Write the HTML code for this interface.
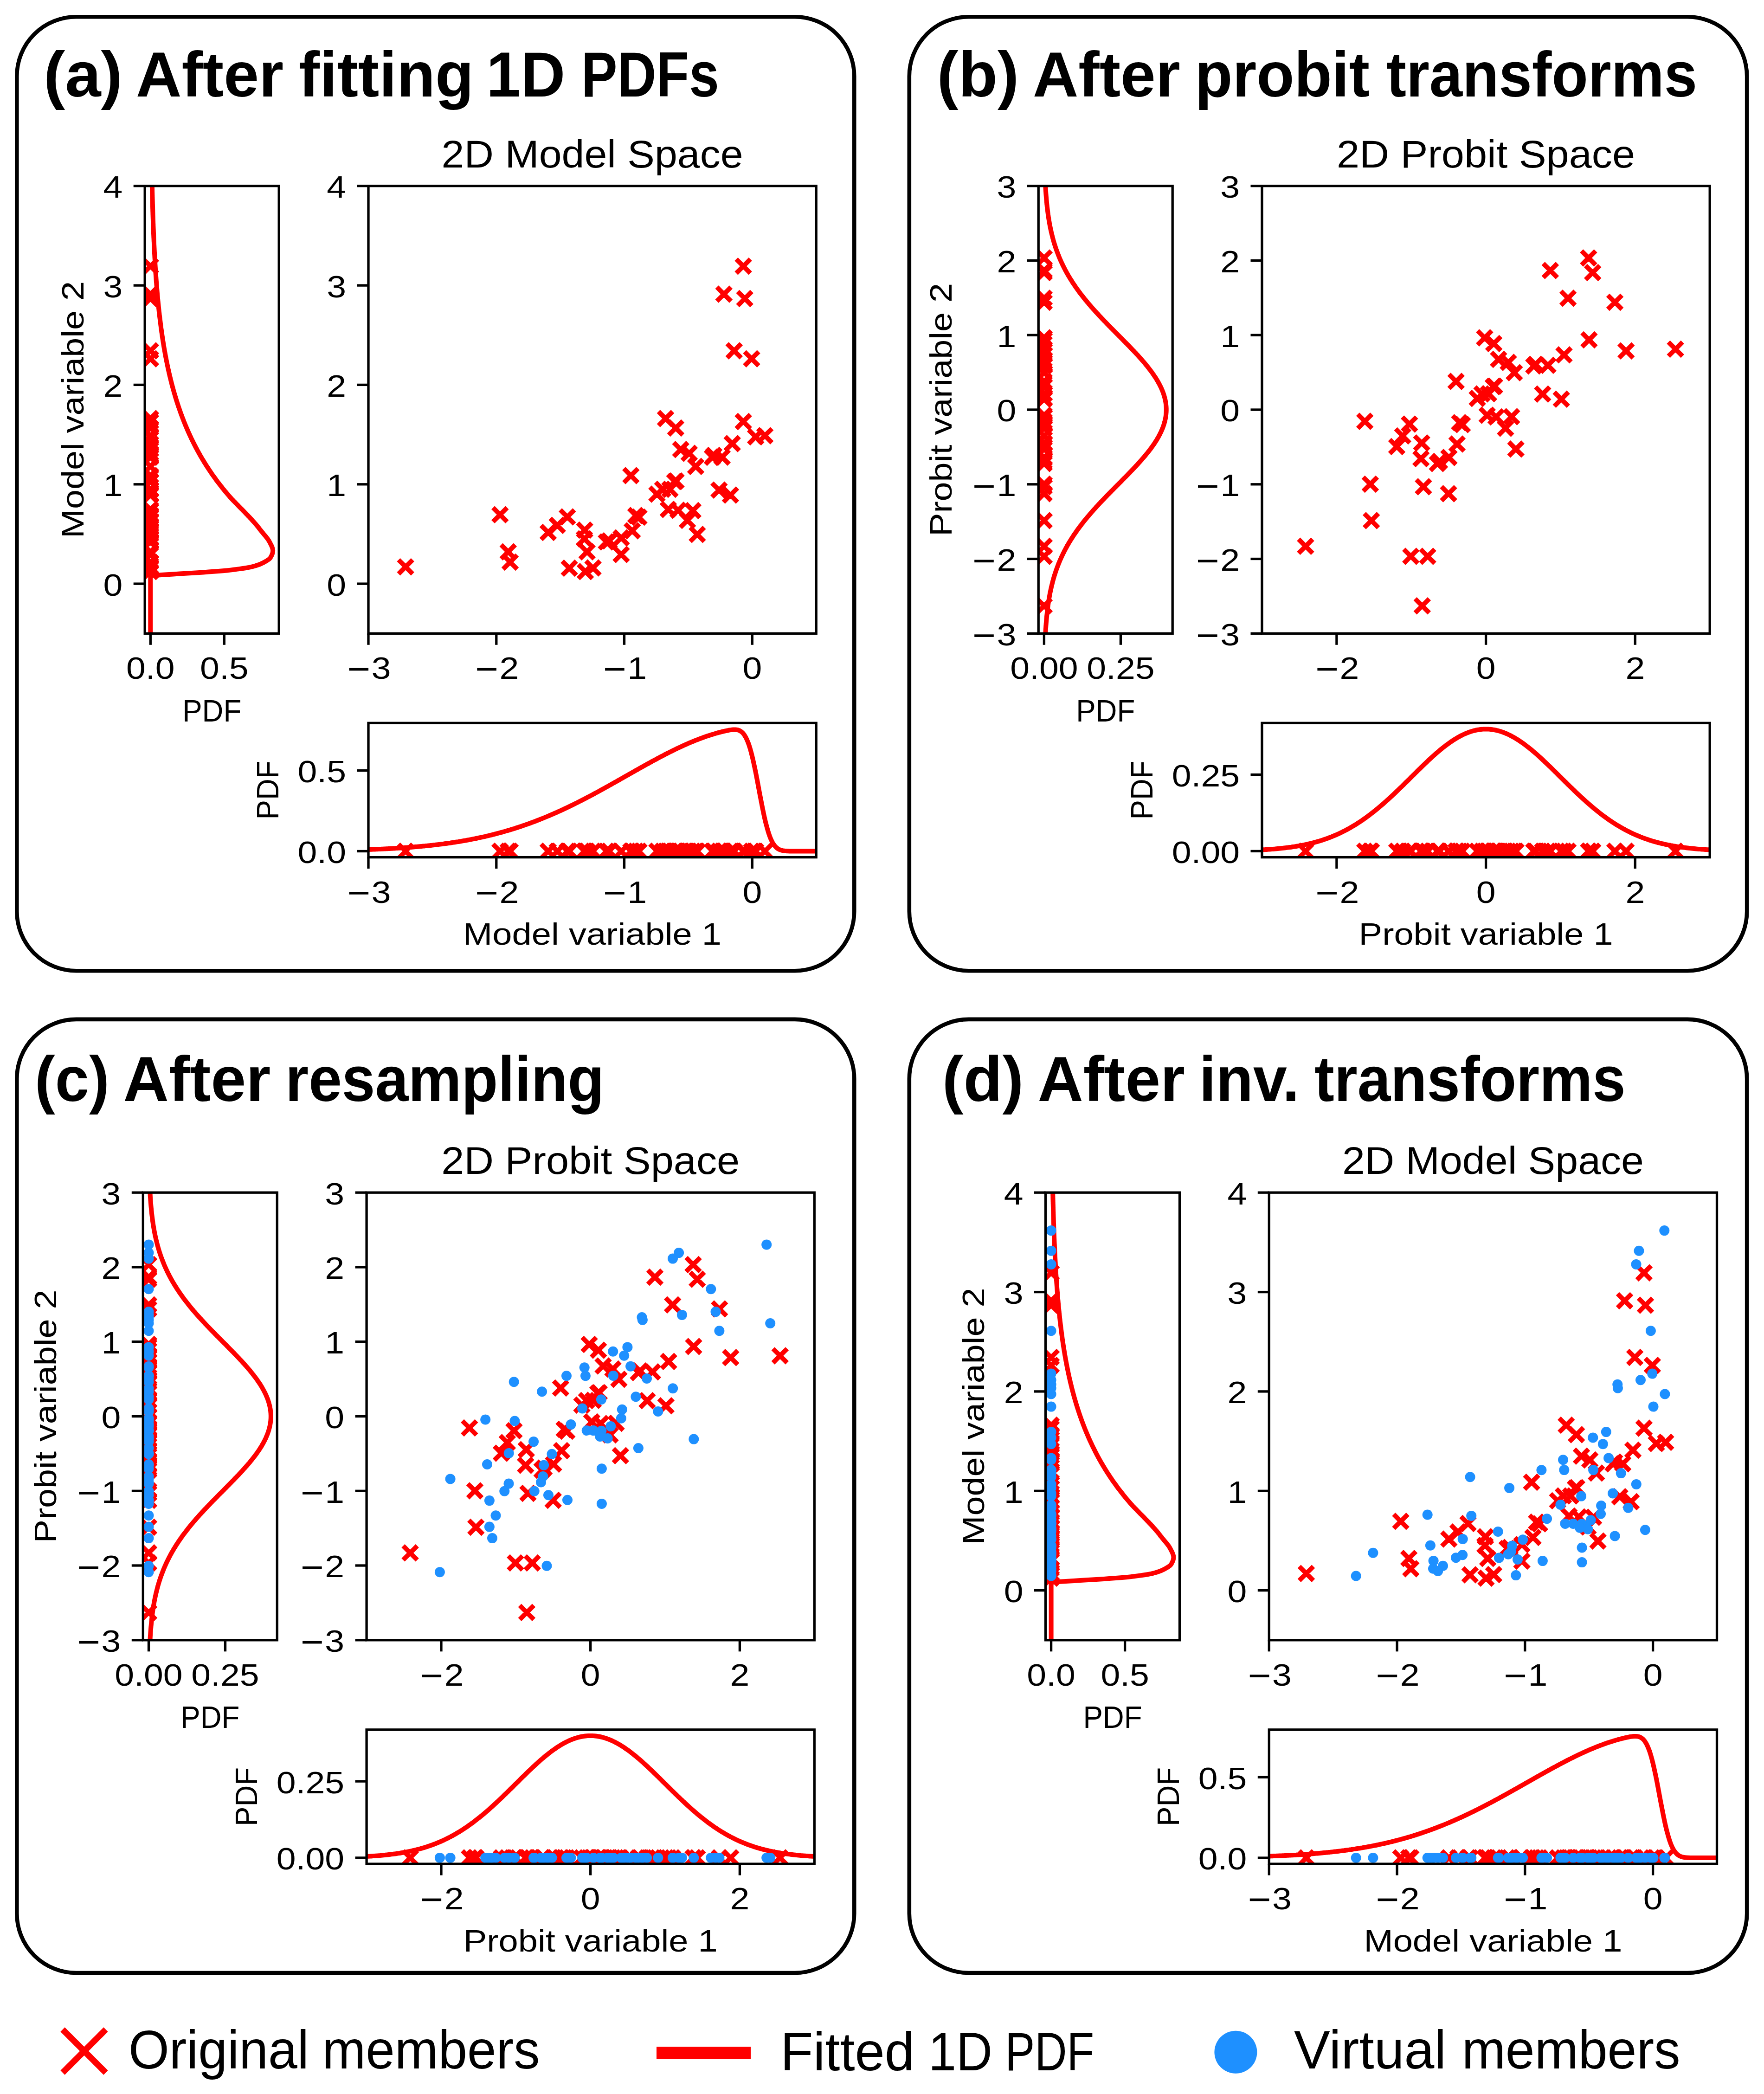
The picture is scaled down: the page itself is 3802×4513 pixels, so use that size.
<!DOCTYPE html><html><head><meta charset="utf-8"><title>figure</title><style>html,body{margin:0;padding:0;background:#fff}svg{display:block}</style></head><body>
<svg width="3802" height="4513" viewBox="0 0 3802 4513">
<rect width="3802" height="4513" fill="#fff"/>
<rect x="36.3" y="36.2" width="1804.9" height="2056.0" rx="128" ry="128" fill="none" stroke="#000" stroke-width="8.6"/>
<rect x="1959.8" y="36.2" width="1805.4" height="2056.0" rx="128" ry="128" fill="none" stroke="#000" stroke-width="8.6"/>
<rect x="36.3" y="2196.9" width="1804.9" height="2055.1" rx="128" ry="128" fill="none" stroke="#000" stroke-width="8.6"/>
<rect x="1959.8" y="2196.9" width="1805.4" height="2055.1" rx="128" ry="128" fill="none" stroke="#000" stroke-width="8.6"/>
<text x="94.0" y="208.0" font-size="137.0" text-anchor="start" font-family="Liberation Sans, sans-serif" font-weight="bold" textLength="169.9" lengthAdjust="spacingAndGlyphs" >(a)</text>
<text x="293.0" y="208.0" font-size="137.0" text-anchor="start" font-family="Liberation Sans, sans-serif" font-weight="bold" textLength="318.0" lengthAdjust="spacingAndGlyphs" >After</text>
<text x="643.8" y="208.0" font-size="137.0" text-anchor="start" font-family="Liberation Sans, sans-serif" font-weight="bold" textLength="377.3" lengthAdjust="spacingAndGlyphs" >fitting</text>
<text x="1048.3" y="208.0" font-size="137.0" text-anchor="start" font-family="Liberation Sans, sans-serif" font-weight="bold" textLength="169.8" lengthAdjust="spacingAndGlyphs" >1D</text>
<text x="1252.9" y="208.0" font-size="137.0" text-anchor="start" font-family="Liberation Sans, sans-serif" font-weight="bold" textLength="297.0" lengthAdjust="spacingAndGlyphs" >PDFs</text>
<text x="2019.4" y="208.0" font-size="137.0" text-anchor="start" font-family="Liberation Sans, sans-serif" font-weight="bold" textLength="176.7" lengthAdjust="spacingAndGlyphs" >(b)</text>
<text x="2226.0" y="208.0" font-size="137.0" text-anchor="start" font-family="Liberation Sans, sans-serif" font-weight="bold" textLength="317.8" lengthAdjust="spacingAndGlyphs" >After</text>
<text x="2575.3" y="208.0" font-size="137.0" text-anchor="start" font-family="Liberation Sans, sans-serif" font-weight="bold" textLength="376.7" lengthAdjust="spacingAndGlyphs" >probit</text>
<text x="2988.2" y="208.0" font-size="137.0" text-anchor="start" font-family="Liberation Sans, sans-serif" font-weight="bold" textLength="669.8" lengthAdjust="spacingAndGlyphs" >transforms</text>
<text x="75.0" y="2373.0" font-size="137.0" text-anchor="start" font-family="Liberation Sans, sans-serif" font-weight="bold" textLength="160.8" lengthAdjust="spacingAndGlyphs" >(c)</text>
<text x="265.4" y="2373.0" font-size="137.0" text-anchor="start" font-family="Liberation Sans, sans-serif" font-weight="bold" textLength="317.8" lengthAdjust="spacingAndGlyphs" >After</text>
<text x="615.1" y="2373.0" font-size="137.0" text-anchor="start" font-family="Liberation Sans, sans-serif" font-weight="bold" textLength="687.0" lengthAdjust="spacingAndGlyphs" >resampling</text>
<text x="2030.8" y="2373.0" font-size="137.0" text-anchor="start" font-family="Liberation Sans, sans-serif" font-weight="bold" textLength="175.5" lengthAdjust="spacingAndGlyphs" >(d)</text>
<text x="2236.6" y="2373.0" font-size="137.0" text-anchor="start" font-family="Liberation Sans, sans-serif" font-weight="bold" textLength="317.4" lengthAdjust="spacingAndGlyphs" >After</text>
<text x="2584.5" y="2373.0" font-size="137.0" text-anchor="start" font-family="Liberation Sans, sans-serif" font-weight="bold" textLength="216.0" lengthAdjust="spacingAndGlyphs" >inv.</text>
<text x="2833.0" y="2373.0" font-size="137.0" text-anchor="start" font-family="Liberation Sans, sans-serif" font-weight="bold" textLength="670.6" lengthAdjust="spacingAndGlyphs" >transforms</text>
<text x="276.9" y="4457.9" font-size="116.8" text-anchor="start" font-family="Liberation Sans, sans-serif" textLength="389.0" lengthAdjust="spacingAndGlyphs" >Original</text>
<text x="694.5" y="4457.9" font-size="116.8" text-anchor="start" font-family="Liberation Sans, sans-serif" textLength="468.9" lengthAdjust="spacingAndGlyphs" >members</text>
<text x="1682.1" y="4462.0" font-size="116.8" text-anchor="start" font-family="Liberation Sans, sans-serif" textLength="288.9" lengthAdjust="spacingAndGlyphs" >Fitted</text>
<text x="2000.9" y="4462.0" font-size="116.8" text-anchor="start" font-family="Liberation Sans, sans-serif" textLength="138.1" lengthAdjust="spacingAndGlyphs" >1D</text>
<text x="2166.2" y="4462.0" font-size="116.8" text-anchor="start" font-family="Liberation Sans, sans-serif" textLength="192.0" lengthAdjust="spacingAndGlyphs" >PDF</text>
<text x="2789.0" y="4457.9" font-size="116.8" text-anchor="start" font-family="Liberation Sans, sans-serif" textLength="328.2" lengthAdjust="spacingAndGlyphs" >Virtual</text>
<text x="3150.7" y="4457.9" font-size="116.8" text-anchor="start" font-family="Liberation Sans, sans-serif" textLength="470.9" lengthAdjust="spacingAndGlyphs" >members</text>
<g transform="translate(794.0,400.7)">
<clipPath id="cam"><rect x="0" y="0" width="965.2" height="964.6"/></clipPath>
<clipPath id="cal"><rect x="-481.8" y="0" width="289.0" height="964.6"/></clipPath>
<clipPath id="cab"><rect x="0" y="1157.6" width="965.2" height="289.3000000000002"/></clipPath>
<path d="M65.0,805.8l30.4,30.4m-30.4,0l30.4,-30.4M268.6,693.4l30.4,30.4m-30.4,0l30.4,-30.4M286.1,773.4l30.4,30.4m-30.4,0l30.4,-30.4M290.3,795.5l30.4,30.4m-30.4,0l30.4,-30.4M372.3,731.7l30.4,30.4m-30.4,0l30.4,-30.4M392.0,716.4l30.4,30.4m-30.4,0l30.4,-30.4M413.6,698.2l30.4,30.4m-30.4,0l30.4,-30.4M417.9,808.7l30.4,30.4m-30.4,0l30.4,-30.4M468.9,808.2l30.4,30.4m-30.4,0l30.4,-30.4M451.0,726.6l30.4,30.4m-30.4,0l30.4,-30.4M450.2,745.3l30.4,30.4m-30.4,0l30.4,-30.4M456.1,773.4l30.4,30.4m-30.4,0l30.4,-30.4M452.4,815.9l30.4,30.4m-30.4,0l30.4,-30.4M497.8,752.1l30.4,30.4m-30.4,0l30.4,-30.4M503.8,749.8l30.4,30.4m-30.4,0l30.4,-30.4M529.7,743.4l30.4,30.4m-30.4,0l30.4,-30.4M529.7,779.1l30.4,30.4m-30.4,0l30.4,-30.4M553.5,728.0l30.4,30.4m-30.4,0l30.4,-30.4M550.6,609.1l30.4,30.4m-30.4,0l30.4,-30.4M561.3,695.2l30.4,30.4m-30.4,0l30.4,-30.4M567.8,698.6l30.4,30.4m-30.4,0l30.4,-30.4M606.7,649.1l30.4,30.4m-30.4,0l30.4,-30.4M619.1,638.6l30.4,30.4m-30.4,0l30.4,-30.4M634.8,638.7l30.4,30.4m-30.4,0l30.4,-30.4M645.1,621.9l30.4,30.4m-30.4,0l30.4,-30.4M647.8,620.9l30.4,30.4m-30.4,0l30.4,-30.4M625.3,486.2l30.4,30.4m-30.4,0l30.4,-30.4M647.2,506.5l30.4,30.4m-30.4,0l30.4,-30.4M658.0,552.9l30.4,30.4m-30.4,0l30.4,-30.4M676.2,561.1l30.4,30.4m-30.4,0l30.4,-30.4M690.3,589.4l30.4,30.4m-30.4,0l30.4,-30.4M631.2,682.1l30.4,30.4m-30.4,0l30.4,-30.4M652.3,683.8l30.4,30.4m-30.4,0l30.4,-30.4M672.4,705.6l30.4,30.4m-30.4,0l30.4,-30.4M684.1,684.7l30.4,30.4m-30.4,0l30.4,-30.4M693.6,735.9l30.4,30.4m-30.4,0l30.4,-30.4M726.4,569.6l30.4,30.4m-30.4,0l30.4,-30.4M729.3,565.6l30.4,30.4m-30.4,0l30.4,-30.4M747.1,569.3l30.4,30.4m-30.4,0l30.4,-30.4M769.0,540.2l30.4,30.4m-30.4,0l30.4,-30.4M740.6,640.3l30.4,30.4m-30.4,0l30.4,-30.4M765.2,651.1l30.4,30.4m-30.4,0l30.4,-30.4M751.1,218.0l30.4,30.4m-30.4,0l30.4,-30.4M773.1,340.1l30.4,30.4m-30.4,0l30.4,-30.4M792.9,157.8l30.4,30.4m-30.4,0l30.4,-30.4M796.0,227.6l30.4,30.4m-30.4,0l30.4,-30.4M792.9,492.7l30.4,30.4m-30.4,0l30.4,-30.4M810.8,357.3l30.4,30.4m-30.4,0l30.4,-30.4M819.5,525.7l30.4,30.4m-30.4,0l30.4,-30.4M839.4,523.0l30.4,30.4m-30.4,0l30.4,-30.4" stroke="#ff0000" stroke-width="10" fill="none" clip-path="url(#cam)"/>
<path d="M-484.9,805.8l30.4,30.4m-30.4,0l30.4,-30.4M-484.9,693.4l30.4,30.4m-30.4,0l30.4,-30.4M-484.9,773.4l30.4,30.4m-30.4,0l30.4,-30.4M-484.9,795.5l30.4,30.4m-30.4,0l30.4,-30.4M-484.9,731.7l30.4,30.4m-30.4,0l30.4,-30.4M-484.9,716.4l30.4,30.4m-30.4,0l30.4,-30.4M-484.9,698.2l30.4,30.4m-30.4,0l30.4,-30.4M-484.9,808.7l30.4,30.4m-30.4,0l30.4,-30.4M-484.9,808.2l30.4,30.4m-30.4,0l30.4,-30.4M-484.9,726.6l30.4,30.4m-30.4,0l30.4,-30.4M-484.9,745.3l30.4,30.4m-30.4,0l30.4,-30.4M-484.9,773.4l30.4,30.4m-30.4,0l30.4,-30.4M-484.9,815.9l30.4,30.4m-30.4,0l30.4,-30.4M-484.9,752.1l30.4,30.4m-30.4,0l30.4,-30.4M-484.9,749.8l30.4,30.4m-30.4,0l30.4,-30.4M-484.9,743.4l30.4,30.4m-30.4,0l30.4,-30.4M-484.9,779.1l30.4,30.4m-30.4,0l30.4,-30.4M-484.9,728.0l30.4,30.4m-30.4,0l30.4,-30.4M-484.9,609.1l30.4,30.4m-30.4,0l30.4,-30.4M-484.9,695.2l30.4,30.4m-30.4,0l30.4,-30.4M-484.9,698.6l30.4,30.4m-30.4,0l30.4,-30.4M-484.9,649.1l30.4,30.4m-30.4,0l30.4,-30.4M-484.9,638.6l30.4,30.4m-30.4,0l30.4,-30.4M-484.9,638.7l30.4,30.4m-30.4,0l30.4,-30.4M-484.9,621.9l30.4,30.4m-30.4,0l30.4,-30.4M-484.9,620.9l30.4,30.4m-30.4,0l30.4,-30.4M-484.9,486.2l30.4,30.4m-30.4,0l30.4,-30.4M-484.9,506.5l30.4,30.4m-30.4,0l30.4,-30.4M-484.9,552.9l30.4,30.4m-30.4,0l30.4,-30.4M-484.9,561.1l30.4,30.4m-30.4,0l30.4,-30.4M-484.9,589.4l30.4,30.4m-30.4,0l30.4,-30.4M-484.9,682.1l30.4,30.4m-30.4,0l30.4,-30.4M-484.9,683.8l30.4,30.4m-30.4,0l30.4,-30.4M-484.9,705.6l30.4,30.4m-30.4,0l30.4,-30.4M-484.9,684.7l30.4,30.4m-30.4,0l30.4,-30.4M-484.9,735.9l30.4,30.4m-30.4,0l30.4,-30.4M-484.9,569.6l30.4,30.4m-30.4,0l30.4,-30.4M-484.9,565.6l30.4,30.4m-30.4,0l30.4,-30.4M-484.9,569.3l30.4,30.4m-30.4,0l30.4,-30.4M-484.9,540.2l30.4,30.4m-30.4,0l30.4,-30.4M-484.9,640.3l30.4,30.4m-30.4,0l30.4,-30.4M-484.9,651.1l30.4,30.4m-30.4,0l30.4,-30.4M-484.9,218.0l30.4,30.4m-30.4,0l30.4,-30.4M-484.9,340.1l30.4,30.4m-30.4,0l30.4,-30.4M-484.9,157.8l30.4,30.4m-30.4,0l30.4,-30.4M-484.9,227.6l30.4,30.4m-30.4,0l30.4,-30.4M-484.9,492.7l30.4,30.4m-30.4,0l30.4,-30.4M-484.9,357.3l30.4,30.4m-30.4,0l30.4,-30.4M-484.9,525.7l30.4,30.4m-30.4,0l30.4,-30.4M-484.9,523.0l30.4,30.4m-30.4,0l30.4,-30.4" stroke="#ff0000" stroke-width="10" fill="none" clip-path="url(#cal)"/>
<path d="M65.0,1418.6l30.4,30.4m-30.4,0l30.4,-30.4M268.6,1418.6l30.4,30.4m-30.4,0l30.4,-30.4M286.1,1418.6l30.4,30.4m-30.4,0l30.4,-30.4M290.3,1418.6l30.4,30.4m-30.4,0l30.4,-30.4M372.3,1418.6l30.4,30.4m-30.4,0l30.4,-30.4M392.0,1418.6l30.4,30.4m-30.4,0l30.4,-30.4M413.6,1418.6l30.4,30.4m-30.4,0l30.4,-30.4M417.9,1418.6l30.4,30.4m-30.4,0l30.4,-30.4M468.9,1418.6l30.4,30.4m-30.4,0l30.4,-30.4M451.0,1418.6l30.4,30.4m-30.4,0l30.4,-30.4M450.2,1418.6l30.4,30.4m-30.4,0l30.4,-30.4M456.1,1418.6l30.4,30.4m-30.4,0l30.4,-30.4M452.4,1418.6l30.4,30.4m-30.4,0l30.4,-30.4M497.8,1418.6l30.4,30.4m-30.4,0l30.4,-30.4M503.8,1418.6l30.4,30.4m-30.4,0l30.4,-30.4M529.7,1418.6l30.4,30.4m-30.4,0l30.4,-30.4M529.7,1418.6l30.4,30.4m-30.4,0l30.4,-30.4M553.5,1418.6l30.4,30.4m-30.4,0l30.4,-30.4M550.6,1418.6l30.4,30.4m-30.4,0l30.4,-30.4M561.3,1418.6l30.4,30.4m-30.4,0l30.4,-30.4M567.8,1418.6l30.4,30.4m-30.4,0l30.4,-30.4M606.7,1418.6l30.4,30.4m-30.4,0l30.4,-30.4M619.1,1418.6l30.4,30.4m-30.4,0l30.4,-30.4M634.8,1418.6l30.4,30.4m-30.4,0l30.4,-30.4M645.1,1418.6l30.4,30.4m-30.4,0l30.4,-30.4M647.8,1418.6l30.4,30.4m-30.4,0l30.4,-30.4M625.3,1418.6l30.4,30.4m-30.4,0l30.4,-30.4M647.2,1418.6l30.4,30.4m-30.4,0l30.4,-30.4M658.0,1418.6l30.4,30.4m-30.4,0l30.4,-30.4M676.2,1418.6l30.4,30.4m-30.4,0l30.4,-30.4M690.3,1418.6l30.4,30.4m-30.4,0l30.4,-30.4M631.2,1418.6l30.4,30.4m-30.4,0l30.4,-30.4M652.3,1418.6l30.4,30.4m-30.4,0l30.4,-30.4M672.4,1418.6l30.4,30.4m-30.4,0l30.4,-30.4M684.1,1418.6l30.4,30.4m-30.4,0l30.4,-30.4M693.6,1418.6l30.4,30.4m-30.4,0l30.4,-30.4M726.4,1418.6l30.4,30.4m-30.4,0l30.4,-30.4M729.3,1418.6l30.4,30.4m-30.4,0l30.4,-30.4M747.1,1418.6l30.4,30.4m-30.4,0l30.4,-30.4M769.0,1418.6l30.4,30.4m-30.4,0l30.4,-30.4M740.6,1418.6l30.4,30.4m-30.4,0l30.4,-30.4M765.2,1418.6l30.4,30.4m-30.4,0l30.4,-30.4M751.1,1418.6l30.4,30.4m-30.4,0l30.4,-30.4M773.1,1418.6l30.4,30.4m-30.4,0l30.4,-30.4M792.9,1418.6l30.4,30.4m-30.4,0l30.4,-30.4M796.0,1418.6l30.4,30.4m-30.4,0l30.4,-30.4M792.9,1418.6l30.4,30.4m-30.4,0l30.4,-30.4M810.8,1418.6l30.4,30.4m-30.4,0l30.4,-30.4M819.5,1418.6l30.4,30.4m-30.4,0l30.4,-30.4M839.4,1418.6l30.4,30.4m-30.4,0l30.4,-30.4" stroke="#ff0000" stroke-width="10" fill="none" clip-path="url(#cab)"/>
<path d="M0.0,1430.3L2.4,1430.2L4.8,1430.1L7.3,1430.0L9.7,1429.9L12.1,1429.8L14.5,1429.7L16.9,1429.6L19.4,1429.5L21.8,1429.4L24.2,1429.3L26.6,1429.2L29.0,1429.1L31.4,1429.0L33.9,1428.9L36.3,1428.8L38.7,1428.6L41.1,1428.5L43.5,1428.4L46.0,1428.3L48.4,1428.1L50.8,1428.0L53.2,1427.8L55.6,1427.7L58.1,1427.6L60.5,1427.4L62.9,1427.3L65.3,1427.1L67.7,1427.0L70.2,1426.8L72.6,1426.6L75.0,1426.5L77.4,1426.3L79.8,1426.1L82.2,1426.0L84.7,1425.8L87.1,1425.6L89.5,1425.4L91.9,1425.2L94.3,1425.0L96.8,1424.8L99.2,1424.6L101.6,1424.4L104.0,1424.2L106.4,1424.0L108.9,1423.8L111.3,1423.6L113.7,1423.4L116.1,1423.1L118.5,1422.9L121.0,1422.7L123.4,1422.4L125.8,1422.2L128.2,1421.9L130.6,1421.7L133.0,1421.4L135.5,1421.2L137.9,1420.9L140.3,1420.6L142.7,1420.4L145.1,1420.1L147.6,1419.8L150.0,1419.5L152.4,1419.2L154.8,1418.9L157.2,1418.6L159.7,1418.3L162.1,1418.0L164.5,1417.6L166.9,1417.3L169.3,1417.0L171.8,1416.7L174.2,1416.3L176.6,1416.0L179.0,1415.6L181.4,1415.2L183.8,1414.9L186.3,1414.5L188.7,1414.1L191.1,1413.7L193.5,1413.4L195.9,1413.0L198.4,1412.6L200.8,1412.2L203.2,1411.7L205.6,1411.3L208.0,1410.9L210.5,1410.5L212.9,1410.0L215.3,1409.6L217.7,1409.1L220.1,1408.7L222.6,1408.2L225.0,1407.7L227.4,1407.2L229.8,1406.8L232.2,1406.3L234.6,1405.8L237.1,1405.2L239.5,1404.7L241.9,1404.2L244.3,1403.7L246.7,1403.1L249.2,1402.6L251.6,1402.1L254.0,1401.5L256.4,1400.9L258.8,1400.4L261.3,1399.8L263.7,1399.2L266.1,1398.6L268.5,1398.0L270.9,1397.4L273.4,1396.7L275.8,1396.1L278.2,1395.5L280.6,1394.8L283.0,1394.2L285.4,1393.5L287.9,1392.9L290.3,1392.2L292.7,1391.5L295.1,1390.8L297.5,1390.1L300.0,1389.4L302.4,1388.7L304.8,1388.0L307.2,1387.2L309.6,1386.5L312.1,1385.7L314.5,1385.0L316.9,1384.2L319.3,1383.4L321.7,1382.7L324.2,1381.9L326.6,1381.1L329.0,1380.3L331.4,1379.4L333.8,1378.6L336.2,1377.8L338.7,1376.9L341.1,1376.1L343.5,1375.2L345.9,1374.4L348.3,1373.5L350.8,1372.6L353.2,1371.7L355.6,1370.8L358.0,1369.9L360.4,1369.0L362.9,1368.0L365.3,1367.1L367.7,1366.2L370.1,1365.2L372.5,1364.2L375.0,1363.3L377.4,1362.3L379.8,1361.3L382.2,1360.3L384.6,1359.3L387.0,1358.3L389.5,1357.3L391.9,1356.2L394.3,1355.2L396.7,1354.1L399.1,1353.1L401.6,1352.0L404.0,1351.0L406.4,1349.9L408.8,1348.8L411.2,1347.7L413.7,1346.6L416.1,1345.5L418.5,1344.4L420.9,1343.3L423.3,1342.1L425.8,1341.0L428.2,1339.8L430.6,1338.7L433.0,1337.5L435.4,1336.3L437.8,1335.2L440.3,1334.0L442.7,1332.8L445.1,1331.6L447.5,1330.4L449.9,1329.2L452.4,1328.0L454.8,1326.7L457.2,1325.5L459.6,1324.3L462.0,1323.0L464.5,1321.8L466.9,1320.5L469.3,1319.3L471.7,1318.0L474.1,1316.7L476.5,1315.5L479.0,1314.2L481.4,1312.9L483.8,1311.6L486.2,1310.3L488.6,1309.0L491.1,1307.7L493.5,1306.4L495.9,1305.1L498.3,1303.7L500.7,1302.4L503.2,1301.1L505.6,1299.7L508.0,1298.4L510.4,1297.1L512.8,1295.7L515.3,1294.4L517.7,1293.0L520.1,1291.7L522.5,1290.3L524.9,1289.0L527.3,1287.6L529.8,1286.2L532.2,1284.9L534.6,1283.5L537.0,1282.1L539.4,1280.8L541.9,1279.4L544.3,1278.0L546.7,1276.7L549.1,1275.3L551.5,1273.9L554.0,1272.5L556.4,1271.2L558.8,1269.8L561.2,1268.4L563.6,1267.0L566.1,1265.7L568.5,1264.3L570.9,1262.9L573.3,1261.6L575.7,1260.2L578.1,1258.8L580.6,1257.5L583.0,1256.1L585.4,1254.7L587.8,1253.4L590.2,1252.0L592.7,1250.7L595.1,1249.3L597.5,1248.0L599.9,1246.6L602.3,1245.3L604.8,1244.0L607.2,1242.6L609.6,1241.3L612.0,1240.0L614.4,1238.7L616.9,1237.4L619.3,1236.1L621.7,1234.8L624.1,1233.5L626.5,1232.2L628.9,1230.9L631.4,1229.6L633.8,1228.4L636.2,1227.1L638.6,1225.8L641.0,1224.6L643.5,1223.3L645.9,1222.1L648.3,1220.9L650.7,1219.7L653.1,1218.5L655.6,1217.3L658.0,1216.1L660.4,1214.9L662.8,1213.7L665.2,1212.6L667.7,1211.4L670.1,1210.3L672.5,1209.2L674.9,1208.0L677.3,1206.9L679.7,1205.8L682.2,1204.7L684.6,1203.7L687.0,1202.6L689.4,1201.5L691.8,1200.5L694.3,1199.5L696.7,1198.5L699.1,1197.4L701.5,1196.5L703.9,1195.5L706.4,1194.5L708.8,1193.6L711.2,1192.6L713.6,1191.7L716.0,1190.8L718.5,1189.9L720.9,1189.0L723.3,1188.1L725.7,1187.3L728.1,1186.4L730.5,1185.6L733.0,1184.8L735.4,1184.0L737.8,1183.2L740.2,1182.5L742.6,1181.7L745.1,1181.0L747.5,1180.3L749.9,1179.6L752.3,1178.9L754.7,1178.2L757.2,1177.6L759.6,1177.0L762.0,1176.3L764.4,1175.8L766.8,1175.2L769.3,1174.6L771.7,1174.1L774.1,1173.6L776.5,1173.1L778.9,1172.7L781.3,1172.4L783.8,1172.1L786.2,1171.9L788.6,1171.7L791.0,1171.8L793.4,1172.0L795.9,1172.4L798.3,1173.2L800.7,1174.2L803.1,1175.7L805.5,1177.6L808.0,1180.2L810.4,1183.4L812.8,1187.3L815.2,1192.0L817.6,1197.7L820.1,1204.2L822.5,1211.8L824.9,1220.3L827.3,1229.7L829.7,1240.1L832.1,1251.2L834.6,1263.0L837.0,1275.4L839.4,1288.1L841.8,1301.1L844.2,1314.0L846.7,1326.7L849.1,1339.0L851.5,1350.8L853.9,1361.9L856.3,1372.2L858.8,1381.6L861.2,1390.1L863.6,1397.7L866.0,1404.3L868.4,1409.9L870.9,1414.8L873.3,1418.8L875.7,1422.1L878.1,1424.8L880.5,1427.0L882.9,1428.7L885.4,1430.0L887.8,1431.1L890.2,1431.8L892.6,1432.4L895.0,1432.8L897.5,1433.1L899.9,1433.3L902.3,1433.5L904.7,1433.6L907.1,1433.7L909.6,1433.7L912.0,1433.7L914.4,1433.8L916.8,1433.8L919.2,1433.8L921.7,1433.8L924.1,1433.8L926.5,1433.8L928.9,1433.8L931.3,1433.8L933.7,1433.8L936.2,1433.8L938.6,1433.8L941.0,1433.8L943.4,1433.8L945.8,1433.8L948.3,1433.8L950.7,1433.8L953.1,1433.8L955.5,1433.8L957.9,1433.8L960.4,1433.8L962.8,1433.8L965.2,1433.8" stroke="#ff0000" stroke-width="10.0" fill="none" stroke-linejoin="round" clip-path="url(#cab)"/>
<path d="M-469.7,964.6L-469.7,963.8L-469.7,963.0L-469.7,962.2L-469.7,961.4L-469.7,960.6L-469.7,959.8L-469.7,959.0L-469.7,958.2L-469.7,957.4L-469.7,956.6L-469.7,955.8L-469.7,955.0L-469.7,954.2L-469.7,953.4L-469.7,952.6L-469.7,951.7L-469.7,950.9L-469.7,950.1L-469.7,949.3L-469.7,948.5L-469.7,947.7L-469.7,946.9L-469.7,946.1L-469.7,945.3L-469.7,944.5L-469.7,943.7L-469.7,942.9L-469.7,942.1L-469.7,941.3L-469.7,940.5L-469.7,939.7L-469.7,938.9L-469.7,938.1L-469.7,937.3L-469.7,936.5L-469.7,935.7L-469.7,934.9L-469.7,934.0L-469.7,933.2L-469.7,932.4L-469.7,931.6L-469.7,930.8L-469.7,930.0L-469.7,929.2L-469.7,928.4L-469.7,927.6L-469.7,926.8L-469.7,926.0L-469.7,925.2L-469.7,924.4L-469.7,923.6L-469.7,922.8L-469.7,922.0L-469.7,921.2L-469.7,920.4L-469.7,919.6L-469.7,918.8L-469.7,918.0L-469.7,917.2L-469.7,916.3L-469.7,915.5L-469.7,914.7L-469.7,913.9L-469.7,913.1L-469.7,912.3L-469.7,911.5L-469.7,910.7L-469.7,909.9L-469.7,909.1L-469.7,908.3L-469.7,907.5L-469.7,906.7L-469.7,905.9L-469.7,905.1L-469.7,904.3L-469.7,903.5L-469.7,902.7L-469.7,901.9L-469.7,901.1L-469.7,900.3L-469.7,899.5L-469.7,898.6L-469.7,897.8L-469.7,897.0L-469.7,896.2L-469.7,895.4L-469.7,894.6L-469.7,893.8L-469.7,893.0L-469.7,892.2L-469.7,891.4L-469.7,890.6L-469.7,889.8L-469.7,889.0L-469.7,888.2L-469.7,887.4L-469.7,886.6L-469.7,885.8L-469.7,885.0L-469.7,884.2L-469.7,883.4L-469.7,882.6L-469.7,881.8L-469.7,880.9L-469.7,880.1L-469.7,879.3L-469.7,878.5L-469.7,877.7L-469.7,876.9L-469.7,876.1L-469.7,875.3L-469.7,874.5L-469.7,873.7L-469.7,872.9L-469.7,872.1L-469.7,871.3L-469.7,870.5L-469.7,869.7L-469.7,868.9L-469.7,868.1L-469.7,867.3L-469.7,866.5L-469.7,865.7L-469.7,864.9L-469.7,864.1L-469.7,863.3L-469.7,862.4L-469.7,861.6L-469.7,860.8L-469.7,860.0L-469.7,859.2L-469.7,858.4L-469.7,857.6L-469.7,856.8L-469.7,856.0L-469.7,855.2L-469.7,854.4L-469.7,853.6L-469.7,852.8L-469.7,852.0L-469.7,851.2L-469.7,850.4L-469.7,849.6L-469.7,848.8L-469.7,848.0L-469.7,847.2L-469.7,846.4L-469.7,845.6L-469.7,844.7L-469.7,843.9L-469.7,843.1L-469.7,842.3L-469.7,841.5L-469.7,840.7L-465.5,839.9L-456.5,839.1L-446.1,838.3L-433.8,837.5L-420.5,836.7L-406.9,835.9L-393.9,835.1L-381.0,834.3L-368.2,833.5L-355.9,832.7L-344.6,831.9L-333.8,831.1L-323.4,830.3L-313.7,829.5L-304.9,828.7L-297.5,827.9L-290.6,827.0L-284.1,826.2L-278.0,825.4L-272.3,824.6L-266.9,823.8L-262.0,823.0L-257.6,822.2L-253.8,821.4L-250.4,820.6L-247.3,819.8L-244.5,819.0L-241.8,818.2L-239.3,817.4L-237.0,816.6L-234.8,815.8L-232.8,815.0L-231.0,814.2L-229.3,813.4L-227.6,812.6L-226.1,811.8L-224.6,811.0L-223.1,810.2L-221.7,809.3L-220.3,808.5L-219.0,807.7L-217.7,806.9L-216.5,806.1L-215.4,805.3L-214.3,804.5L-213.4,803.7L-212.5,802.9L-211.8,802.1L-211.2,801.3L-210.7,800.5L-210.2,799.7L-209.8,798.9L-209.4,798.1L-209.0,797.3L-208.6,796.5L-208.2,795.7L-207.9,794.9L-207.6,794.1L-207.3,793.3L-207.0,792.5L-206.7,791.6L-206.5,790.8L-206.3,790.0L-206.2,789.2L-206.0,788.4L-206.0,787.6L-205.9,786.8L-205.9,786.0L-205.9,785.2L-206.0,784.4L-206.1,783.6L-206.3,782.8L-206.4,782.0L-206.7,781.2L-206.9,780.4L-207.2,779.6L-207.4,778.8L-207.8,778.0L-208.1,777.2L-208.4,776.4L-208.8,775.6L-209.2,774.8L-209.6,773.9L-210.0,773.1L-210.4,772.3L-210.8,771.5L-211.2,770.7L-211.7,769.9L-212.1,769.1L-212.5,768.3L-212.9,767.5L-213.3,766.7L-213.8,765.9L-214.2,765.1L-214.7,764.3L-215.2,763.5L-215.8,762.7L-216.3,761.9L-216.9,761.1L-217.5,760.3L-218.1,759.5L-218.7,758.7L-219.3,757.9L-220.0,757.1L-220.6,756.2L-221.3,755.4L-222.0,754.6L-222.6,753.8L-223.3,753.0L-224.0,752.2L-224.6,751.4L-225.3,750.6L-226.0,749.8L-226.6,749.0L-227.3,748.2L-227.9,747.4L-228.6,746.6L-229.2,745.8L-229.9,745.0L-230.5,744.2L-231.2,743.4L-231.8,742.6L-232.5,741.8L-233.2,741.0L-233.9,740.2L-234.5,739.4L-235.1,738.5L-235.7,737.7L-236.3,736.9L-236.9,736.1L-237.6,735.3L-238.2,734.5L-238.9,733.7L-239.5,732.9L-240.2,732.1L-240.8,731.3L-241.5,730.5L-242.2,729.7L-242.9,728.9L-243.6,728.1L-244.3,727.3L-245.0,726.5L-245.7,725.7L-246.4,724.9L-247.1,724.1L-247.8,723.3L-248.5,722.5L-249.3,721.7L-250.0,720.9L-250.7,720.0L-251.5,719.2L-252.2,718.4L-252.9,717.6L-253.7,716.8L-254.4,716.0L-255.2,715.2L-255.9,714.4L-256.7,713.6L-257.4,712.8L-258.2,712.0L-259.0,711.2L-259.7,710.4L-260.5,709.6L-261.3,708.8L-262.0,708.0L-262.8,707.2L-263.6,706.4L-264.4,705.6L-265.1,704.8L-265.9,704.0L-266.7,703.2L-267.5,702.3L-268.3,701.5L-269.1,700.7L-269.9,699.9L-270.7,699.1L-271.4,698.3L-272.2,697.5L-273.0,696.7L-273.8,695.9L-274.6,695.1L-275.4,694.3L-276.2,693.5L-277.0,692.7L-277.8,691.9L-278.6,691.1L-279.4,690.3L-280.1,689.5L-280.9,688.7L-281.7,687.9L-282.5,687.1L-283.3,686.3L-284.1,685.5L-284.9,684.6L-285.6,683.8L-286.4,683.0L-287.2,682.2L-288.0,681.4L-288.8,680.6L-289.6,679.8L-290.3,679.0L-291.1,678.2L-291.9,677.4L-292.7,676.6L-293.4,675.8L-294.2,675.0L-294.9,674.2L-295.6,673.4L-296.3,672.6L-297.0,671.8L-297.8,671.0L-298.5,670.2L-299.2,669.4L-299.9,668.6L-300.6,667.8L-301.3,666.9L-302.0,666.1L-302.6,665.3L-303.3,664.5L-304.0,663.7L-304.7,662.9L-305.4,662.1L-306.1,661.3L-306.7,660.5L-307.4,659.7L-308.1,658.9L-308.8,658.1L-309.4,657.3L-310.1,656.5L-310.7,655.7L-311.4,654.9L-312.1,654.1L-312.7,653.3L-313.4,652.5L-314.0,651.7L-314.7,650.9L-315.3,650.1L-315.9,649.2L-316.6,648.4L-317.2,647.6L-317.8,646.8L-318.5,646.0L-319.1,645.2L-319.7,644.4L-320.4,643.6L-321.0,642.8L-321.6,642.0L-322.2,641.2L-322.8,640.4L-323.4,639.6L-324.1,638.8L-324.7,638.0L-325.3,637.2L-325.9,636.4L-326.5,635.6L-327.1,634.8L-327.7,634.0L-328.3,633.2L-328.9,632.4L-329.4,631.5L-330.0,630.7L-330.6,629.9L-331.2,629.1L-331.8,628.3L-332.4,627.5L-332.9,626.7L-333.5,625.9L-334.1,625.1L-334.7,624.3L-335.2,623.5L-335.8,622.7L-336.4,621.9L-336.9,621.1L-337.5,620.3L-338.0,619.5L-338.6,618.7L-339.1,617.9L-339.7,617.1L-340.2,616.3L-340.8,615.5L-341.3,614.7L-341.9,613.8L-342.4,613.0L-342.9,612.2L-343.5,611.4L-344.0,610.6L-344.6,609.8L-345.1,609.0L-345.6,608.2L-346.1,607.4L-346.7,606.6L-347.2,605.8L-347.7,605.0L-348.2,604.2L-348.7,603.4L-349.2,602.6L-349.8,601.8L-350.3,601.0L-350.8,600.2L-351.3,599.4L-351.8,598.6L-352.3,597.8L-352.8,597.0L-353.3,596.1L-353.8,595.3L-354.3,594.5L-354.8,593.7L-355.3,592.9L-355.7,592.1L-356.2,591.3L-356.7,590.5L-357.2,589.7L-357.7,588.9L-358.2,588.1L-358.6,587.3L-359.1,586.5L-359.6,585.7L-360.1,584.9L-360.5,584.1L-361.0,583.3L-361.5,582.5L-361.9,581.7L-362.4,580.9L-362.8,580.1L-363.3,579.3L-363.8,578.5L-364.2,577.6L-364.7,576.8L-365.1,576.0L-365.6,575.2L-366.0,574.4L-366.5,573.6L-366.9,572.8L-367.3,572.0L-367.8,571.2L-368.2,570.4L-368.7,569.6L-369.1,568.8L-369.5,568.0L-370.0,567.2L-370.4,566.4L-370.8,565.6L-371.2,564.8L-371.7,564.0L-372.1,563.2L-372.5,562.4L-372.9,561.6L-373.4,560.8L-373.8,559.9L-374.2,559.1L-374.6,558.3L-375.0,557.5L-375.4,556.7L-375.8,555.9L-376.2,555.1L-376.6,554.3L-377.0,553.5L-377.4,552.7L-377.8,551.9L-378.2,551.1L-378.6,550.3L-379.0,549.5L-379.4,548.7L-379.8,547.9L-380.2,547.1L-380.6,546.3L-381.0,545.5L-381.4,544.7L-381.8,543.9L-382.1,543.1L-382.5,542.2L-382.9,541.4L-383.3,540.6L-383.7,539.8L-384.0,539.0L-384.4,538.2L-384.8,537.4L-385.2,536.6L-385.5,535.8L-385.9,535.0L-386.3,534.2L-386.6,533.4L-387.0,532.6L-387.4,531.8L-387.7,531.0L-388.1,530.2L-388.4,529.4L-388.8,528.6L-389.1,527.8L-389.5,527.0L-389.8,526.2L-390.2,525.4L-390.5,524.5L-390.9,523.7L-391.2,522.9L-391.6,522.1L-391.9,521.3L-392.3,520.5L-392.6,519.7L-392.9,518.9L-393.3,518.1L-393.6,517.3L-394.0,516.5L-394.3,515.7L-394.6,514.9L-395.0,514.1L-395.3,513.3L-395.6,512.5L-395.9,511.7L-396.3,510.9L-396.6,510.1L-396.9,509.3L-397.2,508.5L-397.6,507.7L-397.9,506.8L-398.2,506.0L-398.5,505.2L-398.8,504.4L-399.1,503.6L-399.4,502.8L-399.8,502.0L-400.1,501.2L-400.4,500.4L-400.7,499.6L-401.0,498.8L-401.3,498.0L-401.6,497.2L-401.9,496.4L-402.2,495.6L-402.5,494.8L-402.8,494.0L-403.1,493.2L-403.4,492.4L-403.7,491.6L-404.0,490.8L-404.3,490.0L-404.6,489.1L-404.9,488.3L-405.1,487.5L-405.4,486.7L-405.7,485.9L-406.0,485.1L-406.3,484.3L-406.6,483.5L-406.8,482.7L-407.1,481.9L-407.4,481.1L-407.7,480.3L-408.0,479.5L-408.2,478.7L-408.5,477.9L-408.8,477.1L-409.1,476.3L-409.3,475.5L-409.6,474.7L-409.9,473.9L-410.1,473.1L-410.4,472.3L-410.7,471.4L-410.9,470.6L-411.2,469.8L-411.5,469.0L-411.7,468.2L-412.0,467.4L-412.2,466.6L-412.5,465.8L-412.8,465.0L-413.0,464.2L-413.3,463.4L-413.5,462.6L-413.8,461.8L-414.0,461.0L-414.3,460.2L-414.5,459.4L-414.8,458.6L-415.0,457.8L-415.3,457.0L-415.5,456.2L-415.8,455.4L-416.0,454.6L-416.2,453.7L-416.5,452.9L-416.7,452.1L-417.0,451.3L-417.2,450.5L-417.4,449.7L-417.7,448.9L-417.9,448.1L-418.1,447.3L-418.4,446.5L-418.6,445.7L-418.8,444.9L-419.1,444.1L-419.3,443.3L-419.5,442.5L-419.7,441.7L-420.0,440.9L-420.2,440.1L-420.4,439.3L-420.6,438.5L-420.9,437.7L-421.1,436.9L-421.3,436.1L-421.5,435.2L-421.7,434.4L-422.0,433.6L-422.2,432.8L-422.4,432.0L-422.6,431.2L-422.8,430.4L-423.0,429.6L-423.3,428.8L-423.5,428.0L-423.7,427.2L-423.9,426.4L-424.1,425.6L-424.3,424.8L-424.5,424.0L-424.7,423.2L-424.9,422.4L-425.1,421.6L-425.3,420.8L-425.5,420.0L-425.7,419.2L-425.9,418.4L-426.1,417.5L-426.3,416.7L-426.5,415.9L-426.7,415.1L-426.9,414.3L-427.1,413.5L-427.3,412.7L-427.5,411.9L-427.7,411.1L-427.9,410.3L-428.1,409.5L-428.3,408.7L-428.5,407.9L-428.6,407.1L-428.8,406.3L-429.0,405.5L-429.2,404.7L-429.4,403.9L-429.6,403.1L-429.8,402.3L-429.9,401.5L-430.1,400.7L-430.3,399.8L-430.5,399.0L-430.7,398.2L-430.9,397.4L-431.0,396.6L-431.2,395.8L-431.4,395.0L-431.6,394.2L-431.7,393.4L-431.9,392.6L-432.1,391.8L-432.3,391.0L-432.4,390.2L-432.6,389.4L-432.8,388.6L-432.9,387.8L-433.1,387.0L-433.3,386.2L-433.4,385.4L-433.6,384.6L-433.8,383.8L-433.9,383.0L-434.1,382.1L-434.3,381.3L-434.4,380.5L-434.6,379.7L-434.8,378.9L-434.9,378.1L-435.1,377.3L-435.2,376.5L-435.4,375.7L-435.6,374.9L-435.7,374.1L-435.9,373.3L-436.0,372.5L-436.2,371.7L-436.3,370.9L-436.5,370.1L-436.7,369.3L-436.8,368.5L-437.0,367.7L-437.1,366.9L-437.3,366.1L-437.4,365.3L-437.6,364.4L-437.7,363.6L-437.9,362.8L-438.0,362.0L-438.2,361.2L-438.3,360.4L-438.4,359.6L-438.6,358.8L-438.7,358.0L-438.9,357.2L-439.0,356.4L-439.2,355.6L-439.3,354.8L-439.5,354.0L-439.6,353.2L-439.7,352.4L-439.9,351.6L-440.0,350.8L-440.2,350.0L-440.3,349.2L-440.4,348.4L-440.6,347.6L-440.7,346.7L-440.8,345.9L-441.0,345.1L-441.1,344.3L-441.2,343.5L-441.4,342.7L-441.5,341.9L-441.6,341.1L-441.8,340.3L-441.9,339.5L-442.0,338.7L-442.2,337.9L-442.3,337.1L-442.4,336.3L-442.5,335.5L-442.7,334.7L-442.8,333.9L-442.9,333.1L-443.0,332.3L-443.2,331.5L-443.3,330.7L-443.4,329.9L-443.5,329.0L-443.7,328.2L-443.8,327.4L-443.9,326.6L-444.0,325.8L-444.1,325.0L-444.3,324.2L-444.4,323.4L-444.5,322.6L-444.6,321.8L-444.7,321.0L-444.9,320.2L-445.0,319.4L-445.1,318.6L-445.2,317.8L-445.3,317.0L-445.4,316.2L-445.6,315.4L-445.7,314.6L-445.8,313.8L-445.9,313.0L-446.0,312.2L-446.1,311.3L-446.2,310.5L-446.3,309.7L-446.4,308.9L-446.6,308.1L-446.7,307.3L-446.8,306.5L-446.9,305.7L-447.0,304.9L-447.1,304.1L-447.2,303.3L-447.3,302.5L-447.4,301.7L-447.5,300.9L-447.6,300.1L-447.7,299.3L-447.8,298.5L-447.9,297.7L-448.0,296.9L-448.1,296.1L-448.2,295.3L-448.3,294.5L-448.4,293.6L-448.5,292.8L-448.6,292.0L-448.7,291.2L-448.8,290.4L-448.9,289.6L-449.0,288.8L-449.1,288.0L-449.2,287.2L-449.3,286.4L-449.4,285.6L-449.5,284.8L-449.6,284.0L-449.7,283.2L-449.8,282.4L-449.9,281.6L-450.0,280.8L-450.1,280.0L-450.2,279.2L-450.3,278.4L-450.4,277.6L-450.5,276.8L-450.6,276.0L-450.6,275.1L-450.7,274.3L-450.8,273.5L-450.9,272.7L-451.0,271.9L-451.1,271.1L-451.2,270.3L-451.3,269.5L-451.4,268.7L-451.4,267.9L-451.5,267.1L-451.6,266.3L-451.7,265.5L-451.8,264.7L-451.9,263.9L-452.0,263.1L-452.0,262.3L-452.1,261.5L-452.2,260.7L-452.3,259.9L-452.4,259.1L-452.5,258.3L-452.5,257.4L-452.6,256.6L-452.7,255.8L-452.8,255.0L-452.9,254.2L-453.0,253.4L-453.0,252.6L-453.1,251.8L-453.2,251.0L-453.3,250.2L-453.3,249.4L-453.4,248.6L-453.5,247.8L-453.6,247.0L-453.7,246.2L-453.7,245.4L-453.8,244.6L-453.9,243.8L-454.0,243.0L-454.0,242.2L-454.1,241.4L-454.2,240.6L-454.3,239.7L-454.3,238.9L-454.4,238.1L-454.5,237.3L-454.6,236.5L-454.6,235.7L-454.7,234.9L-454.8,234.1L-454.8,233.3L-454.9,232.5L-455.0,231.7L-455.1,230.9L-455.1,230.1L-455.2,229.3L-455.3,228.5L-455.3,227.7L-455.4,226.9L-455.5,226.1L-455.5,225.3L-455.6,224.5L-455.7,223.7L-455.7,222.9L-455.8,222.0L-455.9,221.2L-455.9,220.4L-456.0,219.6L-456.1,218.8L-456.1,218.0L-456.2,217.2L-456.3,216.4L-456.3,215.6L-456.4,214.8L-456.5,214.0L-456.5,213.2L-456.6,212.4L-456.7,211.6L-456.7,210.8L-456.8,210.0L-456.8,209.2L-456.9,208.4L-457.0,207.6L-457.0,206.8L-457.1,206.0L-457.2,205.2L-457.2,204.3L-457.3,203.5L-457.3,202.7L-457.4,201.9L-457.5,201.1L-457.5,200.3L-457.6,199.5L-457.6,198.7L-457.7,197.9L-457.7,197.1L-457.8,196.3L-457.9,195.5L-457.9,194.7L-458.0,193.9L-458.0,193.1L-458.1,192.3L-458.1,191.5L-458.2,190.7L-458.3,189.9L-458.3,189.1L-458.4,188.3L-458.4,187.5L-458.5,186.6L-458.5,185.8L-458.6,185.0L-458.6,184.2L-458.7,183.4L-458.7,182.6L-458.8,181.8L-458.9,181.0L-458.9,180.2L-459.0,179.4L-459.0,178.6L-459.1,177.8L-459.1,177.0L-459.2,176.2L-459.2,175.4L-459.3,174.6L-459.3,173.8L-459.4,173.0L-459.4,172.2L-459.5,171.4L-459.5,170.6L-459.6,169.8L-459.6,168.9L-459.7,168.1L-459.7,167.3L-459.8,166.5L-459.8,165.7L-459.9,164.9L-459.9,164.1L-460.0,163.3L-460.0,162.5L-460.1,161.7L-460.1,160.9L-460.1,160.1L-460.2,159.3L-460.2,158.5L-460.3,157.7L-460.3,156.9L-460.4,156.1L-460.4,155.3L-460.5,154.5L-460.5,153.7L-460.6,152.9L-460.6,152.1L-460.6,151.2L-460.7,150.4L-460.7,149.6L-460.8,148.8L-460.8,148.0L-460.9,147.2L-460.9,146.4L-461.0,145.6L-461.0,144.8L-461.0,144.0L-461.1,143.2L-461.1,142.4L-461.2,141.6L-461.2,140.8L-461.2,140.0L-461.3,139.2L-461.3,138.4L-461.4,137.6L-461.4,136.8L-461.4,136.0L-461.5,135.2L-461.5,134.4L-461.6,133.6L-461.6,132.7L-461.6,131.9L-461.7,131.1L-461.7,130.3L-461.8,129.5L-461.8,128.7L-461.8,127.9L-461.9,127.1L-461.9,126.3L-462.0,125.5L-462.0,124.7L-462.0,123.9L-462.1,123.1L-462.1,122.3L-462.1,121.5L-462.2,120.7L-462.2,119.9L-462.3,119.1L-462.3,118.3L-462.3,117.5L-462.4,116.7L-462.4,115.9L-462.4,115.0L-462.5,114.2L-462.5,113.4L-462.5,112.6L-462.6,111.8L-462.6,111.0L-462.7,110.2L-462.7,109.4L-462.7,108.6L-462.8,107.8L-462.8,107.0L-462.8,106.2L-462.9,105.4L-462.9,104.6L-462.9,103.8L-463.0,103.0L-463.0,102.2L-463.0,101.4L-463.1,100.6L-463.1,99.8L-463.1,99.0L-463.2,98.2L-463.2,97.3L-463.2,96.5L-463.2,95.7L-463.3,94.9L-463.3,94.1L-463.3,93.3L-463.4,92.5L-463.4,91.7L-463.4,90.9L-463.5,90.1L-463.5,89.3L-463.5,88.5L-463.6,87.7L-463.6,86.9L-463.6,86.1L-463.7,85.3L-463.7,84.5L-463.7,83.7L-463.7,82.9L-463.8,82.1L-463.8,81.3L-463.8,80.5L-463.9,79.6L-463.9,78.8L-463.9,78.0L-463.9,77.2L-464.0,76.4L-464.0,75.6L-464.0,74.8L-464.1,74.0L-464.1,73.2L-464.1,72.4L-464.1,71.6L-464.2,70.8L-464.2,70.0L-464.2,69.2L-464.2,68.4L-464.3,67.6L-464.3,66.8L-464.3,66.0L-464.4,65.2L-464.4,64.4L-464.4,63.6L-464.4,62.8L-464.5,61.9L-464.5,61.1L-464.5,60.3L-464.5,59.5L-464.6,58.7L-464.6,57.9L-464.6,57.1L-464.6,56.3L-464.7,55.5L-464.7,54.7L-464.7,53.9L-464.7,53.1L-464.8,52.3L-464.8,51.5L-464.8,50.7L-464.8,49.9L-464.9,49.1L-464.9,48.3L-464.9,47.5L-464.9,46.7L-465.0,45.9L-465.0,45.1L-465.0,44.2L-465.0,43.4L-465.0,42.6L-465.1,41.8L-465.1,41.0L-465.1,40.2L-465.1,39.4L-465.2,38.6L-465.2,37.8L-465.2,37.0L-465.2,36.2L-465.3,35.4L-465.3,34.6L-465.3,33.8L-465.3,33.0L-465.3,32.2L-465.4,31.4L-465.4,30.6L-465.4,29.8L-465.4,29.0L-465.4,28.2L-465.5,27.4L-465.5,26.5L-465.5,25.7L-465.5,24.9L-465.6,24.1L-465.6,23.3L-465.6,22.5L-465.6,21.7L-465.6,20.9L-465.7,20.1L-465.7,19.3L-465.7,18.5L-465.7,17.7L-465.7,16.9L-465.8,16.1L-465.8,15.3L-465.8,14.5L-465.8,13.7L-465.8,12.9L-465.9,12.1L-465.9,11.3L-465.9,10.5L-465.9,9.7L-465.9,8.8L-465.9,8.0L-466.0,7.2L-466.0,6.4L-466.0,5.6L-466.0,4.8L-466.0,4.0L-466.1,3.2L-466.1,2.4L-466.1,1.6L-466.1,0.8L-466.1,0.0" stroke="#ff0000" stroke-width="10.0" fill="none" stroke-linejoin="round" clip-path="url(#cal)"/>
<rect x="0.0" y="0.0" width="965.2" height="964.6" fill="none" stroke="#000" stroke-width="5.3"/>
<rect x="-481.8" y="0.0" width="289.0" height="964.6" fill="none" stroke="#000" stroke-width="5.3"/>
<rect x="0.0" y="1157.6" width="965.2" height="289.3" fill="none" stroke="#000" stroke-width="5.3"/>
<line x1="0.0" y1="964.6" x2="0.0" y2="989.1" stroke="#000" stroke-width="5.3"/>
<line x1="275.8" y1="964.6" x2="275.8" y2="989.1" stroke="#000" stroke-width="5.3"/>
<line x1="551.5" y1="964.6" x2="551.5" y2="989.1" stroke="#000" stroke-width="5.3"/>
<line x1="827.3" y1="964.6" x2="827.3" y2="989.1" stroke="#000" stroke-width="5.3"/>
<line x1="0.0" y1="1446.9" x2="0.0" y2="1471.4" stroke="#000" stroke-width="5.3"/>
<line x1="275.8" y1="1446.9" x2="275.8" y2="1471.4" stroke="#000" stroke-width="5.3"/>
<line x1="551.5" y1="1446.9" x2="551.5" y2="1471.4" stroke="#000" stroke-width="5.3"/>
<line x1="827.3" y1="1446.9" x2="827.3" y2="1471.4" stroke="#000" stroke-width="5.3"/>
<line x1="-469.7" y1="964.6" x2="-469.7" y2="989.1" stroke="#000" stroke-width="5.3"/>
<line x1="-310.7" y1="964.6" x2="-310.7" y2="989.1" stroke="#000" stroke-width="5.3"/>
<line x1="-24.5" y1="857.4" x2="0.0" y2="857.4" stroke="#000" stroke-width="5.3"/>
<line x1="-24.5" y1="643.1" x2="0.0" y2="643.1" stroke="#000" stroke-width="5.3"/>
<line x1="-24.5" y1="428.7" x2="0.0" y2="428.7" stroke="#000" stroke-width="5.3"/>
<line x1="-24.5" y1="214.4" x2="0.0" y2="214.4" stroke="#000" stroke-width="5.3"/>
<line x1="-24.5" y1="0.0" x2="0.0" y2="0.0" stroke="#000" stroke-width="5.3"/>
<line x1="-506.3" y1="857.4" x2="-481.8" y2="857.4" stroke="#000" stroke-width="5.3"/>
<line x1="-506.3" y1="643.1" x2="-481.8" y2="643.1" stroke="#000" stroke-width="5.3"/>
<line x1="-506.3" y1="428.7" x2="-481.8" y2="428.7" stroke="#000" stroke-width="5.3"/>
<line x1="-506.3" y1="214.4" x2="-481.8" y2="214.4" stroke="#000" stroke-width="5.3"/>
<line x1="-506.3" y1="0.0" x2="-481.8" y2="0.0" stroke="#000" stroke-width="5.3"/>
<line x1="-24.5" y1="1433.8" x2="0.0" y2="1433.8" stroke="#000" stroke-width="5.3"/>
<line x1="-24.5" y1="1260.0" x2="0.0" y2="1260.0" stroke="#000" stroke-width="5.3"/>
<rect x="-41.5" y="1039.1" width="41.6" height="5.6" fill="#000"/>
<text x="6.7" y="1062.6" font-size="67.0" text-anchor="start" font-family="Liberation Sans, sans-serif" textLength="41.8" lengthAdjust="spacingAndGlyphs" >3</text>
<rect x="-41.5" y="1521.4" width="41.6" height="5.6" fill="#000"/>
<text x="6.7" y="1544.9" font-size="67.0" text-anchor="start" font-family="Liberation Sans, sans-serif" textLength="41.8" lengthAdjust="spacingAndGlyphs" >3</text>
<rect x="234.3" y="1039.1" width="41.6" height="5.6" fill="#000"/>
<text x="282.5" y="1062.6" font-size="67.0" text-anchor="start" font-family="Liberation Sans, sans-serif" textLength="41.8" lengthAdjust="spacingAndGlyphs" >2</text>
<rect x="234.3" y="1521.4" width="41.6" height="5.6" fill="#000"/>
<text x="282.5" y="1544.9" font-size="67.0" text-anchor="start" font-family="Liberation Sans, sans-serif" textLength="41.8" lengthAdjust="spacingAndGlyphs" >2</text>
<rect x="510.1" y="1039.1" width="41.6" height="5.6" fill="#000"/>
<text x="558.2" y="1062.6" font-size="67.0" text-anchor="start" font-family="Liberation Sans, sans-serif" textLength="41.8" lengthAdjust="spacingAndGlyphs" >1</text>
<rect x="510.1" y="1521.4" width="41.6" height="5.6" fill="#000"/>
<text x="558.2" y="1544.9" font-size="67.0" text-anchor="start" font-family="Liberation Sans, sans-serif" textLength="41.8" lengthAdjust="spacingAndGlyphs" >1</text>
<text x="806.4" y="1062.6" font-size="67.0" text-anchor="start" font-family="Liberation Sans, sans-serif" textLength="41.8" lengthAdjust="spacingAndGlyphs" >0</text>
<text x="806.4" y="1544.9" font-size="67.0" text-anchor="start" font-family="Liberation Sans, sans-serif" textLength="41.8" lengthAdjust="spacingAndGlyphs" >0</text>
<text x="-522.0" y="1062.6" font-size="67.0" text-anchor="start" font-family="Liberation Sans, sans-serif" textLength="104.5" lengthAdjust="spacingAndGlyphs" >0.0</text>
<text x="-362.9" y="1062.6" font-size="67.0" text-anchor="start" font-family="Liberation Sans, sans-serif" textLength="104.5" lengthAdjust="spacingAndGlyphs" >0.5</text>
<text x="-89.8" y="882.9" font-size="67.0" text-anchor="start" font-family="Liberation Sans, sans-serif" textLength="41.8" lengthAdjust="spacingAndGlyphs" >0</text>
<text x="-571.6" y="882.9" font-size="67.0" text-anchor="start" font-family="Liberation Sans, sans-serif" textLength="41.8" lengthAdjust="spacingAndGlyphs" >0</text>
<text x="-89.8" y="668.6" font-size="67.0" text-anchor="start" font-family="Liberation Sans, sans-serif" textLength="41.8" lengthAdjust="spacingAndGlyphs" >1</text>
<text x="-571.6" y="668.6" font-size="67.0" text-anchor="start" font-family="Liberation Sans, sans-serif" textLength="41.8" lengthAdjust="spacingAndGlyphs" >1</text>
<text x="-89.8" y="454.2" font-size="67.0" text-anchor="start" font-family="Liberation Sans, sans-serif" textLength="41.8" lengthAdjust="spacingAndGlyphs" >2</text>
<text x="-571.6" y="454.2" font-size="67.0" text-anchor="start" font-family="Liberation Sans, sans-serif" textLength="41.8" lengthAdjust="spacingAndGlyphs" >2</text>
<text x="-89.8" y="239.9" font-size="67.0" text-anchor="start" font-family="Liberation Sans, sans-serif" textLength="41.8" lengthAdjust="spacingAndGlyphs" >3</text>
<text x="-571.6" y="239.9" font-size="67.0" text-anchor="start" font-family="Liberation Sans, sans-serif" textLength="41.8" lengthAdjust="spacingAndGlyphs" >3</text>
<text x="-89.8" y="25.5" font-size="67.0" text-anchor="start" font-family="Liberation Sans, sans-serif" textLength="41.8" lengthAdjust="spacingAndGlyphs" >4</text>
<text x="-571.6" y="25.5" font-size="67.0" text-anchor="start" font-family="Liberation Sans, sans-serif" textLength="41.8" lengthAdjust="spacingAndGlyphs" >4</text>
<text x="-152.5" y="1459.3" font-size="67.0" text-anchor="start" font-family="Liberation Sans, sans-serif" textLength="104.5" lengthAdjust="spacingAndGlyphs" >0.0</text>
<text x="-152.5" y="1285.5" font-size="67.0" text-anchor="start" font-family="Liberation Sans, sans-serif" textLength="104.5" lengthAdjust="spacingAndGlyphs" >0.5</text>
<text x="482.6" y="-40.0" font-size="82.5" text-anchor="middle" font-family="Liberation Sans, sans-serif" textLength="650.0" lengthAdjust="spacingAndGlyphs" >2D Model Space</text>
<text x="482.6" y="1635.8" font-size="67.0" text-anchor="middle" font-family="Liberation Sans, sans-serif" textLength="557.0" lengthAdjust="spacingAndGlyphs" >Model variable 1</text>
<text x="-337.3" y="1154.1" font-size="67.0" text-anchor="middle" font-family="Liberation Sans, sans-serif" textLength="127.0" lengthAdjust="spacingAndGlyphs" >PDF</text>
<text x="-614.1" y="482.3" font-size="67.0" text-anchor="middle" font-family="Liberation Sans, sans-serif" textLength="554.0" lengthAdjust="spacingAndGlyphs" transform="rotate(-90 -614.1 482.3)" >Model variable 2</text>
<text x="-193.8" y="1302.2" font-size="67.0" text-anchor="middle" font-family="Liberation Sans, sans-serif" textLength="127.0" lengthAdjust="spacingAndGlyphs" transform="rotate(-90 -193.8 1302.2)" >PDF</text>
</g>
<g transform="translate(2720.0,400.7)">
<clipPath id="cbm"><rect x="0" y="0" width="965.2" height="964.6"/></clipPath>
<clipPath id="cbl"><rect x="-481.8" y="0" width="289.0" height="964.6"/></clipPath>
<clipPath id="cbb"><rect x="0" y="1157.6" width="965.2" height="289.3000000000002"/></clipPath>
<path d="M78.8,761.4l30.4,30.4m-30.4,0l30.4,-30.4M206.5,492.1l30.4,30.4m-30.4,0l30.4,-30.4M218.2,627.5l30.4,30.4m-30.4,0l30.4,-30.4M220.5,706.1l30.4,30.4m-30.4,0l30.4,-30.4M275.3,546.5l30.4,30.4m-30.4,0l30.4,-30.4M288.1,523.6l30.4,30.4m-30.4,0l30.4,-30.4M302.6,498.0l30.4,30.4m-30.4,0l30.4,-30.4M305.6,783.0l30.4,30.4m-30.4,0l30.4,-30.4M341.9,783.0l30.4,30.4m-30.4,0l30.4,-30.4M329.0,538.8l30.4,30.4m-30.4,0l30.4,-30.4M327.5,572.5l30.4,30.4m-30.4,0l30.4,-30.4M332.7,633.1l30.4,30.4m-30.4,0l30.4,-30.4M330.1,889.8l30.4,30.4m-30.4,0l30.4,-30.4M363.0,583.1l30.4,30.4m-30.4,0l30.4,-30.4M367.3,578.7l30.4,30.4m-30.4,0l30.4,-30.4M387.7,570.0l30.4,30.4m-30.4,0l30.4,-30.4M386.9,648.0l30.4,30.4m-30.4,0l30.4,-30.4M405.2,541.1l30.4,30.4m-30.4,0l30.4,-30.4M403.1,406.1l30.4,30.4m-30.4,0l30.4,-30.4M410.8,495.1l30.4,30.4m-30.4,0l30.4,-30.4M416.5,499.1l30.4,30.4m-30.4,0l30.4,-30.4M448.8,442.8l30.4,30.4m-30.4,0l30.4,-30.4M459.0,433.1l30.4,30.4m-30.4,0l30.4,-30.4M473.2,432.7l30.4,30.4m-30.4,0l30.4,-30.4M483.3,417.1l30.4,30.4m-30.4,0l30.4,-30.4M486.0,416.3l30.4,30.4m-30.4,0l30.4,-30.4M464.7,312.1l30.4,30.4m-30.4,0l30.4,-30.4M484.4,324.5l30.4,30.4m-30.4,0l30.4,-30.4M494.7,358.6l30.4,30.4m-30.4,0l30.4,-30.4M515.7,365.2l30.4,30.4m-30.4,0l30.4,-30.4M528.6,387.3l30.4,30.4m-30.4,0l30.4,-30.4M470.1,479.1l30.4,30.4m-30.4,0l30.4,-30.4M489.3,482.6l30.4,30.4m-30.4,0l30.4,-30.4M509.7,507.0l30.4,30.4m-30.4,0l30.4,-30.4M522.7,482.0l30.4,30.4m-30.4,0l30.4,-30.4M532.0,551.9l30.4,30.4m-30.4,0l30.4,-30.4M570.7,372.8l30.4,30.4m-30.4,0l30.4,-30.4M574.2,369.3l30.4,30.4m-30.4,0l30.4,-30.4M601.0,371.4l30.4,30.4m-30.4,0l30.4,-30.4M635.8,348.9l30.4,30.4m-30.4,0l30.4,-30.4M589.6,433.3l30.4,30.4m-30.4,0l30.4,-30.4M630.0,444.4l30.4,30.4m-30.4,0l30.4,-30.4M606.2,167.2l30.4,30.4m-30.4,0l30.4,-30.4M644.4,226.8l30.4,30.4m-30.4,0l30.4,-30.4M688.7,140.0l30.4,30.4m-30.4,0l30.4,-30.4M697.5,171.7l30.4,30.4m-30.4,0l30.4,-30.4M689.7,316.5l30.4,30.4m-30.4,0l30.4,-30.4M745.4,235.5l30.4,30.4m-30.4,0l30.4,-30.4M769.5,340.4l30.4,30.4m-30.4,0l30.4,-30.4M876.0,336.5l30.4,30.4m-30.4,0l30.4,-30.4" stroke="#ff0000" stroke-width="10" fill="none" clip-path="url(#cbm)"/>
<path d="M-484.8,761.4l30.4,30.4m-30.4,0l30.4,-30.4M-484.8,492.1l30.4,30.4m-30.4,0l30.4,-30.4M-484.8,627.5l30.4,30.4m-30.4,0l30.4,-30.4M-484.8,706.1l30.4,30.4m-30.4,0l30.4,-30.4M-484.8,546.5l30.4,30.4m-30.4,0l30.4,-30.4M-484.8,523.6l30.4,30.4m-30.4,0l30.4,-30.4M-484.8,498.0l30.4,30.4m-30.4,0l30.4,-30.4M-484.8,783.0l30.4,30.4m-30.4,0l30.4,-30.4M-484.8,783.0l30.4,30.4m-30.4,0l30.4,-30.4M-484.8,538.8l30.4,30.4m-30.4,0l30.4,-30.4M-484.8,572.5l30.4,30.4m-30.4,0l30.4,-30.4M-484.8,633.1l30.4,30.4m-30.4,0l30.4,-30.4M-484.8,889.8l30.4,30.4m-30.4,0l30.4,-30.4M-484.8,583.1l30.4,30.4m-30.4,0l30.4,-30.4M-484.8,578.7l30.4,30.4m-30.4,0l30.4,-30.4M-484.8,570.0l30.4,30.4m-30.4,0l30.4,-30.4M-484.8,648.0l30.4,30.4m-30.4,0l30.4,-30.4M-484.8,541.1l30.4,30.4m-30.4,0l30.4,-30.4M-484.8,406.1l30.4,30.4m-30.4,0l30.4,-30.4M-484.8,495.1l30.4,30.4m-30.4,0l30.4,-30.4M-484.8,499.1l30.4,30.4m-30.4,0l30.4,-30.4M-484.8,442.8l30.4,30.4m-30.4,0l30.4,-30.4M-484.8,433.1l30.4,30.4m-30.4,0l30.4,-30.4M-484.8,432.7l30.4,30.4m-30.4,0l30.4,-30.4M-484.8,417.1l30.4,30.4m-30.4,0l30.4,-30.4M-484.8,416.3l30.4,30.4m-30.4,0l30.4,-30.4M-484.8,312.1l30.4,30.4m-30.4,0l30.4,-30.4M-484.8,324.5l30.4,30.4m-30.4,0l30.4,-30.4M-484.8,358.6l30.4,30.4m-30.4,0l30.4,-30.4M-484.8,365.2l30.4,30.4m-30.4,0l30.4,-30.4M-484.8,387.3l30.4,30.4m-30.4,0l30.4,-30.4M-484.8,479.1l30.4,30.4m-30.4,0l30.4,-30.4M-484.8,482.6l30.4,30.4m-30.4,0l30.4,-30.4M-484.8,507.0l30.4,30.4m-30.4,0l30.4,-30.4M-484.8,482.0l30.4,30.4m-30.4,0l30.4,-30.4M-484.8,551.9l30.4,30.4m-30.4,0l30.4,-30.4M-484.8,372.8l30.4,30.4m-30.4,0l30.4,-30.4M-484.8,369.3l30.4,30.4m-30.4,0l30.4,-30.4M-484.8,371.4l30.4,30.4m-30.4,0l30.4,-30.4M-484.8,348.9l30.4,30.4m-30.4,0l30.4,-30.4M-484.8,433.3l30.4,30.4m-30.4,0l30.4,-30.4M-484.8,444.4l30.4,30.4m-30.4,0l30.4,-30.4M-484.8,167.2l30.4,30.4m-30.4,0l30.4,-30.4M-484.8,226.8l30.4,30.4m-30.4,0l30.4,-30.4M-484.8,140.0l30.4,30.4m-30.4,0l30.4,-30.4M-484.8,171.7l30.4,30.4m-30.4,0l30.4,-30.4M-484.8,316.5l30.4,30.4m-30.4,0l30.4,-30.4M-484.8,235.5l30.4,30.4m-30.4,0l30.4,-30.4M-484.8,340.4l30.4,30.4m-30.4,0l30.4,-30.4M-484.8,336.5l30.4,30.4m-30.4,0l30.4,-30.4" stroke="#ff0000" stroke-width="10" fill="none" clip-path="url(#cbl)"/>
<path d="M78.8,1418.5l30.4,30.4m-30.4,0l30.4,-30.4M206.5,1418.5l30.4,30.4m-30.4,0l30.4,-30.4M218.2,1418.5l30.4,30.4m-30.4,0l30.4,-30.4M220.5,1418.5l30.4,30.4m-30.4,0l30.4,-30.4M275.3,1418.5l30.4,30.4m-30.4,0l30.4,-30.4M288.1,1418.5l30.4,30.4m-30.4,0l30.4,-30.4M302.6,1418.5l30.4,30.4m-30.4,0l30.4,-30.4M305.6,1418.5l30.4,30.4m-30.4,0l30.4,-30.4M341.9,1418.5l30.4,30.4m-30.4,0l30.4,-30.4M329.0,1418.5l30.4,30.4m-30.4,0l30.4,-30.4M327.5,1418.5l30.4,30.4m-30.4,0l30.4,-30.4M332.7,1418.5l30.4,30.4m-30.4,0l30.4,-30.4M330.1,1418.5l30.4,30.4m-30.4,0l30.4,-30.4M363.0,1418.5l30.4,30.4m-30.4,0l30.4,-30.4M367.3,1418.5l30.4,30.4m-30.4,0l30.4,-30.4M387.7,1418.5l30.4,30.4m-30.4,0l30.4,-30.4M386.9,1418.5l30.4,30.4m-30.4,0l30.4,-30.4M405.2,1418.5l30.4,30.4m-30.4,0l30.4,-30.4M403.1,1418.5l30.4,30.4m-30.4,0l30.4,-30.4M410.8,1418.5l30.4,30.4m-30.4,0l30.4,-30.4M416.5,1418.5l30.4,30.4m-30.4,0l30.4,-30.4M448.8,1418.5l30.4,30.4m-30.4,0l30.4,-30.4M459.0,1418.5l30.4,30.4m-30.4,0l30.4,-30.4M473.2,1418.5l30.4,30.4m-30.4,0l30.4,-30.4M483.3,1418.5l30.4,30.4m-30.4,0l30.4,-30.4M486.0,1418.5l30.4,30.4m-30.4,0l30.4,-30.4M464.7,1418.5l30.4,30.4m-30.4,0l30.4,-30.4M484.4,1418.5l30.4,30.4m-30.4,0l30.4,-30.4M494.7,1418.5l30.4,30.4m-30.4,0l30.4,-30.4M515.7,1418.5l30.4,30.4m-30.4,0l30.4,-30.4M528.6,1418.5l30.4,30.4m-30.4,0l30.4,-30.4M470.1,1418.5l30.4,30.4m-30.4,0l30.4,-30.4M489.3,1418.5l30.4,30.4m-30.4,0l30.4,-30.4M509.7,1418.5l30.4,30.4m-30.4,0l30.4,-30.4M522.7,1418.5l30.4,30.4m-30.4,0l30.4,-30.4M532.0,1418.5l30.4,30.4m-30.4,0l30.4,-30.4M570.7,1418.5l30.4,30.4m-30.4,0l30.4,-30.4M574.2,1418.5l30.4,30.4m-30.4,0l30.4,-30.4M601.0,1418.5l30.4,30.4m-30.4,0l30.4,-30.4M635.8,1418.5l30.4,30.4m-30.4,0l30.4,-30.4M589.6,1418.5l30.4,30.4m-30.4,0l30.4,-30.4M630.0,1418.5l30.4,30.4m-30.4,0l30.4,-30.4M606.2,1418.5l30.4,30.4m-30.4,0l30.4,-30.4M644.4,1418.5l30.4,30.4m-30.4,0l30.4,-30.4M688.7,1418.5l30.4,30.4m-30.4,0l30.4,-30.4M697.5,1418.5l30.4,30.4m-30.4,0l30.4,-30.4M689.7,1418.5l30.4,30.4m-30.4,0l30.4,-30.4M745.4,1418.5l30.4,30.4m-30.4,0l30.4,-30.4M769.5,1418.5l30.4,30.4m-30.4,0l30.4,-30.4M876.0,1418.5l30.4,30.4m-30.4,0l30.4,-30.4" stroke="#ff0000" stroke-width="10" fill="none" clip-path="url(#cbb)"/>
<path d="M0.0,1430.8L2.4,1430.6L4.8,1430.5L7.3,1430.4L9.7,1430.2L12.1,1430.0L14.5,1429.9L16.9,1429.7L19.4,1429.5L21.8,1429.4L24.2,1429.2L26.6,1429.0L29.0,1428.8L31.4,1428.5L33.9,1428.3L36.3,1428.1L38.7,1427.9L41.1,1427.6L43.5,1427.4L46.0,1427.1L48.4,1426.8L50.8,1426.5L53.2,1426.2L55.6,1425.9L58.1,1425.6L60.5,1425.3L62.9,1425.0L65.3,1424.6L67.7,1424.2L70.2,1423.9L72.6,1423.5L75.0,1423.1L77.4,1422.7L79.8,1422.3L82.2,1421.8L84.7,1421.4L87.1,1420.9L89.5,1420.4L91.9,1419.9L94.3,1419.4L96.8,1418.9L99.2,1418.3L101.6,1417.8L104.0,1417.2L106.4,1416.6L108.9,1416.0L111.3,1415.4L113.7,1414.7L116.1,1414.1L118.5,1413.4L121.0,1412.7L123.4,1412.0L125.8,1411.2L128.2,1410.5L130.6,1409.7L133.0,1408.9L135.5,1408.1L137.9,1407.2L140.3,1406.4L142.7,1405.5L145.1,1404.6L147.6,1403.6L150.0,1402.7L152.4,1401.7L154.8,1400.7L157.2,1399.7L159.7,1398.6L162.1,1397.6L164.5,1396.5L166.9,1395.4L169.3,1394.2L171.8,1393.0L174.2,1391.8L176.6,1390.6L179.0,1389.4L181.4,1388.1L183.8,1386.8L186.3,1385.5L188.7,1384.1L191.1,1382.8L193.5,1381.4L195.9,1379.9L198.4,1378.5L200.8,1377.0L203.2,1375.5L205.6,1374.0L208.0,1372.4L210.5,1370.8L212.9,1369.2L215.3,1367.6L217.7,1365.9L220.1,1364.2L222.6,1362.5L225.0,1360.7L227.4,1359.0L229.8,1357.2L232.2,1355.4L234.6,1353.5L237.1,1351.6L239.5,1349.7L241.9,1347.8L244.3,1345.9L246.7,1343.9L249.2,1341.9L251.6,1339.9L254.0,1337.9L256.4,1335.8L258.8,1333.7L261.3,1331.6L263.7,1329.5L266.1,1327.4L268.5,1325.2L270.9,1323.0L273.4,1320.8L275.8,1318.6L278.2,1316.4L280.6,1314.1L283.0,1311.9L285.4,1309.6L287.9,1307.3L290.3,1305.0L292.7,1302.7L295.1,1300.3L297.5,1298.0L300.0,1295.6L302.4,1293.3L304.8,1290.9L307.2,1288.5L309.6,1286.1L312.1,1283.8L314.5,1281.4L316.9,1279.0L319.3,1276.6L321.7,1274.2L324.2,1271.8L326.6,1269.4L329.0,1267.0L331.4,1264.6L333.8,1262.2L336.2,1259.8L338.7,1257.4L341.1,1255.1L343.5,1252.7L345.9,1250.4L348.3,1248.0L350.8,1245.7L353.2,1243.4L355.6,1241.1L358.0,1238.8L360.4,1236.6L362.9,1234.3L365.3,1232.1L367.7,1229.9L370.1,1227.7L372.5,1225.6L375.0,1223.4L377.4,1221.3L379.8,1219.3L382.2,1217.2L384.6,1215.2L387.0,1213.2L389.5,1211.3L391.9,1209.3L394.3,1207.5L396.7,1205.6L399.1,1203.8L401.6,1202.0L404.0,1200.3L406.4,1198.6L408.8,1196.9L411.2,1195.3L413.7,1193.8L416.1,1192.2L418.5,1190.8L420.9,1189.3L423.3,1187.9L425.8,1186.6L428.2,1185.3L430.6,1184.1L433.0,1182.9L435.4,1181.7L437.8,1180.7L440.3,1179.6L442.7,1178.7L445.1,1177.7L447.5,1176.9L449.9,1176.0L452.4,1175.3L454.8,1174.6L457.2,1173.9L459.6,1173.3L462.0,1172.8L464.5,1172.3L466.9,1171.9L469.3,1171.6L471.7,1171.3L474.1,1171.0L476.6,1170.9L479.0,1170.7L481.4,1170.7L483.8,1170.7L486.2,1170.7L488.6,1170.9L491.1,1171.0L493.5,1171.3L495.9,1171.6L498.3,1171.9L500.7,1172.3L503.2,1172.8L505.6,1173.3L508.0,1173.9L510.4,1174.6L512.8,1175.3L515.3,1176.0L517.7,1176.9L520.1,1177.7L522.5,1178.7L524.9,1179.6L527.4,1180.7L529.8,1181.7L532.2,1182.9L534.6,1184.1L537.0,1185.3L539.4,1186.6L541.9,1187.9L544.3,1189.3L546.7,1190.8L549.1,1192.2L551.5,1193.8L554.0,1195.3L556.4,1196.9L558.8,1198.6L561.2,1200.3L563.6,1202.0L566.1,1203.8L568.5,1205.6L570.9,1207.5L573.3,1209.3L575.7,1211.3L578.2,1213.2L580.6,1215.2L583.0,1217.2L585.4,1219.3L587.8,1221.3L590.2,1223.4L592.7,1225.6L595.1,1227.7L597.5,1229.9L599.9,1232.1L602.3,1234.3L604.8,1236.6L607.2,1238.8L609.6,1241.1L612.0,1243.4L614.4,1245.7L616.9,1248.0L619.3,1250.4L621.7,1252.7L624.1,1255.1L626.5,1257.4L629.0,1259.8L631.4,1262.2L633.8,1264.6L636.2,1267.0L638.6,1269.4L641.0,1271.8L643.5,1274.2L645.9,1276.6L648.3,1279.0L650.7,1281.4L653.1,1283.8L655.6,1286.1L658.0,1288.5L660.4,1290.9L662.8,1293.3L665.2,1295.6L667.7,1298.0L670.1,1300.3L672.5,1302.7L674.9,1305.0L677.3,1307.3L679.8,1309.6L682.2,1311.9L684.6,1314.1L687.0,1316.4L689.4,1318.6L691.8,1320.8L694.3,1323.0L696.7,1325.2L699.1,1327.4L701.5,1329.5L703.9,1331.6L706.4,1333.7L708.8,1335.8L711.2,1337.9L713.6,1339.9L716.0,1341.9L718.5,1343.9L720.9,1345.9L723.3,1347.8L725.7,1349.7L728.1,1351.6L730.6,1353.5L733.0,1355.4L735.4,1357.2L737.8,1359.0L740.2,1360.7L742.6,1362.5L745.1,1364.2L747.5,1365.9L749.9,1367.6L752.3,1369.2L754.7,1370.8L757.2,1372.4L759.6,1374.0L762.0,1375.5L764.4,1377.0L766.8,1378.5L769.3,1379.9L771.7,1381.4L774.1,1382.8L776.5,1384.1L778.9,1385.5L781.4,1386.8L783.8,1388.1L786.2,1389.4L788.6,1390.6L791.0,1391.8L793.4,1393.0L795.9,1394.2L798.3,1395.4L800.7,1396.5L803.1,1397.6L805.5,1398.6L808.0,1399.7L810.4,1400.7L812.8,1401.7L815.2,1402.7L817.6,1403.6L820.1,1404.6L822.5,1405.5L824.9,1406.4L827.3,1407.2L829.7,1408.1L832.2,1408.9L834.6,1409.7L837.0,1410.5L839.4,1411.2L841.8,1412.0L844.2,1412.7L846.7,1413.4L849.1,1414.1L851.5,1414.7L853.9,1415.4L856.3,1416.0L858.8,1416.6L861.2,1417.2L863.6,1417.8L866.0,1418.3L868.4,1418.9L870.9,1419.4L873.3,1419.9L875.7,1420.4L878.1,1420.9L880.5,1421.4L883.0,1421.8L885.4,1422.3L887.8,1422.7L890.2,1423.1L892.6,1423.5L895.0,1423.9L897.5,1424.2L899.9,1424.6L902.3,1425.0L904.7,1425.3L907.1,1425.6L909.6,1425.9L912.0,1426.2L914.4,1426.5L916.8,1426.8L919.2,1427.1L921.7,1427.4L924.1,1427.6L926.5,1427.9L928.9,1428.1L931.3,1428.3L933.8,1428.5L936.2,1428.8L938.6,1429.0L941.0,1429.2L943.4,1429.4L945.8,1429.5L948.3,1429.7L950.7,1429.9L953.1,1430.0L955.5,1430.2L957.9,1430.4L960.4,1430.5L962.8,1430.6L965.2,1430.8" stroke="#ff0000" stroke-width="10.0" fill="none" stroke-linejoin="round" clip-path="url(#cbb)"/>
<path d="M-466.7,964.6L-466.6,963.8L-466.6,963.0L-466.5,962.2L-466.5,961.4L-466.4,960.6L-466.4,959.8L-466.4,959.0L-466.3,958.2L-466.3,957.4L-466.2,956.6L-466.2,955.8L-466.1,954.9L-466.1,954.1L-466.0,953.3L-465.9,952.5L-465.9,951.7L-465.8,950.9L-465.8,950.1L-465.7,949.3L-465.7,948.5L-465.6,947.7L-465.6,946.9L-465.5,946.1L-465.4,945.3L-465.4,944.5L-465.3,943.7L-465.3,942.9L-465.2,942.1L-465.1,941.3L-465.1,940.5L-465.0,939.7L-464.9,938.9L-464.9,938.1L-464.8,937.2L-464.7,936.4L-464.7,935.6L-464.6,934.8L-464.5,934.0L-464.4,933.2L-464.4,932.4L-464.3,931.6L-464.2,930.8L-464.1,930.0L-464.1,929.2L-464.0,928.4L-463.9,927.6L-463.8,926.8L-463.8,926.0L-463.7,925.2L-463.6,924.4L-463.5,923.6L-463.4,922.8L-463.3,922.0L-463.3,921.2L-463.2,920.4L-463.1,919.5L-463.0,918.7L-462.9,917.9L-462.8,917.1L-462.7,916.3L-462.6,915.5L-462.5,914.7L-462.4,913.9L-462.3,913.1L-462.2,912.3L-462.1,911.5L-462.0,910.7L-461.9,909.9L-461.8,909.1L-461.7,908.3L-461.6,907.5L-461.5,906.7L-461.4,905.9L-461.3,905.1L-461.2,904.3L-461.1,903.5L-461.0,902.7L-460.9,901.8L-460.7,901.0L-460.6,900.2L-460.5,899.4L-460.4,898.6L-460.3,897.8L-460.2,897.0L-460.0,896.2L-459.9,895.4L-459.8,894.6L-459.7,893.8L-459.5,893.0L-459.4,892.2L-459.3,891.4L-459.1,890.6L-459.0,889.8L-458.9,889.0L-458.7,888.2L-458.6,887.4L-458.4,886.6L-458.3,885.8L-458.2,885.0L-458.0,884.1L-457.9,883.3L-457.7,882.5L-457.6,881.7L-457.4,880.9L-457.3,880.1L-457.1,879.3L-457.0,878.5L-456.8,877.7L-456.7,876.9L-456.5,876.1L-456.3,875.3L-456.2,874.5L-456.0,873.7L-455.8,872.9L-455.7,872.1L-455.5,871.3L-455.3,870.5L-455.2,869.7L-455.0,868.9L-454.8,868.1L-454.6,867.3L-454.4,866.5L-454.3,865.6L-454.1,864.8L-453.9,864.0L-453.7,863.2L-453.5,862.4L-453.3,861.6L-453.1,860.8L-452.9,860.0L-452.7,859.2L-452.5,858.4L-452.3,857.6L-452.1,856.8L-451.9,856.0L-451.7,855.2L-451.5,854.4L-451.3,853.6L-451.1,852.8L-450.9,852.0L-450.7,851.2L-450.4,850.4L-450.2,849.6L-450.0,848.8L-449.8,847.9L-449.5,847.1L-449.3,846.3L-449.1,845.5L-448.9,844.7L-448.6,843.9L-448.4,843.1L-448.1,842.3L-447.9,841.5L-447.7,840.7L-447.4,839.9L-447.2,839.1L-446.9,838.3L-446.7,837.5L-446.4,836.7L-446.2,835.9L-445.9,835.1L-445.6,834.3L-445.4,833.5L-445.1,832.7L-444.8,831.9L-444.6,831.1L-444.3,830.2L-444.0,829.4L-443.7,828.6L-443.5,827.8L-443.2,827.0L-442.9,826.2L-442.6,825.4L-442.3,824.6L-442.0,823.8L-441.7,823.0L-441.4,822.2L-441.1,821.4L-440.8,820.6L-440.5,819.8L-440.2,819.0L-439.9,818.2L-439.6,817.4L-439.3,816.6L-439.0,815.8L-438.6,815.0L-438.3,814.2L-438.0,813.4L-437.7,812.5L-437.3,811.7L-437.0,810.9L-436.7,810.1L-436.3,809.3L-436.0,808.5L-435.7,807.7L-435.3,806.9L-435.0,806.1L-434.6,805.3L-434.3,804.5L-433.9,803.7L-433.5,802.9L-433.2,802.1L-432.8,801.3L-432.5,800.5L-432.1,799.7L-431.7,798.9L-431.3,798.1L-431.0,797.3L-430.6,796.5L-430.2,795.7L-429.8,794.8L-429.4,794.0L-429.0,793.2L-428.6,792.4L-428.2,791.6L-427.8,790.8L-427.4,790.0L-427.0,789.2L-426.6,788.4L-426.2,787.6L-425.8,786.8L-425.4,786.0L-425.0,785.2L-424.5,784.4L-424.1,783.6L-423.7,782.8L-423.3,782.0L-422.8,781.2L-422.4,780.4L-422.0,779.6L-421.5,778.8L-421.1,778.0L-420.6,777.2L-420.2,776.3L-419.7,775.5L-419.3,774.7L-418.8,773.9L-418.3,773.1L-417.9,772.3L-417.4,771.5L-416.9,770.7L-416.5,769.9L-416.0,769.1L-415.5,768.3L-415.0,767.5L-414.5,766.7L-414.0,765.9L-413.5,765.1L-413.1,764.3L-412.6,763.5L-412.1,762.7L-411.5,761.9L-411.0,761.1L-410.5,760.3L-410.0,759.5L-409.5,758.6L-409.0,757.8L-408.5,757.0L-407.9,756.2L-407.4,755.4L-406.9,754.6L-406.3,753.8L-405.8,753.0L-405.3,752.2L-404.7,751.4L-404.2,750.6L-403.6,749.8L-403.1,749.0L-402.5,748.2L-402.0,747.4L-401.4,746.6L-400.9,745.8L-400.3,745.0L-399.7,744.2L-399.2,743.4L-398.6,742.6L-398.0,741.8L-397.4,740.9L-396.8,740.1L-396.3,739.3L-395.7,738.5L-395.1,737.7L-394.5,736.9L-393.9,736.1L-393.3,735.3L-392.7,734.5L-392.1,733.7L-391.5,732.9L-390.9,732.1L-390.2,731.3L-389.6,730.5L-389.0,729.7L-388.4,728.9L-387.8,728.1L-387.1,727.3L-386.5,726.5L-385.9,725.7L-385.2,724.9L-384.6,724.1L-384.0,723.2L-383.3,722.4L-382.7,721.6L-382.0,720.8L-381.4,720.0L-380.7,719.2L-380.1,718.4L-379.4,717.6L-378.7,716.8L-378.1,716.0L-377.4,715.2L-376.7,714.4L-376.1,713.6L-375.4,712.8L-374.7,712.0L-374.0,711.2L-373.3,710.4L-372.7,709.6L-372.0,708.8L-371.3,708.0L-370.6,707.2L-369.9,706.4L-369.2,705.5L-368.5,704.7L-367.8,703.9L-367.1,703.1L-366.4,702.3L-365.7,701.5L-365.0,700.7L-364.3,699.9L-363.6,699.1L-362.8,698.3L-362.1,697.5L-361.4,696.7L-360.7,695.9L-359.9,695.1L-359.2,694.3L-358.5,693.5L-357.8,692.7L-357.0,691.9L-356.3,691.1L-355.6,690.3L-354.8,689.5L-354.1,688.7L-353.3,687.9L-352.6,687.0L-351.8,686.2L-351.1,685.4L-350.3,684.6L-349.6,683.8L-348.8,683.0L-348.1,682.2L-347.3,681.4L-346.6,680.6L-345.8,679.8L-345.0,679.0L-344.3,678.2L-343.5,677.4L-342.7,676.6L-342.0,675.8L-341.2,675.0L-340.4,674.2L-339.7,673.4L-338.9,672.6L-338.1,671.8L-337.3,671.0L-336.6,670.2L-335.8,669.3L-335.0,668.5L-334.2,667.7L-333.4,666.9L-332.7,666.1L-331.9,665.3L-331.1,664.5L-330.3,663.7L-329.5,662.9L-328.7,662.1L-327.9,661.3L-327.1,660.5L-326.4,659.7L-325.6,658.9L-324.8,658.1L-324.0,657.3L-323.2,656.5L-322.4,655.7L-321.6,654.9L-320.8,654.1L-320.0,653.3L-319.2,652.5L-318.4,651.6L-317.6,650.8L-316.8,650.0L-316.0,649.2L-315.2,648.4L-314.4,647.6L-313.6,646.8L-312.8,646.0L-312.0,645.2L-311.2,644.4L-310.4,643.6L-309.6,642.8L-308.8,642.0L-308.0,641.2L-307.2,640.4L-306.4,639.6L-305.6,638.8L-304.8,638.0L-304.0,637.2L-303.2,636.4L-302.4,635.6L-301.6,634.8L-300.9,633.9L-300.1,633.1L-299.3,632.3L-298.5,631.5L-297.7,630.7L-296.9,629.9L-296.1,629.1L-295.3,628.3L-294.5,627.5L-293.7,626.7L-292.9,625.9L-292.1,625.1L-291.3,624.3L-290.6,623.5L-289.8,622.7L-289.0,621.9L-288.2,621.1L-287.4,620.3L-286.6,619.5L-285.9,618.7L-285.1,617.9L-284.3,617.1L-283.5,616.2L-282.7,615.4L-282.0,614.6L-281.2,613.8L-280.4,613.0L-279.7,612.2L-278.9,611.4L-278.1,610.6L-277.4,609.8L-276.6,609.0L-275.8,608.2L-275.1,607.4L-274.3,606.6L-273.6,605.8L-272.8,605.0L-272.1,604.2L-271.3,603.4L-270.6,602.6L-269.8,601.8L-269.1,601.0L-268.3,600.2L-267.6,599.4L-266.9,598.6L-266.1,597.7L-265.4,596.9L-264.7,596.1L-264.0,595.3L-263.2,594.5L-262.5,593.7L-261.8,592.9L-261.1,592.1L-260.4,591.3L-259.7,590.5L-259.0,589.7L-258.3,588.9L-257.6,588.1L-256.9,587.3L-256.2,586.5L-255.5,585.7L-254.8,584.9L-254.1,584.1L-253.4,583.3L-252.7,582.5L-252.1,581.7L-251.4,580.9L-250.7,580.0L-250.1,579.2L-249.4,578.4L-248.8,577.6L-248.1,576.8L-247.4,576.0L-246.8,575.2L-246.2,574.4L-245.5,573.6L-244.9,572.8L-244.3,572.0L-243.6,571.2L-243.0,570.4L-242.4,569.6L-241.8,568.8L-241.2,568.0L-240.5,567.2L-239.9,566.4L-239.3,565.6L-238.8,564.8L-238.2,564.0L-237.6,563.2L-237.0,562.3L-236.4,561.5L-235.8,560.7L-235.3,559.9L-234.7,559.1L-234.2,558.3L-233.6,557.5L-233.0,556.7L-232.5,555.9L-232.0,555.1L-231.4,554.3L-230.9,553.5L-230.4,552.7L-229.8,551.9L-229.3,551.1L-228.8,550.3L-228.3,549.5L-227.8,548.7L-227.3,547.9L-226.8,547.1L-226.3,546.3L-225.8,545.5L-225.4,544.6L-224.9,543.8L-224.4,543.0L-224.0,542.2L-223.5,541.4L-223.1,540.6L-222.6,539.8L-222.2,539.0L-221.8,538.2L-221.3,537.4L-220.9,536.6L-220.5,535.8L-220.1,535.0L-219.7,534.2L-219.3,533.4L-218.9,532.6L-218.5,531.8L-218.1,531.0L-217.7,530.2L-217.3,529.4L-217.0,528.6L-216.6,527.8L-216.3,526.9L-215.9,526.1L-215.6,525.3L-215.2,524.5L-214.9,523.7L-214.6,522.9L-214.3,522.1L-213.9,521.3L-213.6,520.5L-213.3,519.7L-213.0,518.9L-212.7,518.1L-212.5,517.3L-212.2,516.5L-211.9,515.7L-211.7,514.9L-211.4,514.1L-211.1,513.3L-210.9,512.5L-210.7,511.7L-210.4,510.9L-210.2,510.1L-210.0,509.3L-209.8,508.4L-209.5,507.6L-209.3,506.8L-209.2,506.0L-209.0,505.2L-208.8,504.4L-208.6,503.6L-208.4,502.8L-208.3,502.0L-208.1,501.2L-208.0,500.4L-207.8,499.6L-207.7,498.8L-207.5,498.0L-207.4,497.2L-207.3,496.4L-207.2,495.6L-207.1,494.8L-207.0,494.0L-206.9,493.2L-206.8,492.4L-206.7,491.6L-206.7,490.7L-206.6,489.9L-206.5,489.1L-206.5,488.3L-206.4,487.5L-206.4,486.7L-206.4,485.9L-206.3,485.1L-206.3,484.3L-206.3,483.5L-206.3,482.7L-206.3,481.9L-206.3,481.1L-206.3,480.3L-206.3,479.5L-206.4,478.7L-206.4,477.9L-206.4,477.1L-206.5,476.3L-206.5,475.5L-206.6,474.7L-206.7,473.9L-206.7,473.0L-206.8,472.2L-206.9,471.4L-207.0,470.6L-207.1,469.8L-207.2,469.0L-207.3,468.2L-207.4,467.4L-207.5,466.6L-207.7,465.8L-207.8,465.0L-208.0,464.2L-208.1,463.4L-208.3,462.6L-208.4,461.8L-208.6,461.0L-208.8,460.2L-209.0,459.4L-209.2,458.6L-209.3,457.8L-209.5,457.0L-209.8,456.2L-210.0,455.3L-210.2,454.5L-210.4,453.7L-210.7,452.9L-210.9,452.1L-211.1,451.3L-211.4,450.5L-211.7,449.7L-211.9,448.9L-212.2,448.1L-212.5,447.3L-212.7,446.5L-213.0,445.7L-213.3,444.9L-213.6,444.1L-213.9,443.3L-214.3,442.5L-214.6,441.7L-214.9,440.9L-215.2,440.1L-215.6,439.3L-215.9,438.5L-216.3,437.7L-216.6,436.8L-217.0,436.0L-217.3,435.2L-217.7,434.4L-218.1,433.6L-218.5,432.8L-218.9,432.0L-219.3,431.2L-219.7,430.4L-220.1,429.6L-220.5,428.8L-220.9,428.0L-221.3,427.2L-221.8,426.4L-222.2,425.6L-222.6,424.8L-223.1,424.0L-223.5,423.2L-224.0,422.4L-224.4,421.6L-224.9,420.8L-225.4,420.0L-225.8,419.1L-226.3,418.3L-226.8,417.5L-227.3,416.7L-227.8,415.9L-228.3,415.1L-228.8,414.3L-229.3,413.5L-229.8,412.7L-230.4,411.9L-230.9,411.1L-231.4,410.3L-232.0,409.5L-232.5,408.7L-233.0,407.9L-233.6,407.1L-234.2,406.3L-234.7,405.5L-235.3,404.7L-235.8,403.9L-236.4,403.1L-237.0,402.3L-237.6,401.4L-238.2,400.6L-238.8,399.8L-239.3,399.0L-239.9,398.2L-240.5,397.4L-241.2,396.6L-241.8,395.8L-242.4,395.0L-243.0,394.2L-243.6,393.4L-244.3,392.6L-244.9,391.8L-245.5,391.0L-246.2,390.2L-246.8,389.4L-247.4,388.6L-248.1,387.8L-248.8,387.0L-249.4,386.2L-250.1,385.4L-250.7,384.6L-251.4,383.7L-252.1,382.9L-252.7,382.1L-253.4,381.3L-254.1,380.5L-254.8,379.7L-255.5,378.9L-256.2,378.1L-256.9,377.3L-257.6,376.5L-258.3,375.7L-259.0,374.9L-259.7,374.1L-260.4,373.3L-261.1,372.5L-261.8,371.7L-262.5,370.9L-263.2,370.1L-264.0,369.3L-264.7,368.5L-265.4,367.7L-266.1,366.9L-266.9,366.0L-267.6,365.2L-268.3,364.4L-269.1,363.6L-269.8,362.8L-270.6,362.0L-271.3,361.2L-272.1,360.4L-272.8,359.6L-273.6,358.8L-274.3,358.0L-275.1,357.2L-275.8,356.4L-276.6,355.6L-277.4,354.8L-278.1,354.0L-278.9,353.2L-279.7,352.4L-280.4,351.6L-281.2,350.8L-282.0,350.0L-282.7,349.2L-283.5,348.4L-284.3,347.5L-285.1,346.7L-285.9,345.9L-286.6,345.1L-287.4,344.3L-288.2,343.5L-289.0,342.7L-289.8,341.9L-290.6,341.1L-291.3,340.3L-292.1,339.5L-292.9,338.7L-293.7,337.9L-294.5,337.1L-295.3,336.3L-296.1,335.5L-296.9,334.7L-297.7,333.9L-298.5,333.1L-299.3,332.3L-300.1,331.5L-300.9,330.7L-301.6,329.8L-302.4,329.0L-303.2,328.2L-304.0,327.4L-304.8,326.6L-305.6,325.8L-306.4,325.0L-307.2,324.2L-308.0,323.4L-308.8,322.6L-309.6,321.8L-310.4,321.0L-311.2,320.2L-312.0,319.4L-312.8,318.6L-313.6,317.8L-314.4,317.0L-315.2,316.2L-316.0,315.4L-316.8,314.6L-317.6,313.8L-318.4,313.0L-319.2,312.1L-320.0,311.3L-320.8,310.5L-321.6,309.7L-322.4,308.9L-323.2,308.1L-324.0,307.3L-324.8,306.5L-325.6,305.7L-326.4,304.9L-327.1,304.1L-327.9,303.3L-328.7,302.5L-329.5,301.7L-330.3,300.9L-331.1,300.1L-331.9,299.3L-332.7,298.5L-333.4,297.7L-334.2,296.9L-335.0,296.1L-335.8,295.3L-336.6,294.4L-337.3,293.6L-338.1,292.8L-338.9,292.0L-339.7,291.2L-340.4,290.4L-341.2,289.6L-342.0,288.8L-342.7,288.0L-343.5,287.2L-344.3,286.4L-345.0,285.6L-345.8,284.8L-346.6,284.0L-347.3,283.2L-348.1,282.4L-348.8,281.6L-349.6,280.8L-350.3,280.0L-351.1,279.2L-351.8,278.4L-352.6,277.6L-353.3,276.7L-354.1,275.9L-354.8,275.1L-355.6,274.3L-356.3,273.5L-357.0,272.7L-357.8,271.9L-358.5,271.1L-359.2,270.3L-359.9,269.5L-360.7,268.7L-361.4,267.9L-362.1,267.1L-362.8,266.3L-363.6,265.5L-364.3,264.7L-365.0,263.9L-365.7,263.1L-366.4,262.3L-367.1,261.5L-367.8,260.7L-368.5,259.9L-369.2,259.1L-369.9,258.2L-370.6,257.4L-371.3,256.6L-372.0,255.8L-372.7,255.0L-373.3,254.2L-374.0,253.4L-374.7,252.6L-375.4,251.8L-376.1,251.0L-376.7,250.2L-377.4,249.4L-378.1,248.6L-378.7,247.8L-379.4,247.0L-380.1,246.2L-380.7,245.4L-381.4,244.6L-382.0,243.8L-382.7,243.0L-383.3,242.2L-384.0,241.4L-384.6,240.5L-385.2,239.7L-385.9,238.9L-386.5,238.1L-387.1,237.3L-387.8,236.5L-388.4,235.7L-389.0,234.9L-389.6,234.1L-390.2,233.3L-390.9,232.5L-391.5,231.7L-392.1,230.9L-392.7,230.1L-393.3,229.3L-393.9,228.5L-394.5,227.7L-395.1,226.9L-395.7,226.1L-396.3,225.3L-396.8,224.5L-397.4,223.7L-398.0,222.8L-398.6,222.0L-399.2,221.2L-399.7,220.4L-400.3,219.6L-400.9,218.8L-401.4,218.0L-402.0,217.2L-402.5,216.4L-403.1,215.6L-403.6,214.8L-404.2,214.0L-404.7,213.2L-405.3,212.4L-405.8,211.6L-406.3,210.8L-406.9,210.0L-407.4,209.2L-407.9,208.4L-408.5,207.6L-409.0,206.8L-409.5,206.0L-410.0,205.1L-410.5,204.3L-411.0,203.5L-411.5,202.7L-412.1,201.9L-412.6,201.1L-413.1,200.3L-413.5,199.5L-414.0,198.7L-414.5,197.9L-415.0,197.1L-415.5,196.3L-416.0,195.5L-416.5,194.7L-416.9,193.9L-417.4,193.1L-417.9,192.3L-418.3,191.5L-418.8,190.7L-419.3,189.9L-419.7,189.1L-420.2,188.3L-420.6,187.4L-421.1,186.6L-421.5,185.8L-422.0,185.0L-422.4,184.2L-422.8,183.4L-423.3,182.6L-423.7,181.8L-424.1,181.0L-424.5,180.2L-425.0,179.4L-425.4,178.6L-425.8,177.8L-426.2,177.0L-426.6,176.2L-427.0,175.4L-427.4,174.6L-427.8,173.8L-428.2,173.0L-428.6,172.2L-429.0,171.4L-429.4,170.6L-429.8,169.8L-430.2,168.9L-430.6,168.1L-431.0,167.3L-431.3,166.5L-431.7,165.7L-432.1,164.9L-432.5,164.1L-432.8,163.3L-433.2,162.5L-433.5,161.7L-433.9,160.9L-434.3,160.1L-434.6,159.3L-435.0,158.5L-435.3,157.7L-435.7,156.9L-436.0,156.1L-436.3,155.3L-436.7,154.5L-437.0,153.7L-437.3,152.9L-437.7,152.1L-438.0,151.2L-438.3,150.4L-438.6,149.6L-439.0,148.8L-439.3,148.0L-439.6,147.2L-439.9,146.4L-440.2,145.6L-440.5,144.8L-440.8,144.0L-441.1,143.2L-441.4,142.4L-441.7,141.6L-442.0,140.8L-442.3,140.0L-442.6,139.2L-442.9,138.4L-443.2,137.6L-443.5,136.8L-443.7,136.0L-444.0,135.2L-444.3,134.4L-444.6,133.5L-444.8,132.7L-445.1,131.9L-445.4,131.1L-445.6,130.3L-445.9,129.5L-446.2,128.7L-446.4,127.9L-446.7,127.1L-446.9,126.3L-447.2,125.5L-447.4,124.7L-447.7,123.9L-447.9,123.1L-448.1,122.3L-448.4,121.5L-448.6,120.7L-448.9,119.9L-449.1,119.1L-449.3,118.3L-449.5,117.5L-449.8,116.7L-450.0,115.8L-450.2,115.0L-450.4,114.2L-450.7,113.4L-450.9,112.6L-451.1,111.8L-451.3,111.0L-451.5,110.2L-451.7,109.4L-451.9,108.6L-452.1,107.8L-452.3,107.0L-452.5,106.2L-452.7,105.4L-452.9,104.6L-453.1,103.8L-453.3,103.0L-453.5,102.2L-453.7,101.4L-453.9,100.6L-454.1,99.8L-454.3,99.0L-454.4,98.1L-454.6,97.3L-454.8,96.5L-455.0,95.7L-455.2,94.9L-455.3,94.1L-455.5,93.3L-455.7,92.5L-455.8,91.7L-456.0,90.9L-456.2,90.1L-456.3,89.3L-456.5,88.5L-456.7,87.7L-456.8,86.9L-457.0,86.1L-457.1,85.3L-457.3,84.5L-457.4,83.7L-457.6,82.9L-457.7,82.1L-457.9,81.3L-458.0,80.5L-458.2,79.6L-458.3,78.8L-458.4,78.0L-458.6,77.2L-458.7,76.4L-458.9,75.6L-459.0,74.8L-459.1,74.0L-459.3,73.2L-459.4,72.4L-459.5,71.6L-459.7,70.8L-459.8,70.0L-459.9,69.2L-460.0,68.4L-460.2,67.6L-460.3,66.8L-460.4,66.0L-460.5,65.2L-460.6,64.4L-460.7,63.6L-460.9,62.8L-461.0,61.9L-461.1,61.1L-461.2,60.3L-461.3,59.5L-461.4,58.7L-461.5,57.9L-461.6,57.1L-461.7,56.3L-461.8,55.5L-461.9,54.7L-462.0,53.9L-462.1,53.1L-462.2,52.3L-462.3,51.5L-462.4,50.7L-462.5,49.9L-462.6,49.1L-462.7,48.3L-462.8,47.5L-462.9,46.7L-463.0,45.9L-463.1,45.1L-463.2,44.2L-463.3,43.4L-463.3,42.6L-463.4,41.8L-463.5,41.0L-463.6,40.2L-463.7,39.4L-463.8,38.6L-463.8,37.8L-463.9,37.0L-464.0,36.2L-464.1,35.4L-464.1,34.6L-464.2,33.8L-464.3,33.0L-464.4,32.2L-464.4,31.4L-464.5,30.6L-464.6,29.8L-464.7,29.0L-464.7,28.2L-464.8,27.4L-464.9,26.5L-464.9,25.7L-465.0,24.9L-465.1,24.1L-465.1,23.3L-465.2,22.5L-465.3,21.7L-465.3,20.9L-465.4,20.1L-465.4,19.3L-465.5,18.5L-465.6,17.7L-465.6,16.9L-465.7,16.1L-465.7,15.3L-465.8,14.5L-465.8,13.7L-465.9,12.9L-465.9,12.1L-466.0,11.3L-466.1,10.5L-466.1,9.7L-466.2,8.8L-466.2,8.0L-466.3,7.2L-466.3,6.4L-466.4,5.6L-466.4,4.8L-466.4,4.0L-466.5,3.2L-466.5,2.4L-466.6,1.6L-466.6,0.8L-466.7,0.0" stroke="#ff0000" stroke-width="10.0" fill="none" stroke-linejoin="round" clip-path="url(#cbl)"/>
<rect x="0.0" y="0.0" width="965.2" height="964.6" fill="none" stroke="#000" stroke-width="5.3"/>
<rect x="-481.8" y="0.0" width="289.0" height="964.6" fill="none" stroke="#000" stroke-width="5.3"/>
<rect x="0.0" y="1157.6" width="965.2" height="289.3" fill="none" stroke="#000" stroke-width="5.3"/>
<line x1="160.9" y1="964.6" x2="160.9" y2="989.1" stroke="#000" stroke-width="5.3"/>
<line x1="482.6" y1="964.6" x2="482.6" y2="989.1" stroke="#000" stroke-width="5.3"/>
<line x1="804.3" y1="964.6" x2="804.3" y2="989.1" stroke="#000" stroke-width="5.3"/>
<line x1="160.9" y1="1446.9" x2="160.9" y2="1471.4" stroke="#000" stroke-width="5.3"/>
<line x1="482.6" y1="1446.9" x2="482.6" y2="1471.4" stroke="#000" stroke-width="5.3"/>
<line x1="804.3" y1="1446.9" x2="804.3" y2="1471.4" stroke="#000" stroke-width="5.3"/>
<line x1="-469.6" y1="964.6" x2="-469.6" y2="989.1" stroke="#000" stroke-width="5.3"/>
<line x1="-304.6" y1="964.6" x2="-304.6" y2="989.1" stroke="#000" stroke-width="5.3"/>
<line x1="-24.5" y1="964.6" x2="0.0" y2="964.6" stroke="#000" stroke-width="5.3"/>
<line x1="-24.5" y1="803.8" x2="0.0" y2="803.8" stroke="#000" stroke-width="5.3"/>
<line x1="-24.5" y1="643.1" x2="0.0" y2="643.1" stroke="#000" stroke-width="5.3"/>
<line x1="-24.5" y1="482.3" x2="0.0" y2="482.3" stroke="#000" stroke-width="5.3"/>
<line x1="-24.5" y1="321.5" x2="0.0" y2="321.5" stroke="#000" stroke-width="5.3"/>
<line x1="-24.5" y1="160.8" x2="0.0" y2="160.8" stroke="#000" stroke-width="5.3"/>
<line x1="-24.5" y1="0.0" x2="0.0" y2="0.0" stroke="#000" stroke-width="5.3"/>
<line x1="-506.3" y1="964.6" x2="-481.8" y2="964.6" stroke="#000" stroke-width="5.3"/>
<line x1="-506.3" y1="803.8" x2="-481.8" y2="803.8" stroke="#000" stroke-width="5.3"/>
<line x1="-506.3" y1="643.1" x2="-481.8" y2="643.1" stroke="#000" stroke-width="5.3"/>
<line x1="-506.3" y1="482.3" x2="-481.8" y2="482.3" stroke="#000" stroke-width="5.3"/>
<line x1="-506.3" y1="321.5" x2="-481.8" y2="321.5" stroke="#000" stroke-width="5.3"/>
<line x1="-506.3" y1="160.8" x2="-481.8" y2="160.8" stroke="#000" stroke-width="5.3"/>
<line x1="-506.3" y1="0.0" x2="-481.8" y2="0.0" stroke="#000" stroke-width="5.3"/>
<line x1="-24.5" y1="1433.7" x2="0.0" y2="1433.7" stroke="#000" stroke-width="5.3"/>
<line x1="-24.5" y1="1268.9" x2="0.0" y2="1268.9" stroke="#000" stroke-width="5.3"/>
<rect x="119.4" y="1039.1" width="41.6" height="5.6" fill="#000"/>
<text x="167.6" y="1062.6" font-size="67.0" text-anchor="start" font-family="Liberation Sans, sans-serif" textLength="41.8" lengthAdjust="spacingAndGlyphs" >2</text>
<rect x="119.4" y="1521.4" width="41.6" height="5.6" fill="#000"/>
<text x="167.6" y="1544.9" font-size="67.0" text-anchor="start" font-family="Liberation Sans, sans-serif" textLength="41.8" lengthAdjust="spacingAndGlyphs" >2</text>
<text x="461.7" y="1062.6" font-size="67.0" text-anchor="start" font-family="Liberation Sans, sans-serif" textLength="41.8" lengthAdjust="spacingAndGlyphs" >0</text>
<text x="461.7" y="1544.9" font-size="67.0" text-anchor="start" font-family="Liberation Sans, sans-serif" textLength="41.8" lengthAdjust="spacingAndGlyphs" >0</text>
<text x="783.4" y="1062.6" font-size="67.0" text-anchor="start" font-family="Liberation Sans, sans-serif" textLength="41.8" lengthAdjust="spacingAndGlyphs" >2</text>
<text x="783.4" y="1544.9" font-size="67.0" text-anchor="start" font-family="Liberation Sans, sans-serif" textLength="41.8" lengthAdjust="spacingAndGlyphs" >2</text>
<text x="-542.8" y="1062.6" font-size="67.0" text-anchor="start" font-family="Liberation Sans, sans-serif" textLength="146.3" lengthAdjust="spacingAndGlyphs" >0.00</text>
<text x="-377.8" y="1062.6" font-size="67.0" text-anchor="start" font-family="Liberation Sans, sans-serif" textLength="146.3" lengthAdjust="spacingAndGlyphs" >0.25</text>
<rect x="-138.0" y="966.6" width="41.6" height="5.6" fill="#000"/>
<text x="-89.8" y="990.1" font-size="67.0" text-anchor="start" font-family="Liberation Sans, sans-serif" textLength="41.8" lengthAdjust="spacingAndGlyphs" >3</text>
<rect x="-619.8" y="966.6" width="41.6" height="5.6" fill="#000"/>
<text x="-571.6" y="990.1" font-size="67.0" text-anchor="start" font-family="Liberation Sans, sans-serif" textLength="41.8" lengthAdjust="spacingAndGlyphs" >3</text>
<rect x="-138.0" y="805.8" width="41.6" height="5.6" fill="#000"/>
<text x="-89.8" y="829.3" font-size="67.0" text-anchor="start" font-family="Liberation Sans, sans-serif" textLength="41.8" lengthAdjust="spacingAndGlyphs" >2</text>
<rect x="-619.8" y="805.8" width="41.6" height="5.6" fill="#000"/>
<text x="-571.6" y="829.3" font-size="67.0" text-anchor="start" font-family="Liberation Sans, sans-serif" textLength="41.8" lengthAdjust="spacingAndGlyphs" >2</text>
<rect x="-138.0" y="645.0" width="41.6" height="5.6" fill="#000"/>
<text x="-89.8" y="668.6" font-size="67.0" text-anchor="start" font-family="Liberation Sans, sans-serif" textLength="41.8" lengthAdjust="spacingAndGlyphs" >1</text>
<rect x="-619.8" y="645.0" width="41.6" height="5.6" fill="#000"/>
<text x="-571.6" y="668.6" font-size="67.0" text-anchor="start" font-family="Liberation Sans, sans-serif" textLength="41.8" lengthAdjust="spacingAndGlyphs" >1</text>
<text x="-89.8" y="507.8" font-size="67.0" text-anchor="start" font-family="Liberation Sans, sans-serif" textLength="41.8" lengthAdjust="spacingAndGlyphs" >0</text>
<text x="-571.6" y="507.8" font-size="67.0" text-anchor="start" font-family="Liberation Sans, sans-serif" textLength="41.8" lengthAdjust="spacingAndGlyphs" >0</text>
<text x="-89.8" y="347.0" font-size="67.0" text-anchor="start" font-family="Liberation Sans, sans-serif" textLength="41.8" lengthAdjust="spacingAndGlyphs" >1</text>
<text x="-571.6" y="347.0" font-size="67.0" text-anchor="start" font-family="Liberation Sans, sans-serif" textLength="41.8" lengthAdjust="spacingAndGlyphs" >1</text>
<text x="-89.8" y="186.3" font-size="67.0" text-anchor="start" font-family="Liberation Sans, sans-serif" textLength="41.8" lengthAdjust="spacingAndGlyphs" >2</text>
<text x="-571.6" y="186.3" font-size="67.0" text-anchor="start" font-family="Liberation Sans, sans-serif" textLength="41.8" lengthAdjust="spacingAndGlyphs" >2</text>
<text x="-89.8" y="25.5" font-size="67.0" text-anchor="start" font-family="Liberation Sans, sans-serif" textLength="41.8" lengthAdjust="spacingAndGlyphs" >3</text>
<text x="-571.6" y="25.5" font-size="67.0" text-anchor="start" font-family="Liberation Sans, sans-serif" textLength="41.8" lengthAdjust="spacingAndGlyphs" >3</text>
<text x="-194.3" y="1459.2" font-size="67.0" text-anchor="start" font-family="Liberation Sans, sans-serif" textLength="146.3" lengthAdjust="spacingAndGlyphs" >0.00</text>
<text x="-194.3" y="1294.4" font-size="67.0" text-anchor="start" font-family="Liberation Sans, sans-serif" textLength="146.3" lengthAdjust="spacingAndGlyphs" >0.25</text>
<text x="482.6" y="-40.0" font-size="82.5" text-anchor="middle" font-family="Liberation Sans, sans-serif" textLength="643.0" lengthAdjust="spacingAndGlyphs" >2D Probit Space</text>
<text x="482.6" y="1635.8" font-size="67.0" text-anchor="middle" font-family="Liberation Sans, sans-serif" textLength="548.0" lengthAdjust="spacingAndGlyphs" >Probit variable 1</text>
<text x="-337.3" y="1154.1" font-size="67.0" text-anchor="middle" font-family="Liberation Sans, sans-serif" textLength="127.0" lengthAdjust="spacingAndGlyphs" >PDF</text>
<text x="-669.3" y="482.3" font-size="67.0" text-anchor="middle" font-family="Liberation Sans, sans-serif" textLength="546.0" lengthAdjust="spacingAndGlyphs" transform="rotate(-90 -669.3 482.3)" >Probit variable 2</text>
<text x="-235.6" y="1302.2" font-size="67.0" text-anchor="middle" font-family="Liberation Sans, sans-serif" textLength="127.0" lengthAdjust="spacingAndGlyphs" transform="rotate(-90 -235.6 1302.2)" >PDF</text>
</g>
<g transform="translate(790.1,2570.2)">
<clipPath id="ccm"><rect x="0" y="0" width="965.2" height="964.6"/></clipPath>
<clipPath id="ccl"><rect x="-481.8" y="0" width="289.0" height="964.6"/></clipPath>
<clipPath id="ccb"><rect x="0" y="1157.6" width="965.2" height="289.3000000000002"/></clipPath>
<path d="M78.8,761.4l30.4,30.4m-30.4,0l30.4,-30.4M206.5,492.1l30.4,30.4m-30.4,0l30.4,-30.4M218.2,627.5l30.4,30.4m-30.4,0l30.4,-30.4M220.5,706.1l30.4,30.4m-30.4,0l30.4,-30.4M275.3,546.5l30.4,30.4m-30.4,0l30.4,-30.4M288.1,523.6l30.4,30.4m-30.4,0l30.4,-30.4M302.6,498.0l30.4,30.4m-30.4,0l30.4,-30.4M305.6,783.0l30.4,30.4m-30.4,0l30.4,-30.4M341.9,783.0l30.4,30.4m-30.4,0l30.4,-30.4M329.0,538.8l30.4,30.4m-30.4,0l30.4,-30.4M327.5,572.5l30.4,30.4m-30.4,0l30.4,-30.4M332.7,633.1l30.4,30.4m-30.4,0l30.4,-30.4M330.1,889.8l30.4,30.4m-30.4,0l30.4,-30.4M363.0,583.1l30.4,30.4m-30.4,0l30.4,-30.4M367.3,578.7l30.4,30.4m-30.4,0l30.4,-30.4M387.7,570.0l30.4,30.4m-30.4,0l30.4,-30.4M386.9,648.0l30.4,30.4m-30.4,0l30.4,-30.4M405.2,541.1l30.4,30.4m-30.4,0l30.4,-30.4M403.1,406.1l30.4,30.4m-30.4,0l30.4,-30.4M410.8,495.1l30.4,30.4m-30.4,0l30.4,-30.4M416.5,499.1l30.4,30.4m-30.4,0l30.4,-30.4M448.8,442.8l30.4,30.4m-30.4,0l30.4,-30.4M459.0,433.1l30.4,30.4m-30.4,0l30.4,-30.4M473.2,432.7l30.4,30.4m-30.4,0l30.4,-30.4M483.3,417.1l30.4,30.4m-30.4,0l30.4,-30.4M486.0,416.3l30.4,30.4m-30.4,0l30.4,-30.4M464.7,312.1l30.4,30.4m-30.4,0l30.4,-30.4M484.4,324.5l30.4,30.4m-30.4,0l30.4,-30.4M494.7,358.6l30.4,30.4m-30.4,0l30.4,-30.4M515.7,365.2l30.4,30.4m-30.4,0l30.4,-30.4M528.6,387.3l30.4,30.4m-30.4,0l30.4,-30.4M470.1,479.1l30.4,30.4m-30.4,0l30.4,-30.4M489.3,482.6l30.4,30.4m-30.4,0l30.4,-30.4M509.7,507.0l30.4,30.4m-30.4,0l30.4,-30.4M522.7,482.0l30.4,30.4m-30.4,0l30.4,-30.4M532.0,551.9l30.4,30.4m-30.4,0l30.4,-30.4M570.7,372.8l30.4,30.4m-30.4,0l30.4,-30.4M574.2,369.3l30.4,30.4m-30.4,0l30.4,-30.4M601.0,371.4l30.4,30.4m-30.4,0l30.4,-30.4M635.8,348.9l30.4,30.4m-30.4,0l30.4,-30.4M589.6,433.3l30.4,30.4m-30.4,0l30.4,-30.4M630.0,444.4l30.4,30.4m-30.4,0l30.4,-30.4M606.2,167.2l30.4,30.4m-30.4,0l30.4,-30.4M644.4,226.8l30.4,30.4m-30.4,0l30.4,-30.4M688.7,140.0l30.4,30.4m-30.4,0l30.4,-30.4M697.5,171.7l30.4,30.4m-30.4,0l30.4,-30.4M689.7,316.5l30.4,30.4m-30.4,0l30.4,-30.4M745.4,235.5l30.4,30.4m-30.4,0l30.4,-30.4M769.5,340.4l30.4,30.4m-30.4,0l30.4,-30.4M876.0,336.5l30.4,30.4m-30.4,0l30.4,-30.4" stroke="#ff0000" stroke-width="10" fill="none" clip-path="url(#ccm)"/>
<path d="M-484.8,761.4l30.4,30.4m-30.4,0l30.4,-30.4M-484.8,492.1l30.4,30.4m-30.4,0l30.4,-30.4M-484.8,627.5l30.4,30.4m-30.4,0l30.4,-30.4M-484.8,706.1l30.4,30.4m-30.4,0l30.4,-30.4M-484.8,546.5l30.4,30.4m-30.4,0l30.4,-30.4M-484.8,523.6l30.4,30.4m-30.4,0l30.4,-30.4M-484.8,498.0l30.4,30.4m-30.4,0l30.4,-30.4M-484.8,783.0l30.4,30.4m-30.4,0l30.4,-30.4M-484.8,783.0l30.4,30.4m-30.4,0l30.4,-30.4M-484.8,538.8l30.4,30.4m-30.4,0l30.4,-30.4M-484.8,572.5l30.4,30.4m-30.4,0l30.4,-30.4M-484.8,633.1l30.4,30.4m-30.4,0l30.4,-30.4M-484.8,889.8l30.4,30.4m-30.4,0l30.4,-30.4M-484.8,583.1l30.4,30.4m-30.4,0l30.4,-30.4M-484.8,578.7l30.4,30.4m-30.4,0l30.4,-30.4M-484.8,570.0l30.4,30.4m-30.4,0l30.4,-30.4M-484.8,648.0l30.4,30.4m-30.4,0l30.4,-30.4M-484.8,541.1l30.4,30.4m-30.4,0l30.4,-30.4M-484.8,406.1l30.4,30.4m-30.4,0l30.4,-30.4M-484.8,495.1l30.4,30.4m-30.4,0l30.4,-30.4M-484.8,499.1l30.4,30.4m-30.4,0l30.4,-30.4M-484.8,442.8l30.4,30.4m-30.4,0l30.4,-30.4M-484.8,433.1l30.4,30.4m-30.4,0l30.4,-30.4M-484.8,432.7l30.4,30.4m-30.4,0l30.4,-30.4M-484.8,417.1l30.4,30.4m-30.4,0l30.4,-30.4M-484.8,416.3l30.4,30.4m-30.4,0l30.4,-30.4M-484.8,312.1l30.4,30.4m-30.4,0l30.4,-30.4M-484.8,324.5l30.4,30.4m-30.4,0l30.4,-30.4M-484.8,358.6l30.4,30.4m-30.4,0l30.4,-30.4M-484.8,365.2l30.4,30.4m-30.4,0l30.4,-30.4M-484.8,387.3l30.4,30.4m-30.4,0l30.4,-30.4M-484.8,479.1l30.4,30.4m-30.4,0l30.4,-30.4M-484.8,482.6l30.4,30.4m-30.4,0l30.4,-30.4M-484.8,507.0l30.4,30.4m-30.4,0l30.4,-30.4M-484.8,482.0l30.4,30.4m-30.4,0l30.4,-30.4M-484.8,551.9l30.4,30.4m-30.4,0l30.4,-30.4M-484.8,372.8l30.4,30.4m-30.4,0l30.4,-30.4M-484.8,369.3l30.4,30.4m-30.4,0l30.4,-30.4M-484.8,371.4l30.4,30.4m-30.4,0l30.4,-30.4M-484.8,348.9l30.4,30.4m-30.4,0l30.4,-30.4M-484.8,433.3l30.4,30.4m-30.4,0l30.4,-30.4M-484.8,444.4l30.4,30.4m-30.4,0l30.4,-30.4M-484.8,167.2l30.4,30.4m-30.4,0l30.4,-30.4M-484.8,226.8l30.4,30.4m-30.4,0l30.4,-30.4M-484.8,140.0l30.4,30.4m-30.4,0l30.4,-30.4M-484.8,171.7l30.4,30.4m-30.4,0l30.4,-30.4M-484.8,316.5l30.4,30.4m-30.4,0l30.4,-30.4M-484.8,235.5l30.4,30.4m-30.4,0l30.4,-30.4M-484.8,340.4l30.4,30.4m-30.4,0l30.4,-30.4M-484.8,336.5l30.4,30.4m-30.4,0l30.4,-30.4" stroke="#ff0000" stroke-width="10" fill="none" clip-path="url(#ccl)"/>
<path d="M78.8,1418.5l30.4,30.4m-30.4,0l30.4,-30.4M206.5,1418.5l30.4,30.4m-30.4,0l30.4,-30.4M218.2,1418.5l30.4,30.4m-30.4,0l30.4,-30.4M220.5,1418.5l30.4,30.4m-30.4,0l30.4,-30.4M275.3,1418.5l30.4,30.4m-30.4,0l30.4,-30.4M288.1,1418.5l30.4,30.4m-30.4,0l30.4,-30.4M302.6,1418.5l30.4,30.4m-30.4,0l30.4,-30.4M305.6,1418.5l30.4,30.4m-30.4,0l30.4,-30.4M341.9,1418.5l30.4,30.4m-30.4,0l30.4,-30.4M329.0,1418.5l30.4,30.4m-30.4,0l30.4,-30.4M327.5,1418.5l30.4,30.4m-30.4,0l30.4,-30.4M332.7,1418.5l30.4,30.4m-30.4,0l30.4,-30.4M330.1,1418.5l30.4,30.4m-30.4,0l30.4,-30.4M363.0,1418.5l30.4,30.4m-30.4,0l30.4,-30.4M367.3,1418.5l30.4,30.4m-30.4,0l30.4,-30.4M387.7,1418.5l30.4,30.4m-30.4,0l30.4,-30.4M386.9,1418.5l30.4,30.4m-30.4,0l30.4,-30.4M405.2,1418.5l30.4,30.4m-30.4,0l30.4,-30.4M403.1,1418.5l30.4,30.4m-30.4,0l30.4,-30.4M410.8,1418.5l30.4,30.4m-30.4,0l30.4,-30.4M416.5,1418.5l30.4,30.4m-30.4,0l30.4,-30.4M448.8,1418.5l30.4,30.4m-30.4,0l30.4,-30.4M459.0,1418.5l30.4,30.4m-30.4,0l30.4,-30.4M473.2,1418.5l30.4,30.4m-30.4,0l30.4,-30.4M483.3,1418.5l30.4,30.4m-30.4,0l30.4,-30.4M486.0,1418.5l30.4,30.4m-30.4,0l30.4,-30.4M464.7,1418.5l30.4,30.4m-30.4,0l30.4,-30.4M484.4,1418.5l30.4,30.4m-30.4,0l30.4,-30.4M494.7,1418.5l30.4,30.4m-30.4,0l30.4,-30.4M515.7,1418.5l30.4,30.4m-30.4,0l30.4,-30.4M528.6,1418.5l30.4,30.4m-30.4,0l30.4,-30.4M470.1,1418.5l30.4,30.4m-30.4,0l30.4,-30.4M489.3,1418.5l30.4,30.4m-30.4,0l30.4,-30.4M509.7,1418.5l30.4,30.4m-30.4,0l30.4,-30.4M522.7,1418.5l30.4,30.4m-30.4,0l30.4,-30.4M532.0,1418.5l30.4,30.4m-30.4,0l30.4,-30.4M570.7,1418.5l30.4,30.4m-30.4,0l30.4,-30.4M574.2,1418.5l30.4,30.4m-30.4,0l30.4,-30.4M601.0,1418.5l30.4,30.4m-30.4,0l30.4,-30.4M635.8,1418.5l30.4,30.4m-30.4,0l30.4,-30.4M589.6,1418.5l30.4,30.4m-30.4,0l30.4,-30.4M630.0,1418.5l30.4,30.4m-30.4,0l30.4,-30.4M606.2,1418.5l30.4,30.4m-30.4,0l30.4,-30.4M644.4,1418.5l30.4,30.4m-30.4,0l30.4,-30.4M688.7,1418.5l30.4,30.4m-30.4,0l30.4,-30.4M697.5,1418.5l30.4,30.4m-30.4,0l30.4,-30.4M689.7,1418.5l30.4,30.4m-30.4,0l30.4,-30.4M745.4,1418.5l30.4,30.4m-30.4,0l30.4,-30.4M769.5,1418.5l30.4,30.4m-30.4,0l30.4,-30.4M876.0,1418.5l30.4,30.4m-30.4,0l30.4,-30.4" stroke="#ff0000" stroke-width="10" fill="none" clip-path="url(#ccb)"/>
<path d="M0.0,1430.8L2.4,1430.6L4.8,1430.5L7.3,1430.4L9.7,1430.2L12.1,1430.0L14.5,1429.9L16.9,1429.7L19.4,1429.5L21.8,1429.4L24.2,1429.2L26.6,1429.0L29.0,1428.8L31.4,1428.5L33.9,1428.3L36.3,1428.1L38.7,1427.9L41.1,1427.6L43.5,1427.4L46.0,1427.1L48.4,1426.8L50.8,1426.5L53.2,1426.2L55.6,1425.9L58.1,1425.6L60.5,1425.3L62.9,1425.0L65.3,1424.6L67.7,1424.2L70.2,1423.9L72.6,1423.5L75.0,1423.1L77.4,1422.7L79.8,1422.3L82.2,1421.8L84.7,1421.4L87.1,1420.9L89.5,1420.4L91.9,1419.9L94.3,1419.4L96.8,1418.9L99.2,1418.3L101.6,1417.8L104.0,1417.2L106.4,1416.6L108.9,1416.0L111.3,1415.4L113.7,1414.7L116.1,1414.1L118.5,1413.4L121.0,1412.7L123.4,1412.0L125.8,1411.2L128.2,1410.5L130.6,1409.7L133.0,1408.9L135.5,1408.1L137.9,1407.2L140.3,1406.4L142.7,1405.5L145.1,1404.6L147.6,1403.6L150.0,1402.7L152.4,1401.7L154.8,1400.7L157.2,1399.7L159.7,1398.6L162.1,1397.6L164.5,1396.5L166.9,1395.4L169.3,1394.2L171.8,1393.0L174.2,1391.8L176.6,1390.6L179.0,1389.4L181.4,1388.1L183.8,1386.8L186.3,1385.5L188.7,1384.1L191.1,1382.8L193.5,1381.4L195.9,1379.9L198.4,1378.5L200.8,1377.0L203.2,1375.5L205.6,1374.0L208.0,1372.4L210.5,1370.8L212.9,1369.2L215.3,1367.6L217.7,1365.9L220.1,1364.2L222.6,1362.5L225.0,1360.7L227.4,1359.0L229.8,1357.2L232.2,1355.4L234.6,1353.5L237.1,1351.6L239.5,1349.7L241.9,1347.8L244.3,1345.9L246.7,1343.9L249.2,1341.9L251.6,1339.9L254.0,1337.9L256.4,1335.8L258.8,1333.7L261.3,1331.6L263.7,1329.5L266.1,1327.4L268.5,1325.2L270.9,1323.0L273.4,1320.8L275.8,1318.6L278.2,1316.4L280.6,1314.1L283.0,1311.9L285.4,1309.6L287.9,1307.3L290.3,1305.0L292.7,1302.7L295.1,1300.3L297.5,1298.0L300.0,1295.6L302.4,1293.3L304.8,1290.9L307.2,1288.5L309.6,1286.1L312.1,1283.8L314.5,1281.4L316.9,1279.0L319.3,1276.6L321.7,1274.2L324.2,1271.8L326.6,1269.4L329.0,1267.0L331.4,1264.6L333.8,1262.2L336.2,1259.8L338.7,1257.4L341.1,1255.1L343.5,1252.7L345.9,1250.4L348.3,1248.0L350.8,1245.7L353.2,1243.4L355.6,1241.1L358.0,1238.8L360.4,1236.6L362.9,1234.3L365.3,1232.1L367.7,1229.9L370.1,1227.7L372.5,1225.6L375.0,1223.4L377.4,1221.3L379.8,1219.3L382.2,1217.2L384.6,1215.2L387.0,1213.2L389.5,1211.3L391.9,1209.3L394.3,1207.5L396.7,1205.6L399.1,1203.8L401.6,1202.0L404.0,1200.3L406.4,1198.6L408.8,1196.9L411.2,1195.3L413.7,1193.8L416.1,1192.2L418.5,1190.8L420.9,1189.3L423.3,1187.9L425.8,1186.6L428.2,1185.3L430.6,1184.1L433.0,1182.9L435.4,1181.7L437.8,1180.7L440.3,1179.6L442.7,1178.7L445.1,1177.7L447.5,1176.9L449.9,1176.0L452.4,1175.3L454.8,1174.6L457.2,1173.9L459.6,1173.3L462.0,1172.8L464.5,1172.3L466.9,1171.9L469.3,1171.6L471.7,1171.3L474.1,1171.0L476.6,1170.9L479.0,1170.7L481.4,1170.7L483.8,1170.7L486.2,1170.7L488.6,1170.9L491.1,1171.0L493.5,1171.3L495.9,1171.6L498.3,1171.9L500.7,1172.3L503.2,1172.8L505.6,1173.3L508.0,1173.9L510.4,1174.6L512.8,1175.3L515.3,1176.0L517.7,1176.9L520.1,1177.7L522.5,1178.7L524.9,1179.6L527.4,1180.7L529.8,1181.7L532.2,1182.9L534.6,1184.1L537.0,1185.3L539.4,1186.6L541.9,1187.9L544.3,1189.3L546.7,1190.8L549.1,1192.2L551.5,1193.8L554.0,1195.3L556.4,1196.9L558.8,1198.6L561.2,1200.3L563.6,1202.0L566.1,1203.8L568.5,1205.6L570.9,1207.5L573.3,1209.3L575.7,1211.3L578.2,1213.2L580.6,1215.2L583.0,1217.2L585.4,1219.3L587.8,1221.3L590.2,1223.4L592.7,1225.6L595.1,1227.7L597.5,1229.9L599.9,1232.1L602.3,1234.3L604.8,1236.6L607.2,1238.8L609.6,1241.1L612.0,1243.4L614.4,1245.7L616.9,1248.0L619.3,1250.4L621.7,1252.7L624.1,1255.1L626.5,1257.4L629.0,1259.8L631.4,1262.2L633.8,1264.6L636.2,1267.0L638.6,1269.4L641.0,1271.8L643.5,1274.2L645.9,1276.6L648.3,1279.0L650.7,1281.4L653.1,1283.8L655.6,1286.1L658.0,1288.5L660.4,1290.9L662.8,1293.3L665.2,1295.6L667.7,1298.0L670.1,1300.3L672.5,1302.7L674.9,1305.0L677.3,1307.3L679.8,1309.6L682.2,1311.9L684.6,1314.1L687.0,1316.4L689.4,1318.6L691.8,1320.8L694.3,1323.0L696.7,1325.2L699.1,1327.4L701.5,1329.5L703.9,1331.6L706.4,1333.7L708.8,1335.8L711.2,1337.9L713.6,1339.9L716.0,1341.9L718.5,1343.9L720.9,1345.9L723.3,1347.8L725.7,1349.7L728.1,1351.6L730.6,1353.5L733.0,1355.4L735.4,1357.2L737.8,1359.0L740.2,1360.7L742.6,1362.5L745.1,1364.2L747.5,1365.9L749.9,1367.6L752.3,1369.2L754.7,1370.8L757.2,1372.4L759.6,1374.0L762.0,1375.5L764.4,1377.0L766.8,1378.5L769.3,1379.9L771.7,1381.4L774.1,1382.8L776.5,1384.1L778.9,1385.5L781.4,1386.8L783.8,1388.1L786.2,1389.4L788.6,1390.6L791.0,1391.8L793.4,1393.0L795.9,1394.2L798.3,1395.4L800.7,1396.5L803.1,1397.6L805.5,1398.6L808.0,1399.7L810.4,1400.7L812.8,1401.7L815.2,1402.7L817.6,1403.6L820.1,1404.6L822.5,1405.5L824.9,1406.4L827.3,1407.2L829.7,1408.1L832.2,1408.9L834.6,1409.7L837.0,1410.5L839.4,1411.2L841.8,1412.0L844.2,1412.7L846.7,1413.4L849.1,1414.1L851.5,1414.7L853.9,1415.4L856.3,1416.0L858.8,1416.6L861.2,1417.2L863.6,1417.8L866.0,1418.3L868.4,1418.9L870.9,1419.4L873.3,1419.9L875.7,1420.4L878.1,1420.9L880.5,1421.4L883.0,1421.8L885.4,1422.3L887.8,1422.7L890.2,1423.1L892.6,1423.5L895.0,1423.9L897.5,1424.2L899.9,1424.6L902.3,1425.0L904.7,1425.3L907.1,1425.6L909.6,1425.9L912.0,1426.2L914.4,1426.5L916.8,1426.8L919.2,1427.1L921.7,1427.4L924.1,1427.6L926.5,1427.9L928.9,1428.1L931.3,1428.3L933.8,1428.5L936.2,1428.8L938.6,1429.0L941.0,1429.2L943.4,1429.4L945.8,1429.5L948.3,1429.7L950.7,1429.9L953.1,1430.0L955.5,1430.2L957.9,1430.4L960.4,1430.5L962.8,1430.6L965.2,1430.8" stroke="#ff0000" stroke-width="10.0" fill="none" stroke-linejoin="round" clip-path="url(#ccb)"/>
<path d="M-466.7,964.6L-466.6,963.8L-466.6,963.0L-466.5,962.2L-466.5,961.4L-466.4,960.6L-466.4,959.8L-466.4,959.0L-466.3,958.2L-466.3,957.4L-466.2,956.6L-466.2,955.8L-466.1,954.9L-466.1,954.1L-466.0,953.3L-465.9,952.5L-465.9,951.7L-465.8,950.9L-465.8,950.1L-465.7,949.3L-465.7,948.5L-465.6,947.7L-465.6,946.9L-465.5,946.1L-465.4,945.3L-465.4,944.5L-465.3,943.7L-465.3,942.9L-465.2,942.1L-465.1,941.3L-465.1,940.5L-465.0,939.7L-464.9,938.9L-464.9,938.1L-464.8,937.2L-464.7,936.4L-464.7,935.6L-464.6,934.8L-464.5,934.0L-464.4,933.2L-464.4,932.4L-464.3,931.6L-464.2,930.8L-464.1,930.0L-464.1,929.2L-464.0,928.4L-463.9,927.6L-463.8,926.8L-463.8,926.0L-463.7,925.2L-463.6,924.4L-463.5,923.6L-463.4,922.8L-463.3,922.0L-463.3,921.2L-463.2,920.4L-463.1,919.5L-463.0,918.7L-462.9,917.9L-462.8,917.1L-462.7,916.3L-462.6,915.5L-462.5,914.7L-462.4,913.9L-462.3,913.1L-462.2,912.3L-462.1,911.5L-462.0,910.7L-461.9,909.9L-461.8,909.1L-461.7,908.3L-461.6,907.5L-461.5,906.7L-461.4,905.9L-461.3,905.1L-461.2,904.3L-461.1,903.5L-461.0,902.7L-460.9,901.8L-460.7,901.0L-460.6,900.2L-460.5,899.4L-460.4,898.6L-460.3,897.8L-460.2,897.0L-460.0,896.2L-459.9,895.4L-459.8,894.6L-459.7,893.8L-459.5,893.0L-459.4,892.2L-459.3,891.4L-459.1,890.6L-459.0,889.8L-458.9,889.0L-458.7,888.2L-458.6,887.4L-458.4,886.6L-458.3,885.8L-458.2,885.0L-458.0,884.1L-457.9,883.3L-457.7,882.5L-457.6,881.7L-457.4,880.9L-457.3,880.1L-457.1,879.3L-457.0,878.5L-456.8,877.7L-456.7,876.9L-456.5,876.1L-456.3,875.3L-456.2,874.5L-456.0,873.7L-455.8,872.9L-455.7,872.1L-455.5,871.3L-455.3,870.5L-455.2,869.7L-455.0,868.9L-454.8,868.1L-454.6,867.3L-454.4,866.5L-454.3,865.6L-454.1,864.8L-453.9,864.0L-453.7,863.2L-453.5,862.4L-453.3,861.6L-453.1,860.8L-452.9,860.0L-452.7,859.2L-452.5,858.4L-452.3,857.6L-452.1,856.8L-451.9,856.0L-451.7,855.2L-451.5,854.4L-451.3,853.6L-451.1,852.8L-450.9,852.0L-450.7,851.2L-450.4,850.4L-450.2,849.6L-450.0,848.8L-449.8,847.9L-449.5,847.1L-449.3,846.3L-449.1,845.5L-448.9,844.7L-448.6,843.9L-448.4,843.1L-448.1,842.3L-447.9,841.5L-447.7,840.7L-447.4,839.9L-447.2,839.1L-446.9,838.3L-446.7,837.5L-446.4,836.7L-446.2,835.9L-445.9,835.1L-445.6,834.3L-445.4,833.5L-445.1,832.7L-444.8,831.9L-444.6,831.1L-444.3,830.2L-444.0,829.4L-443.7,828.6L-443.5,827.8L-443.2,827.0L-442.9,826.2L-442.6,825.4L-442.3,824.6L-442.0,823.8L-441.7,823.0L-441.4,822.2L-441.1,821.4L-440.8,820.6L-440.5,819.8L-440.2,819.0L-439.9,818.2L-439.6,817.4L-439.3,816.6L-439.0,815.8L-438.6,815.0L-438.3,814.2L-438.0,813.4L-437.7,812.5L-437.3,811.7L-437.0,810.9L-436.7,810.1L-436.3,809.3L-436.0,808.5L-435.7,807.7L-435.3,806.9L-435.0,806.1L-434.6,805.3L-434.3,804.5L-433.9,803.7L-433.5,802.9L-433.2,802.1L-432.8,801.3L-432.5,800.5L-432.1,799.7L-431.7,798.9L-431.3,798.1L-431.0,797.3L-430.6,796.5L-430.2,795.7L-429.8,794.8L-429.4,794.0L-429.0,793.2L-428.6,792.4L-428.2,791.6L-427.8,790.8L-427.4,790.0L-427.0,789.2L-426.6,788.4L-426.2,787.6L-425.8,786.8L-425.4,786.0L-425.0,785.2L-424.5,784.4L-424.1,783.6L-423.7,782.8L-423.3,782.0L-422.8,781.2L-422.4,780.4L-422.0,779.6L-421.5,778.8L-421.1,778.0L-420.6,777.2L-420.2,776.3L-419.7,775.5L-419.3,774.7L-418.8,773.9L-418.3,773.1L-417.9,772.3L-417.4,771.5L-416.9,770.7L-416.5,769.9L-416.0,769.1L-415.5,768.3L-415.0,767.5L-414.5,766.7L-414.0,765.9L-413.5,765.1L-413.1,764.3L-412.6,763.5L-412.1,762.7L-411.5,761.9L-411.0,761.1L-410.5,760.3L-410.0,759.5L-409.5,758.6L-409.0,757.8L-408.5,757.0L-407.9,756.2L-407.4,755.4L-406.9,754.6L-406.3,753.8L-405.8,753.0L-405.3,752.2L-404.7,751.4L-404.2,750.6L-403.6,749.8L-403.1,749.0L-402.5,748.2L-402.0,747.4L-401.4,746.6L-400.9,745.8L-400.3,745.0L-399.7,744.2L-399.2,743.4L-398.6,742.6L-398.0,741.8L-397.4,740.9L-396.8,740.1L-396.3,739.3L-395.7,738.5L-395.1,737.7L-394.5,736.9L-393.9,736.1L-393.3,735.3L-392.7,734.5L-392.1,733.7L-391.5,732.9L-390.9,732.1L-390.2,731.3L-389.6,730.5L-389.0,729.7L-388.4,728.9L-387.8,728.1L-387.1,727.3L-386.5,726.5L-385.9,725.7L-385.2,724.9L-384.6,724.1L-384.0,723.2L-383.3,722.4L-382.7,721.6L-382.0,720.8L-381.4,720.0L-380.7,719.2L-380.1,718.4L-379.4,717.6L-378.7,716.8L-378.1,716.0L-377.4,715.2L-376.7,714.4L-376.1,713.6L-375.4,712.8L-374.7,712.0L-374.0,711.2L-373.3,710.4L-372.7,709.6L-372.0,708.8L-371.3,708.0L-370.6,707.2L-369.9,706.4L-369.2,705.5L-368.5,704.7L-367.8,703.9L-367.1,703.1L-366.4,702.3L-365.7,701.5L-365.0,700.7L-364.3,699.9L-363.6,699.1L-362.8,698.3L-362.1,697.5L-361.4,696.7L-360.7,695.9L-359.9,695.1L-359.2,694.3L-358.5,693.5L-357.8,692.7L-357.0,691.9L-356.3,691.1L-355.6,690.3L-354.8,689.5L-354.1,688.7L-353.3,687.9L-352.6,687.0L-351.8,686.2L-351.1,685.4L-350.3,684.6L-349.6,683.8L-348.8,683.0L-348.1,682.2L-347.3,681.4L-346.6,680.6L-345.8,679.8L-345.0,679.0L-344.3,678.2L-343.5,677.4L-342.7,676.6L-342.0,675.8L-341.2,675.0L-340.4,674.2L-339.7,673.4L-338.9,672.6L-338.1,671.8L-337.3,671.0L-336.6,670.2L-335.8,669.3L-335.0,668.5L-334.2,667.7L-333.4,666.9L-332.7,666.1L-331.9,665.3L-331.1,664.5L-330.3,663.7L-329.5,662.9L-328.7,662.1L-327.9,661.3L-327.1,660.5L-326.4,659.7L-325.6,658.9L-324.8,658.1L-324.0,657.3L-323.2,656.5L-322.4,655.7L-321.6,654.9L-320.8,654.1L-320.0,653.3L-319.2,652.5L-318.4,651.6L-317.6,650.8L-316.8,650.0L-316.0,649.2L-315.2,648.4L-314.4,647.6L-313.6,646.8L-312.8,646.0L-312.0,645.2L-311.2,644.4L-310.4,643.6L-309.6,642.8L-308.8,642.0L-308.0,641.2L-307.2,640.4L-306.4,639.6L-305.6,638.8L-304.8,638.0L-304.0,637.2L-303.2,636.4L-302.4,635.6L-301.6,634.8L-300.9,633.9L-300.1,633.1L-299.3,632.3L-298.5,631.5L-297.7,630.7L-296.9,629.9L-296.1,629.1L-295.3,628.3L-294.5,627.5L-293.7,626.7L-292.9,625.9L-292.1,625.1L-291.3,624.3L-290.6,623.5L-289.8,622.7L-289.0,621.9L-288.2,621.1L-287.4,620.3L-286.6,619.5L-285.9,618.7L-285.1,617.9L-284.3,617.1L-283.5,616.2L-282.7,615.4L-282.0,614.6L-281.2,613.8L-280.4,613.0L-279.7,612.2L-278.9,611.4L-278.1,610.6L-277.4,609.8L-276.6,609.0L-275.8,608.2L-275.1,607.4L-274.3,606.6L-273.6,605.8L-272.8,605.0L-272.1,604.2L-271.3,603.4L-270.6,602.6L-269.8,601.8L-269.1,601.0L-268.3,600.2L-267.6,599.4L-266.9,598.6L-266.1,597.7L-265.4,596.9L-264.7,596.1L-264.0,595.3L-263.2,594.5L-262.5,593.7L-261.8,592.9L-261.1,592.1L-260.4,591.3L-259.7,590.5L-259.0,589.7L-258.3,588.9L-257.6,588.1L-256.9,587.3L-256.2,586.5L-255.5,585.7L-254.8,584.9L-254.1,584.1L-253.4,583.3L-252.7,582.5L-252.1,581.7L-251.4,580.9L-250.7,580.0L-250.1,579.2L-249.4,578.4L-248.8,577.6L-248.1,576.8L-247.4,576.0L-246.8,575.2L-246.2,574.4L-245.5,573.6L-244.9,572.8L-244.3,572.0L-243.6,571.2L-243.0,570.4L-242.4,569.6L-241.8,568.8L-241.2,568.0L-240.5,567.2L-239.9,566.4L-239.3,565.6L-238.8,564.8L-238.2,564.0L-237.6,563.2L-237.0,562.3L-236.4,561.5L-235.8,560.7L-235.3,559.9L-234.7,559.1L-234.2,558.3L-233.6,557.5L-233.0,556.7L-232.5,555.9L-232.0,555.1L-231.4,554.3L-230.9,553.5L-230.4,552.7L-229.8,551.9L-229.3,551.1L-228.8,550.3L-228.3,549.5L-227.8,548.7L-227.3,547.9L-226.8,547.1L-226.3,546.3L-225.8,545.5L-225.4,544.6L-224.9,543.8L-224.4,543.0L-224.0,542.2L-223.5,541.4L-223.1,540.6L-222.6,539.8L-222.2,539.0L-221.8,538.2L-221.3,537.4L-220.9,536.6L-220.5,535.8L-220.1,535.0L-219.7,534.2L-219.3,533.4L-218.9,532.6L-218.5,531.8L-218.1,531.0L-217.7,530.2L-217.3,529.4L-217.0,528.6L-216.6,527.8L-216.3,526.9L-215.9,526.1L-215.6,525.3L-215.2,524.5L-214.9,523.7L-214.6,522.9L-214.3,522.1L-213.9,521.3L-213.6,520.5L-213.3,519.7L-213.0,518.9L-212.7,518.1L-212.5,517.3L-212.2,516.5L-211.9,515.7L-211.7,514.9L-211.4,514.1L-211.1,513.3L-210.9,512.5L-210.7,511.7L-210.4,510.9L-210.2,510.1L-210.0,509.3L-209.8,508.4L-209.5,507.6L-209.3,506.8L-209.2,506.0L-209.0,505.2L-208.8,504.4L-208.6,503.6L-208.4,502.8L-208.3,502.0L-208.1,501.2L-208.0,500.4L-207.8,499.6L-207.7,498.8L-207.5,498.0L-207.4,497.2L-207.3,496.4L-207.2,495.6L-207.1,494.8L-207.0,494.0L-206.9,493.2L-206.8,492.4L-206.7,491.6L-206.7,490.7L-206.6,489.9L-206.5,489.1L-206.5,488.3L-206.4,487.5L-206.4,486.7L-206.4,485.9L-206.3,485.1L-206.3,484.3L-206.3,483.5L-206.3,482.7L-206.3,481.9L-206.3,481.1L-206.3,480.3L-206.3,479.5L-206.4,478.7L-206.4,477.9L-206.4,477.1L-206.5,476.3L-206.5,475.5L-206.6,474.7L-206.7,473.9L-206.7,473.0L-206.8,472.2L-206.9,471.4L-207.0,470.6L-207.1,469.8L-207.2,469.0L-207.3,468.2L-207.4,467.4L-207.5,466.6L-207.7,465.8L-207.8,465.0L-208.0,464.2L-208.1,463.4L-208.3,462.6L-208.4,461.8L-208.6,461.0L-208.8,460.2L-209.0,459.4L-209.2,458.6L-209.3,457.8L-209.5,457.0L-209.8,456.2L-210.0,455.3L-210.2,454.5L-210.4,453.7L-210.7,452.9L-210.9,452.1L-211.1,451.3L-211.4,450.5L-211.7,449.7L-211.9,448.9L-212.2,448.1L-212.5,447.3L-212.7,446.5L-213.0,445.7L-213.3,444.9L-213.6,444.1L-213.9,443.3L-214.3,442.5L-214.6,441.7L-214.9,440.9L-215.2,440.1L-215.6,439.3L-215.9,438.5L-216.3,437.7L-216.6,436.8L-217.0,436.0L-217.3,435.2L-217.7,434.4L-218.1,433.6L-218.5,432.8L-218.9,432.0L-219.3,431.2L-219.7,430.4L-220.1,429.6L-220.5,428.8L-220.9,428.0L-221.3,427.2L-221.8,426.4L-222.2,425.6L-222.6,424.8L-223.1,424.0L-223.5,423.2L-224.0,422.4L-224.4,421.6L-224.9,420.8L-225.4,420.0L-225.8,419.1L-226.3,418.3L-226.8,417.5L-227.3,416.7L-227.8,415.9L-228.3,415.1L-228.8,414.3L-229.3,413.5L-229.8,412.7L-230.4,411.9L-230.9,411.1L-231.4,410.3L-232.0,409.5L-232.5,408.7L-233.0,407.9L-233.6,407.1L-234.2,406.3L-234.7,405.5L-235.3,404.7L-235.8,403.9L-236.4,403.1L-237.0,402.3L-237.6,401.4L-238.2,400.6L-238.8,399.8L-239.3,399.0L-239.9,398.2L-240.5,397.4L-241.2,396.6L-241.8,395.8L-242.4,395.0L-243.0,394.2L-243.6,393.4L-244.3,392.6L-244.9,391.8L-245.5,391.0L-246.2,390.2L-246.8,389.4L-247.4,388.6L-248.1,387.8L-248.8,387.0L-249.4,386.2L-250.1,385.4L-250.7,384.6L-251.4,383.7L-252.1,382.9L-252.7,382.1L-253.4,381.3L-254.1,380.5L-254.8,379.7L-255.5,378.9L-256.2,378.1L-256.9,377.3L-257.6,376.5L-258.3,375.7L-259.0,374.9L-259.7,374.1L-260.4,373.3L-261.1,372.5L-261.8,371.7L-262.5,370.9L-263.2,370.1L-264.0,369.3L-264.7,368.5L-265.4,367.7L-266.1,366.9L-266.9,366.0L-267.6,365.2L-268.3,364.4L-269.1,363.6L-269.8,362.8L-270.6,362.0L-271.3,361.2L-272.1,360.4L-272.8,359.6L-273.6,358.8L-274.3,358.0L-275.1,357.2L-275.8,356.4L-276.6,355.6L-277.4,354.8L-278.1,354.0L-278.9,353.2L-279.7,352.4L-280.4,351.6L-281.2,350.8L-282.0,350.0L-282.7,349.2L-283.5,348.4L-284.3,347.5L-285.1,346.7L-285.9,345.9L-286.6,345.1L-287.4,344.3L-288.2,343.5L-289.0,342.7L-289.8,341.9L-290.6,341.1L-291.3,340.3L-292.1,339.5L-292.9,338.7L-293.7,337.9L-294.5,337.1L-295.3,336.3L-296.1,335.5L-296.9,334.7L-297.7,333.9L-298.5,333.1L-299.3,332.3L-300.1,331.5L-300.9,330.7L-301.6,329.8L-302.4,329.0L-303.2,328.2L-304.0,327.4L-304.8,326.6L-305.6,325.8L-306.4,325.0L-307.2,324.2L-308.0,323.4L-308.8,322.6L-309.6,321.8L-310.4,321.0L-311.2,320.2L-312.0,319.4L-312.8,318.6L-313.6,317.8L-314.4,317.0L-315.2,316.2L-316.0,315.4L-316.8,314.6L-317.6,313.8L-318.4,313.0L-319.2,312.1L-320.0,311.3L-320.8,310.5L-321.6,309.7L-322.4,308.9L-323.2,308.1L-324.0,307.3L-324.8,306.5L-325.6,305.7L-326.4,304.9L-327.1,304.1L-327.9,303.3L-328.7,302.5L-329.5,301.7L-330.3,300.9L-331.1,300.1L-331.9,299.3L-332.7,298.5L-333.4,297.7L-334.2,296.9L-335.0,296.1L-335.8,295.3L-336.6,294.4L-337.3,293.6L-338.1,292.8L-338.9,292.0L-339.7,291.2L-340.4,290.4L-341.2,289.6L-342.0,288.8L-342.7,288.0L-343.5,287.2L-344.3,286.4L-345.0,285.6L-345.8,284.8L-346.6,284.0L-347.3,283.2L-348.1,282.4L-348.8,281.6L-349.6,280.8L-350.3,280.0L-351.1,279.2L-351.8,278.4L-352.6,277.6L-353.3,276.7L-354.1,275.9L-354.8,275.1L-355.6,274.3L-356.3,273.5L-357.0,272.7L-357.8,271.9L-358.5,271.1L-359.2,270.3L-359.9,269.5L-360.7,268.7L-361.4,267.9L-362.1,267.1L-362.8,266.3L-363.6,265.5L-364.3,264.7L-365.0,263.9L-365.7,263.1L-366.4,262.3L-367.1,261.5L-367.8,260.7L-368.5,259.9L-369.2,259.1L-369.9,258.2L-370.6,257.4L-371.3,256.6L-372.0,255.8L-372.7,255.0L-373.3,254.2L-374.0,253.4L-374.7,252.6L-375.4,251.8L-376.1,251.0L-376.7,250.2L-377.4,249.4L-378.1,248.6L-378.7,247.8L-379.4,247.0L-380.1,246.2L-380.7,245.4L-381.4,244.6L-382.0,243.8L-382.7,243.0L-383.3,242.2L-384.0,241.4L-384.6,240.5L-385.2,239.7L-385.9,238.9L-386.5,238.1L-387.1,237.3L-387.8,236.5L-388.4,235.7L-389.0,234.9L-389.6,234.1L-390.2,233.3L-390.9,232.5L-391.5,231.7L-392.1,230.9L-392.7,230.1L-393.3,229.3L-393.9,228.5L-394.5,227.7L-395.1,226.9L-395.7,226.1L-396.3,225.3L-396.8,224.5L-397.4,223.7L-398.0,222.8L-398.6,222.0L-399.2,221.2L-399.7,220.4L-400.3,219.6L-400.9,218.8L-401.4,218.0L-402.0,217.2L-402.5,216.4L-403.1,215.6L-403.6,214.8L-404.2,214.0L-404.7,213.2L-405.3,212.4L-405.8,211.6L-406.3,210.8L-406.9,210.0L-407.4,209.2L-407.9,208.4L-408.5,207.6L-409.0,206.8L-409.5,206.0L-410.0,205.1L-410.5,204.3L-411.0,203.5L-411.5,202.7L-412.1,201.9L-412.6,201.1L-413.1,200.3L-413.5,199.5L-414.0,198.7L-414.5,197.9L-415.0,197.1L-415.5,196.3L-416.0,195.5L-416.5,194.7L-416.9,193.9L-417.4,193.1L-417.9,192.3L-418.3,191.5L-418.8,190.7L-419.3,189.9L-419.7,189.1L-420.2,188.3L-420.6,187.4L-421.1,186.6L-421.5,185.8L-422.0,185.0L-422.4,184.2L-422.8,183.4L-423.3,182.6L-423.7,181.8L-424.1,181.0L-424.5,180.2L-425.0,179.4L-425.4,178.6L-425.8,177.8L-426.2,177.0L-426.6,176.2L-427.0,175.4L-427.4,174.6L-427.8,173.8L-428.2,173.0L-428.6,172.2L-429.0,171.4L-429.4,170.6L-429.8,169.8L-430.2,168.9L-430.6,168.1L-431.0,167.3L-431.3,166.5L-431.7,165.7L-432.1,164.9L-432.5,164.1L-432.8,163.3L-433.2,162.5L-433.5,161.7L-433.9,160.9L-434.3,160.1L-434.6,159.3L-435.0,158.5L-435.3,157.7L-435.7,156.9L-436.0,156.1L-436.3,155.3L-436.7,154.5L-437.0,153.7L-437.3,152.9L-437.7,152.1L-438.0,151.2L-438.3,150.4L-438.6,149.6L-439.0,148.8L-439.3,148.0L-439.6,147.2L-439.9,146.4L-440.2,145.6L-440.5,144.8L-440.8,144.0L-441.1,143.2L-441.4,142.4L-441.7,141.6L-442.0,140.8L-442.3,140.0L-442.6,139.2L-442.9,138.4L-443.2,137.6L-443.5,136.8L-443.7,136.0L-444.0,135.2L-444.3,134.4L-444.6,133.5L-444.8,132.7L-445.1,131.9L-445.4,131.1L-445.6,130.3L-445.9,129.5L-446.2,128.7L-446.4,127.9L-446.7,127.1L-446.9,126.3L-447.2,125.5L-447.4,124.7L-447.7,123.9L-447.9,123.1L-448.1,122.3L-448.4,121.5L-448.6,120.7L-448.9,119.9L-449.1,119.1L-449.3,118.3L-449.5,117.5L-449.8,116.7L-450.0,115.8L-450.2,115.0L-450.4,114.2L-450.7,113.4L-450.9,112.6L-451.1,111.8L-451.3,111.0L-451.5,110.2L-451.7,109.4L-451.9,108.6L-452.1,107.8L-452.3,107.0L-452.5,106.2L-452.7,105.4L-452.9,104.6L-453.1,103.8L-453.3,103.0L-453.5,102.2L-453.7,101.4L-453.9,100.6L-454.1,99.8L-454.3,99.0L-454.4,98.1L-454.6,97.3L-454.8,96.5L-455.0,95.7L-455.2,94.9L-455.3,94.1L-455.5,93.3L-455.7,92.5L-455.8,91.7L-456.0,90.9L-456.2,90.1L-456.3,89.3L-456.5,88.5L-456.7,87.7L-456.8,86.9L-457.0,86.1L-457.1,85.3L-457.3,84.5L-457.4,83.7L-457.6,82.9L-457.7,82.1L-457.9,81.3L-458.0,80.5L-458.2,79.6L-458.3,78.8L-458.4,78.0L-458.6,77.2L-458.7,76.4L-458.9,75.6L-459.0,74.8L-459.1,74.0L-459.3,73.2L-459.4,72.4L-459.5,71.6L-459.7,70.8L-459.8,70.0L-459.9,69.2L-460.0,68.4L-460.2,67.6L-460.3,66.8L-460.4,66.0L-460.5,65.2L-460.6,64.4L-460.7,63.6L-460.9,62.8L-461.0,61.9L-461.1,61.1L-461.2,60.3L-461.3,59.5L-461.4,58.7L-461.5,57.9L-461.6,57.1L-461.7,56.3L-461.8,55.5L-461.9,54.7L-462.0,53.9L-462.1,53.1L-462.2,52.3L-462.3,51.5L-462.4,50.7L-462.5,49.9L-462.6,49.1L-462.7,48.3L-462.8,47.5L-462.9,46.7L-463.0,45.9L-463.1,45.1L-463.2,44.2L-463.3,43.4L-463.3,42.6L-463.4,41.8L-463.5,41.0L-463.6,40.2L-463.7,39.4L-463.8,38.6L-463.8,37.8L-463.9,37.0L-464.0,36.2L-464.1,35.4L-464.1,34.6L-464.2,33.8L-464.3,33.0L-464.4,32.2L-464.4,31.4L-464.5,30.6L-464.6,29.8L-464.7,29.0L-464.7,28.2L-464.8,27.4L-464.9,26.5L-464.9,25.7L-465.0,24.9L-465.1,24.1L-465.1,23.3L-465.2,22.5L-465.3,21.7L-465.3,20.9L-465.4,20.1L-465.4,19.3L-465.5,18.5L-465.6,17.7L-465.6,16.9L-465.7,16.1L-465.7,15.3L-465.8,14.5L-465.8,13.7L-465.9,12.9L-465.9,12.1L-466.0,11.3L-466.1,10.5L-466.1,9.7L-466.2,8.8L-466.2,8.0L-466.3,7.2L-466.3,6.4L-466.4,5.6L-466.4,4.8L-466.4,4.0L-466.5,3.2L-466.5,2.4L-466.6,1.6L-466.6,0.8L-466.7,0.0" stroke="#ff0000" stroke-width="10.0" fill="none" stroke-linejoin="round" clip-path="url(#ccl)"/>
<g fill="#1e90ff" clip-path="url(#ccm)"><circle cx="862.1" cy="112.2" r="11"/><circle cx="673.0" cy="129.9" r="11"/><circle cx="659.9" cy="142.4" r="11"/><circle cx="742.2" cy="208.1" r="11"/><circle cx="752.4" cy="256.9" r="11"/><circle cx="679.8" cy="263.7" r="11"/><circle cx="593.4" cy="268.9" r="11"/><circle cx="594.8" cy="274.6" r="11"/><circle cx="870.1" cy="281.8" r="11"/><circle cx="760.3" cy="298.1" r="11"/><circle cx="562.3" cy="333.2" r="11"/><circle cx="531.1" cy="342.5" r="11"/><circle cx="555.1" cy="351.6" r="11"/><circle cx="469.6" cy="377.1" r="11"/><circle cx="569.0" cy="374.5" r="11"/><circle cx="471.9" cy="395.0" r="11"/><circle cx="430.9" cy="395.0" r="11"/><circle cx="531.7" cy="394.7" r="11"/><circle cx="603.9" cy="400.8" r="11"/><circle cx="317.6" cy="408.1" r="11"/><circle cx="660.1" cy="422.0" r="11"/><circle cx="378.0" cy="429.0" r="11"/><circle cx="580.3" cy="440.0" r="11"/><circle cx="505.8" cy="446.1" r="11"/><circle cx="465.0" cy="465.3" r="11"/><circle cx="550.7" cy="467.6" r="11"/><circle cx="628.2" cy="471.8" r="11"/><circle cx="548.7" cy="486.5" r="11"/><circle cx="256.1" cy="489.3" r="11"/><circle cx="319.3" cy="492.3" r="11"/><circle cx="440.3" cy="499.9" r="11"/><circle cx="526.2" cy="503.7" r="11"/><circle cx="474.6" cy="512.9" r="11"/><circle cx="488.9" cy="512.9" r="11"/><circle cx="506.2" cy="513.5" r="11"/><circle cx="503.2" cy="525.7" r="11"/><circle cx="519.5" cy="529.8" r="11"/><circle cx="705.2" cy="531.4" r="11"/><circle cx="360.0" cy="536.9" r="11"/><circle cx="585.8" cy="550.8" r="11"/><circle cx="306.6" cy="561.8" r="11"/><circle cx="399.4" cy="563.5" r="11"/><circle cx="259.9" cy="585.8" r="11"/><circle cx="382.0" cy="587.6" r="11"/><circle cx="506.8" cy="595.1" r="11"/><circle cx="380.3" cy="611.8" r="11"/><circle cx="180.5" cy="617.2" r="11"/><circle cx="375.9" cy="624.3" r="11"/><circle cx="306.4" cy="627.4" r="11"/><circle cx="297.2" cy="643.5" r="11"/><circle cx="361.6" cy="643.5" r="11"/><circle cx="391.9" cy="652.0" r="11"/><circle cx="264.8" cy="663.9" r="11"/><circle cx="432.9" cy="662.6" r="11"/><circle cx="506.8" cy="670.7" r="11"/><circle cx="278.4" cy="696.1" r="11"/><circle cx="264.8" cy="720.4" r="11"/><circle cx="270.9" cy="744.9" r="11"/><circle cx="388.4" cy="804.5" r="11"/><circle cx="157.8" cy="818.1" r="11"/></g>
<g fill="#1e90ff" clip-path="url(#ccl)"><circle cx="-469.6" cy="112.2" r="11"/><circle cx="-469.6" cy="129.9" r="11"/><circle cx="-469.6" cy="142.4" r="11"/><circle cx="-469.6" cy="208.1" r="11"/><circle cx="-469.6" cy="256.9" r="11"/><circle cx="-469.6" cy="263.7" r="11"/><circle cx="-469.6" cy="268.9" r="11"/><circle cx="-469.6" cy="274.6" r="11"/><circle cx="-469.6" cy="281.8" r="11"/><circle cx="-469.6" cy="298.1" r="11"/><circle cx="-469.6" cy="333.2" r="11"/><circle cx="-469.6" cy="342.5" r="11"/><circle cx="-469.6" cy="351.6" r="11"/><circle cx="-469.6" cy="377.1" r="11"/><circle cx="-469.6" cy="374.5" r="11"/><circle cx="-469.6" cy="395.0" r="11"/><circle cx="-469.6" cy="395.0" r="11"/><circle cx="-469.6" cy="394.7" r="11"/><circle cx="-469.6" cy="400.8" r="11"/><circle cx="-469.6" cy="408.1" r="11"/><circle cx="-469.6" cy="422.0" r="11"/><circle cx="-469.6" cy="429.0" r="11"/><circle cx="-469.6" cy="440.0" r="11"/><circle cx="-469.6" cy="446.1" r="11"/><circle cx="-469.6" cy="465.3" r="11"/><circle cx="-469.6" cy="467.6" r="11"/><circle cx="-469.6" cy="471.8" r="11"/><circle cx="-469.6" cy="486.5" r="11"/><circle cx="-469.6" cy="489.3" r="11"/><circle cx="-469.6" cy="492.3" r="11"/><circle cx="-469.6" cy="499.9" r="11"/><circle cx="-469.6" cy="503.7" r="11"/><circle cx="-469.6" cy="512.9" r="11"/><circle cx="-469.6" cy="512.9" r="11"/><circle cx="-469.6" cy="513.5" r="11"/><circle cx="-469.6" cy="525.7" r="11"/><circle cx="-469.6" cy="529.8" r="11"/><circle cx="-469.6" cy="531.4" r="11"/><circle cx="-469.6" cy="536.9" r="11"/><circle cx="-469.6" cy="550.8" r="11"/><circle cx="-469.6" cy="561.8" r="11"/><circle cx="-469.6" cy="563.5" r="11"/><circle cx="-469.6" cy="585.8" r="11"/><circle cx="-469.6" cy="587.6" r="11"/><circle cx="-469.6" cy="595.1" r="11"/><circle cx="-469.6" cy="611.8" r="11"/><circle cx="-469.6" cy="617.2" r="11"/><circle cx="-469.6" cy="624.3" r="11"/><circle cx="-469.6" cy="627.4" r="11"/><circle cx="-469.6" cy="643.5" r="11"/><circle cx="-469.6" cy="643.5" r="11"/><circle cx="-469.6" cy="652.0" r="11"/><circle cx="-469.6" cy="663.9" r="11"/><circle cx="-469.6" cy="662.6" r="11"/><circle cx="-469.6" cy="670.7" r="11"/><circle cx="-469.6" cy="696.1" r="11"/><circle cx="-469.6" cy="720.4" r="11"/><circle cx="-469.6" cy="744.9" r="11"/><circle cx="-469.6" cy="804.5" r="11"/><circle cx="-469.6" cy="818.1" r="11"/></g>
<g fill="#1e90ff" clip-path="url(#ccb)"><circle cx="862.1" cy="1433.7" r="11"/><circle cx="673.0" cy="1433.7" r="11"/><circle cx="659.9" cy="1433.7" r="11"/><circle cx="742.2" cy="1433.7" r="11"/><circle cx="752.4" cy="1433.7" r="11"/><circle cx="679.8" cy="1433.7" r="11"/><circle cx="593.4" cy="1433.7" r="11"/><circle cx="594.8" cy="1433.7" r="11"/><circle cx="870.1" cy="1433.7" r="11"/><circle cx="760.3" cy="1433.7" r="11"/><circle cx="562.3" cy="1433.7" r="11"/><circle cx="531.1" cy="1433.7" r="11"/><circle cx="555.1" cy="1433.7" r="11"/><circle cx="469.6" cy="1433.7" r="11"/><circle cx="569.0" cy="1433.7" r="11"/><circle cx="471.9" cy="1433.7" r="11"/><circle cx="430.9" cy="1433.7" r="11"/><circle cx="531.7" cy="1433.7" r="11"/><circle cx="603.9" cy="1433.7" r="11"/><circle cx="317.6" cy="1433.7" r="11"/><circle cx="660.1" cy="1433.7" r="11"/><circle cx="378.0" cy="1433.7" r="11"/><circle cx="580.3" cy="1433.7" r="11"/><circle cx="505.8" cy="1433.7" r="11"/><circle cx="465.0" cy="1433.7" r="11"/><circle cx="550.7" cy="1433.7" r="11"/><circle cx="628.2" cy="1433.7" r="11"/><circle cx="548.7" cy="1433.7" r="11"/><circle cx="256.1" cy="1433.7" r="11"/><circle cx="319.3" cy="1433.7" r="11"/><circle cx="440.3" cy="1433.7" r="11"/><circle cx="526.2" cy="1433.7" r="11"/><circle cx="474.6" cy="1433.7" r="11"/><circle cx="488.9" cy="1433.7" r="11"/><circle cx="506.2" cy="1433.7" r="11"/><circle cx="503.2" cy="1433.7" r="11"/><circle cx="519.5" cy="1433.7" r="11"/><circle cx="705.2" cy="1433.7" r="11"/><circle cx="360.0" cy="1433.7" r="11"/><circle cx="585.8" cy="1433.7" r="11"/><circle cx="306.6" cy="1433.7" r="11"/><circle cx="399.4" cy="1433.7" r="11"/><circle cx="259.9" cy="1433.7" r="11"/><circle cx="382.0" cy="1433.7" r="11"/><circle cx="506.8" cy="1433.7" r="11"/><circle cx="380.3" cy="1433.7" r="11"/><circle cx="180.5" cy="1433.7" r="11"/><circle cx="375.9" cy="1433.7" r="11"/><circle cx="306.4" cy="1433.7" r="11"/><circle cx="297.2" cy="1433.7" r="11"/><circle cx="361.6" cy="1433.7" r="11"/><circle cx="391.9" cy="1433.7" r="11"/><circle cx="264.8" cy="1433.7" r="11"/><circle cx="432.9" cy="1433.7" r="11"/><circle cx="506.8" cy="1433.7" r="11"/><circle cx="278.4" cy="1433.7" r="11"/><circle cx="264.8" cy="1433.7" r="11"/><circle cx="270.9" cy="1433.7" r="11"/><circle cx="388.4" cy="1433.7" r="11"/><circle cx="157.8" cy="1433.7" r="11"/></g>
<rect x="0.0" y="0.0" width="965.2" height="964.6" fill="none" stroke="#000" stroke-width="5.3"/>
<rect x="-481.8" y="0.0" width="289.0" height="964.6" fill="none" stroke="#000" stroke-width="5.3"/>
<rect x="0.0" y="1157.6" width="965.2" height="289.3" fill="none" stroke="#000" stroke-width="5.3"/>
<line x1="160.9" y1="964.6" x2="160.9" y2="989.1" stroke="#000" stroke-width="5.3"/>
<line x1="482.6" y1="964.6" x2="482.6" y2="989.1" stroke="#000" stroke-width="5.3"/>
<line x1="804.3" y1="964.6" x2="804.3" y2="989.1" stroke="#000" stroke-width="5.3"/>
<line x1="160.9" y1="1446.9" x2="160.9" y2="1471.4" stroke="#000" stroke-width="5.3"/>
<line x1="482.6" y1="1446.9" x2="482.6" y2="1471.4" stroke="#000" stroke-width="5.3"/>
<line x1="804.3" y1="1446.9" x2="804.3" y2="1471.4" stroke="#000" stroke-width="5.3"/>
<line x1="-469.6" y1="964.6" x2="-469.6" y2="989.1" stroke="#000" stroke-width="5.3"/>
<line x1="-304.6" y1="964.6" x2="-304.6" y2="989.1" stroke="#000" stroke-width="5.3"/>
<line x1="-24.5" y1="964.6" x2="0.0" y2="964.6" stroke="#000" stroke-width="5.3"/>
<line x1="-24.5" y1="803.8" x2="0.0" y2="803.8" stroke="#000" stroke-width="5.3"/>
<line x1="-24.5" y1="643.1" x2="0.0" y2="643.1" stroke="#000" stroke-width="5.3"/>
<line x1="-24.5" y1="482.3" x2="0.0" y2="482.3" stroke="#000" stroke-width="5.3"/>
<line x1="-24.5" y1="321.5" x2="0.0" y2="321.5" stroke="#000" stroke-width="5.3"/>
<line x1="-24.5" y1="160.8" x2="0.0" y2="160.8" stroke="#000" stroke-width="5.3"/>
<line x1="-24.5" y1="0.0" x2="0.0" y2="0.0" stroke="#000" stroke-width="5.3"/>
<line x1="-506.3" y1="964.6" x2="-481.8" y2="964.6" stroke="#000" stroke-width="5.3"/>
<line x1="-506.3" y1="803.8" x2="-481.8" y2="803.8" stroke="#000" stroke-width="5.3"/>
<line x1="-506.3" y1="643.1" x2="-481.8" y2="643.1" stroke="#000" stroke-width="5.3"/>
<line x1="-506.3" y1="482.3" x2="-481.8" y2="482.3" stroke="#000" stroke-width="5.3"/>
<line x1="-506.3" y1="321.5" x2="-481.8" y2="321.5" stroke="#000" stroke-width="5.3"/>
<line x1="-506.3" y1="160.8" x2="-481.8" y2="160.8" stroke="#000" stroke-width="5.3"/>
<line x1="-506.3" y1="0.0" x2="-481.8" y2="0.0" stroke="#000" stroke-width="5.3"/>
<line x1="-24.5" y1="1433.7" x2="0.0" y2="1433.7" stroke="#000" stroke-width="5.3"/>
<line x1="-24.5" y1="1268.9" x2="0.0" y2="1268.9" stroke="#000" stroke-width="5.3"/>
<rect x="119.4" y="1039.1" width="41.6" height="5.6" fill="#000"/>
<text x="167.6" y="1062.6" font-size="67.0" text-anchor="start" font-family="Liberation Sans, sans-serif" textLength="41.8" lengthAdjust="spacingAndGlyphs" >2</text>
<rect x="119.4" y="1521.4" width="41.6" height="5.6" fill="#000"/>
<text x="167.6" y="1544.9" font-size="67.0" text-anchor="start" font-family="Liberation Sans, sans-serif" textLength="41.8" lengthAdjust="spacingAndGlyphs" >2</text>
<text x="461.7" y="1062.6" font-size="67.0" text-anchor="start" font-family="Liberation Sans, sans-serif" textLength="41.8" lengthAdjust="spacingAndGlyphs" >0</text>
<text x="461.7" y="1544.9" font-size="67.0" text-anchor="start" font-family="Liberation Sans, sans-serif" textLength="41.8" lengthAdjust="spacingAndGlyphs" >0</text>
<text x="783.4" y="1062.6" font-size="67.0" text-anchor="start" font-family="Liberation Sans, sans-serif" textLength="41.8" lengthAdjust="spacingAndGlyphs" >2</text>
<text x="783.4" y="1544.9" font-size="67.0" text-anchor="start" font-family="Liberation Sans, sans-serif" textLength="41.8" lengthAdjust="spacingAndGlyphs" >2</text>
<text x="-542.8" y="1062.6" font-size="67.0" text-anchor="start" font-family="Liberation Sans, sans-serif" textLength="146.3" lengthAdjust="spacingAndGlyphs" >0.00</text>
<text x="-377.8" y="1062.6" font-size="67.0" text-anchor="start" font-family="Liberation Sans, sans-serif" textLength="146.3" lengthAdjust="spacingAndGlyphs" >0.25</text>
<rect x="-138.0" y="966.6" width="41.6" height="5.6" fill="#000"/>
<text x="-89.8" y="990.1" font-size="67.0" text-anchor="start" font-family="Liberation Sans, sans-serif" textLength="41.8" lengthAdjust="spacingAndGlyphs" >3</text>
<rect x="-619.8" y="966.6" width="41.6" height="5.6" fill="#000"/>
<text x="-571.6" y="990.1" font-size="67.0" text-anchor="start" font-family="Liberation Sans, sans-serif" textLength="41.8" lengthAdjust="spacingAndGlyphs" >3</text>
<rect x="-138.0" y="805.8" width="41.6" height="5.6" fill="#000"/>
<text x="-89.8" y="829.3" font-size="67.0" text-anchor="start" font-family="Liberation Sans, sans-serif" textLength="41.8" lengthAdjust="spacingAndGlyphs" >2</text>
<rect x="-619.8" y="805.8" width="41.6" height="5.6" fill="#000"/>
<text x="-571.6" y="829.3" font-size="67.0" text-anchor="start" font-family="Liberation Sans, sans-serif" textLength="41.8" lengthAdjust="spacingAndGlyphs" >2</text>
<rect x="-138.0" y="645.0" width="41.6" height="5.6" fill="#000"/>
<text x="-89.8" y="668.6" font-size="67.0" text-anchor="start" font-family="Liberation Sans, sans-serif" textLength="41.8" lengthAdjust="spacingAndGlyphs" >1</text>
<rect x="-619.8" y="645.0" width="41.6" height="5.6" fill="#000"/>
<text x="-571.6" y="668.6" font-size="67.0" text-anchor="start" font-family="Liberation Sans, sans-serif" textLength="41.8" lengthAdjust="spacingAndGlyphs" >1</text>
<text x="-89.8" y="507.8" font-size="67.0" text-anchor="start" font-family="Liberation Sans, sans-serif" textLength="41.8" lengthAdjust="spacingAndGlyphs" >0</text>
<text x="-571.6" y="507.8" font-size="67.0" text-anchor="start" font-family="Liberation Sans, sans-serif" textLength="41.8" lengthAdjust="spacingAndGlyphs" >0</text>
<text x="-89.8" y="347.0" font-size="67.0" text-anchor="start" font-family="Liberation Sans, sans-serif" textLength="41.8" lengthAdjust="spacingAndGlyphs" >1</text>
<text x="-571.6" y="347.0" font-size="67.0" text-anchor="start" font-family="Liberation Sans, sans-serif" textLength="41.8" lengthAdjust="spacingAndGlyphs" >1</text>
<text x="-89.8" y="186.3" font-size="67.0" text-anchor="start" font-family="Liberation Sans, sans-serif" textLength="41.8" lengthAdjust="spacingAndGlyphs" >2</text>
<text x="-571.6" y="186.3" font-size="67.0" text-anchor="start" font-family="Liberation Sans, sans-serif" textLength="41.8" lengthAdjust="spacingAndGlyphs" >2</text>
<text x="-89.8" y="25.5" font-size="67.0" text-anchor="start" font-family="Liberation Sans, sans-serif" textLength="41.8" lengthAdjust="spacingAndGlyphs" >3</text>
<text x="-571.6" y="25.5" font-size="67.0" text-anchor="start" font-family="Liberation Sans, sans-serif" textLength="41.8" lengthAdjust="spacingAndGlyphs" >3</text>
<text x="-194.3" y="1459.2" font-size="67.0" text-anchor="start" font-family="Liberation Sans, sans-serif" textLength="146.3" lengthAdjust="spacingAndGlyphs" >0.00</text>
<text x="-194.3" y="1294.4" font-size="67.0" text-anchor="start" font-family="Liberation Sans, sans-serif" textLength="146.3" lengthAdjust="spacingAndGlyphs" >0.25</text>
<text x="482.6" y="-40.0" font-size="82.5" text-anchor="middle" font-family="Liberation Sans, sans-serif" textLength="643.0" lengthAdjust="spacingAndGlyphs" >2D Probit Space</text>
<text x="482.6" y="1635.8" font-size="67.0" text-anchor="middle" font-family="Liberation Sans, sans-serif" textLength="548.0" lengthAdjust="spacingAndGlyphs" >Probit variable 1</text>
<text x="-337.3" y="1154.1" font-size="67.0" text-anchor="middle" font-family="Liberation Sans, sans-serif" textLength="127.0" lengthAdjust="spacingAndGlyphs" >PDF</text>
<text x="-669.3" y="482.3" font-size="67.0" text-anchor="middle" font-family="Liberation Sans, sans-serif" textLength="546.0" lengthAdjust="spacingAndGlyphs" transform="rotate(-90 -669.3 482.3)" >Probit variable 2</text>
<text x="-235.6" y="1302.2" font-size="67.0" text-anchor="middle" font-family="Liberation Sans, sans-serif" textLength="127.0" lengthAdjust="spacingAndGlyphs" transform="rotate(-90 -235.6 1302.2)" >PDF</text>
</g>
<g transform="translate(2735.3,2570.2)">
<clipPath id="cdm"><rect x="0" y="0" width="965.2" height="964.6"/></clipPath>
<clipPath id="cdl"><rect x="-481.8" y="0" width="289.0" height="964.6"/></clipPath>
<clipPath id="cdb"><rect x="0" y="1157.6" width="965.2" height="289.3000000000002"/></clipPath>
<path d="M65.0,805.8l30.4,30.4m-30.4,0l30.4,-30.4M268.6,693.4l30.4,30.4m-30.4,0l30.4,-30.4M286.1,773.4l30.4,30.4m-30.4,0l30.4,-30.4M290.3,795.5l30.4,30.4m-30.4,0l30.4,-30.4M372.3,731.7l30.4,30.4m-30.4,0l30.4,-30.4M392.0,716.4l30.4,30.4m-30.4,0l30.4,-30.4M413.6,698.2l30.4,30.4m-30.4,0l30.4,-30.4M417.9,808.7l30.4,30.4m-30.4,0l30.4,-30.4M468.9,808.2l30.4,30.4m-30.4,0l30.4,-30.4M451.0,726.6l30.4,30.4m-30.4,0l30.4,-30.4M450.2,745.3l30.4,30.4m-30.4,0l30.4,-30.4M456.1,773.4l30.4,30.4m-30.4,0l30.4,-30.4M452.4,815.9l30.4,30.4m-30.4,0l30.4,-30.4M497.8,752.1l30.4,30.4m-30.4,0l30.4,-30.4M503.8,749.8l30.4,30.4m-30.4,0l30.4,-30.4M529.7,743.4l30.4,30.4m-30.4,0l30.4,-30.4M529.7,779.1l30.4,30.4m-30.4,0l30.4,-30.4M553.5,728.0l30.4,30.4m-30.4,0l30.4,-30.4M550.6,609.1l30.4,30.4m-30.4,0l30.4,-30.4M561.3,695.2l30.4,30.4m-30.4,0l30.4,-30.4M567.8,698.6l30.4,30.4m-30.4,0l30.4,-30.4M606.7,649.1l30.4,30.4m-30.4,0l30.4,-30.4M619.1,638.6l30.4,30.4m-30.4,0l30.4,-30.4M634.8,638.7l30.4,30.4m-30.4,0l30.4,-30.4M645.1,621.9l30.4,30.4m-30.4,0l30.4,-30.4M647.8,620.9l30.4,30.4m-30.4,0l30.4,-30.4M625.3,486.2l30.4,30.4m-30.4,0l30.4,-30.4M647.2,506.5l30.4,30.4m-30.4,0l30.4,-30.4M658.0,552.9l30.4,30.4m-30.4,0l30.4,-30.4M676.2,561.1l30.4,30.4m-30.4,0l30.4,-30.4M690.3,589.4l30.4,30.4m-30.4,0l30.4,-30.4M631.2,682.1l30.4,30.4m-30.4,0l30.4,-30.4M652.3,683.8l30.4,30.4m-30.4,0l30.4,-30.4M672.4,705.6l30.4,30.4m-30.4,0l30.4,-30.4M684.1,684.7l30.4,30.4m-30.4,0l30.4,-30.4M693.6,735.9l30.4,30.4m-30.4,0l30.4,-30.4M726.4,569.6l30.4,30.4m-30.4,0l30.4,-30.4M729.3,565.6l30.4,30.4m-30.4,0l30.4,-30.4M747.1,569.3l30.4,30.4m-30.4,0l30.4,-30.4M769.0,540.2l30.4,30.4m-30.4,0l30.4,-30.4M740.6,640.3l30.4,30.4m-30.4,0l30.4,-30.4M765.2,651.1l30.4,30.4m-30.4,0l30.4,-30.4M751.1,218.0l30.4,30.4m-30.4,0l30.4,-30.4M773.1,340.1l30.4,30.4m-30.4,0l30.4,-30.4M792.9,157.8l30.4,30.4m-30.4,0l30.4,-30.4M796.0,227.6l30.4,30.4m-30.4,0l30.4,-30.4M792.9,492.7l30.4,30.4m-30.4,0l30.4,-30.4M810.8,357.3l30.4,30.4m-30.4,0l30.4,-30.4M819.5,525.7l30.4,30.4m-30.4,0l30.4,-30.4M839.4,523.0l30.4,30.4m-30.4,0l30.4,-30.4" stroke="#ff0000" stroke-width="10" fill="none" clip-path="url(#cdm)"/>
<path d="M-484.9,805.8l30.4,30.4m-30.4,0l30.4,-30.4M-484.9,693.4l30.4,30.4m-30.4,0l30.4,-30.4M-484.9,773.4l30.4,30.4m-30.4,0l30.4,-30.4M-484.9,795.5l30.4,30.4m-30.4,0l30.4,-30.4M-484.9,731.7l30.4,30.4m-30.4,0l30.4,-30.4M-484.9,716.4l30.4,30.4m-30.4,0l30.4,-30.4M-484.9,698.2l30.4,30.4m-30.4,0l30.4,-30.4M-484.9,808.7l30.4,30.4m-30.4,0l30.4,-30.4M-484.9,808.2l30.4,30.4m-30.4,0l30.4,-30.4M-484.9,726.6l30.4,30.4m-30.4,0l30.4,-30.4M-484.9,745.3l30.4,30.4m-30.4,0l30.4,-30.4M-484.9,773.4l30.4,30.4m-30.4,0l30.4,-30.4M-484.9,815.9l30.4,30.4m-30.4,0l30.4,-30.4M-484.9,752.1l30.4,30.4m-30.4,0l30.4,-30.4M-484.9,749.8l30.4,30.4m-30.4,0l30.4,-30.4M-484.9,743.4l30.4,30.4m-30.4,0l30.4,-30.4M-484.9,779.1l30.4,30.4m-30.4,0l30.4,-30.4M-484.9,728.0l30.4,30.4m-30.4,0l30.4,-30.4M-484.9,609.1l30.4,30.4m-30.4,0l30.4,-30.4M-484.9,695.2l30.4,30.4m-30.4,0l30.4,-30.4M-484.9,698.6l30.4,30.4m-30.4,0l30.4,-30.4M-484.9,649.1l30.4,30.4m-30.4,0l30.4,-30.4M-484.9,638.6l30.4,30.4m-30.4,0l30.4,-30.4M-484.9,638.7l30.4,30.4m-30.4,0l30.4,-30.4M-484.9,621.9l30.4,30.4m-30.4,0l30.4,-30.4M-484.9,620.9l30.4,30.4m-30.4,0l30.4,-30.4M-484.9,486.2l30.4,30.4m-30.4,0l30.4,-30.4M-484.9,506.5l30.4,30.4m-30.4,0l30.4,-30.4M-484.9,552.9l30.4,30.4m-30.4,0l30.4,-30.4M-484.9,561.1l30.4,30.4m-30.4,0l30.4,-30.4M-484.9,589.4l30.4,30.4m-30.4,0l30.4,-30.4M-484.9,682.1l30.4,30.4m-30.4,0l30.4,-30.4M-484.9,683.8l30.4,30.4m-30.4,0l30.4,-30.4M-484.9,705.6l30.4,30.4m-30.4,0l30.4,-30.4M-484.9,684.7l30.4,30.4m-30.4,0l30.4,-30.4M-484.9,735.9l30.4,30.4m-30.4,0l30.4,-30.4M-484.9,569.6l30.4,30.4m-30.4,0l30.4,-30.4M-484.9,565.6l30.4,30.4m-30.4,0l30.4,-30.4M-484.9,569.3l30.4,30.4m-30.4,0l30.4,-30.4M-484.9,540.2l30.4,30.4m-30.4,0l30.4,-30.4M-484.9,640.3l30.4,30.4m-30.4,0l30.4,-30.4M-484.9,651.1l30.4,30.4m-30.4,0l30.4,-30.4M-484.9,218.0l30.4,30.4m-30.4,0l30.4,-30.4M-484.9,340.1l30.4,30.4m-30.4,0l30.4,-30.4M-484.9,157.8l30.4,30.4m-30.4,0l30.4,-30.4M-484.9,227.6l30.4,30.4m-30.4,0l30.4,-30.4M-484.9,492.7l30.4,30.4m-30.4,0l30.4,-30.4M-484.9,357.3l30.4,30.4m-30.4,0l30.4,-30.4M-484.9,525.7l30.4,30.4m-30.4,0l30.4,-30.4M-484.9,523.0l30.4,30.4m-30.4,0l30.4,-30.4" stroke="#ff0000" stroke-width="10" fill="none" clip-path="url(#cdl)"/>
<path d="M65.0,1418.6l30.4,30.4m-30.4,0l30.4,-30.4M268.6,1418.6l30.4,30.4m-30.4,0l30.4,-30.4M286.1,1418.6l30.4,30.4m-30.4,0l30.4,-30.4M290.3,1418.6l30.4,30.4m-30.4,0l30.4,-30.4M372.3,1418.6l30.4,30.4m-30.4,0l30.4,-30.4M392.0,1418.6l30.4,30.4m-30.4,0l30.4,-30.4M413.6,1418.6l30.4,30.4m-30.4,0l30.4,-30.4M417.9,1418.6l30.4,30.4m-30.4,0l30.4,-30.4M468.9,1418.6l30.4,30.4m-30.4,0l30.4,-30.4M451.0,1418.6l30.4,30.4m-30.4,0l30.4,-30.4M450.2,1418.6l30.4,30.4m-30.4,0l30.4,-30.4M456.1,1418.6l30.4,30.4m-30.4,0l30.4,-30.4M452.4,1418.6l30.4,30.4m-30.4,0l30.4,-30.4M497.8,1418.6l30.4,30.4m-30.4,0l30.4,-30.4M503.8,1418.6l30.4,30.4m-30.4,0l30.4,-30.4M529.7,1418.6l30.4,30.4m-30.4,0l30.4,-30.4M529.7,1418.6l30.4,30.4m-30.4,0l30.4,-30.4M553.5,1418.6l30.4,30.4m-30.4,0l30.4,-30.4M550.6,1418.6l30.4,30.4m-30.4,0l30.4,-30.4M561.3,1418.6l30.4,30.4m-30.4,0l30.4,-30.4M567.8,1418.6l30.4,30.4m-30.4,0l30.4,-30.4M606.7,1418.6l30.4,30.4m-30.4,0l30.4,-30.4M619.1,1418.6l30.4,30.4m-30.4,0l30.4,-30.4M634.8,1418.6l30.4,30.4m-30.4,0l30.4,-30.4M645.1,1418.6l30.4,30.4m-30.4,0l30.4,-30.4M647.8,1418.6l30.4,30.4m-30.4,0l30.4,-30.4M625.3,1418.6l30.4,30.4m-30.4,0l30.4,-30.4M647.2,1418.6l30.4,30.4m-30.4,0l30.4,-30.4M658.0,1418.6l30.4,30.4m-30.4,0l30.4,-30.4M676.2,1418.6l30.4,30.4m-30.4,0l30.4,-30.4M690.3,1418.6l30.4,30.4m-30.4,0l30.4,-30.4M631.2,1418.6l30.4,30.4m-30.4,0l30.4,-30.4M652.3,1418.6l30.4,30.4m-30.4,0l30.4,-30.4M672.4,1418.6l30.4,30.4m-30.4,0l30.4,-30.4M684.1,1418.6l30.4,30.4m-30.4,0l30.4,-30.4M693.6,1418.6l30.4,30.4m-30.4,0l30.4,-30.4M726.4,1418.6l30.4,30.4m-30.4,0l30.4,-30.4M729.3,1418.6l30.4,30.4m-30.4,0l30.4,-30.4M747.1,1418.6l30.4,30.4m-30.4,0l30.4,-30.4M769.0,1418.6l30.4,30.4m-30.4,0l30.4,-30.4M740.6,1418.6l30.4,30.4m-30.4,0l30.4,-30.4M765.2,1418.6l30.4,30.4m-30.4,0l30.4,-30.4M751.1,1418.6l30.4,30.4m-30.4,0l30.4,-30.4M773.1,1418.6l30.4,30.4m-30.4,0l30.4,-30.4M792.9,1418.6l30.4,30.4m-30.4,0l30.4,-30.4M796.0,1418.6l30.4,30.4m-30.4,0l30.4,-30.4M792.9,1418.6l30.4,30.4m-30.4,0l30.4,-30.4M810.8,1418.6l30.4,30.4m-30.4,0l30.4,-30.4M819.5,1418.6l30.4,30.4m-30.4,0l30.4,-30.4M839.4,1418.6l30.4,30.4m-30.4,0l30.4,-30.4" stroke="#ff0000" stroke-width="10" fill="none" clip-path="url(#cdb)"/>
<path d="M0.0,1430.3L2.4,1430.2L4.8,1430.1L7.3,1430.0L9.7,1429.9L12.1,1429.8L14.5,1429.7L16.9,1429.6L19.4,1429.5L21.8,1429.4L24.2,1429.3L26.6,1429.2L29.0,1429.1L31.4,1429.0L33.9,1428.9L36.3,1428.8L38.7,1428.6L41.1,1428.5L43.5,1428.4L46.0,1428.3L48.4,1428.1L50.8,1428.0L53.2,1427.8L55.6,1427.7L58.1,1427.6L60.5,1427.4L62.9,1427.3L65.3,1427.1L67.7,1427.0L70.2,1426.8L72.6,1426.6L75.0,1426.5L77.4,1426.3L79.8,1426.1L82.2,1426.0L84.7,1425.8L87.1,1425.6L89.5,1425.4L91.9,1425.2L94.3,1425.0L96.8,1424.8L99.2,1424.6L101.6,1424.4L104.0,1424.2L106.4,1424.0L108.9,1423.8L111.3,1423.6L113.7,1423.4L116.1,1423.1L118.5,1422.9L121.0,1422.7L123.4,1422.4L125.8,1422.2L128.2,1421.9L130.6,1421.7L133.0,1421.4L135.5,1421.2L137.9,1420.9L140.3,1420.6L142.7,1420.4L145.1,1420.1L147.6,1419.8L150.0,1419.5L152.4,1419.2L154.8,1418.9L157.2,1418.6L159.7,1418.3L162.1,1418.0L164.5,1417.6L166.9,1417.3L169.3,1417.0L171.8,1416.7L174.2,1416.3L176.6,1416.0L179.0,1415.6L181.4,1415.2L183.8,1414.9L186.3,1414.5L188.7,1414.1L191.1,1413.7L193.5,1413.4L195.9,1413.0L198.4,1412.6L200.8,1412.2L203.2,1411.7L205.6,1411.3L208.0,1410.9L210.5,1410.5L212.9,1410.0L215.3,1409.6L217.7,1409.1L220.1,1408.7L222.6,1408.2L225.0,1407.7L227.4,1407.2L229.8,1406.8L232.2,1406.3L234.6,1405.8L237.1,1405.2L239.5,1404.7L241.9,1404.2L244.3,1403.7L246.7,1403.1L249.2,1402.6L251.6,1402.1L254.0,1401.5L256.4,1400.9L258.8,1400.4L261.3,1399.8L263.7,1399.2L266.1,1398.6L268.5,1398.0L270.9,1397.4L273.4,1396.7L275.8,1396.1L278.2,1395.5L280.6,1394.8L283.0,1394.2L285.4,1393.5L287.9,1392.9L290.3,1392.2L292.7,1391.5L295.1,1390.8L297.5,1390.1L300.0,1389.4L302.4,1388.7L304.8,1388.0L307.2,1387.2L309.6,1386.5L312.1,1385.7L314.5,1385.0L316.9,1384.2L319.3,1383.4L321.7,1382.7L324.2,1381.9L326.6,1381.1L329.0,1380.3L331.4,1379.4L333.8,1378.6L336.2,1377.8L338.7,1376.9L341.1,1376.1L343.5,1375.2L345.9,1374.4L348.3,1373.5L350.8,1372.6L353.2,1371.7L355.6,1370.8L358.0,1369.9L360.4,1369.0L362.9,1368.0L365.3,1367.1L367.7,1366.2L370.1,1365.2L372.5,1364.2L375.0,1363.3L377.4,1362.3L379.8,1361.3L382.2,1360.3L384.6,1359.3L387.0,1358.3L389.5,1357.3L391.9,1356.2L394.3,1355.2L396.7,1354.1L399.1,1353.1L401.6,1352.0L404.0,1351.0L406.4,1349.9L408.8,1348.8L411.2,1347.7L413.7,1346.6L416.1,1345.5L418.5,1344.4L420.9,1343.3L423.3,1342.1L425.8,1341.0L428.2,1339.8L430.6,1338.7L433.0,1337.5L435.4,1336.3L437.8,1335.2L440.3,1334.0L442.7,1332.8L445.1,1331.6L447.5,1330.4L449.9,1329.2L452.4,1328.0L454.8,1326.7L457.2,1325.5L459.6,1324.3L462.0,1323.0L464.5,1321.8L466.9,1320.5L469.3,1319.3L471.7,1318.0L474.1,1316.7L476.5,1315.5L479.0,1314.2L481.4,1312.9L483.8,1311.6L486.2,1310.3L488.6,1309.0L491.1,1307.7L493.5,1306.4L495.9,1305.1L498.3,1303.7L500.7,1302.4L503.2,1301.1L505.6,1299.7L508.0,1298.4L510.4,1297.1L512.8,1295.7L515.3,1294.4L517.7,1293.0L520.1,1291.7L522.5,1290.3L524.9,1289.0L527.3,1287.6L529.8,1286.2L532.2,1284.9L534.6,1283.5L537.0,1282.1L539.4,1280.8L541.9,1279.4L544.3,1278.0L546.7,1276.7L549.1,1275.3L551.5,1273.9L554.0,1272.5L556.4,1271.2L558.8,1269.8L561.2,1268.4L563.6,1267.0L566.1,1265.7L568.5,1264.3L570.9,1262.9L573.3,1261.6L575.7,1260.2L578.1,1258.8L580.6,1257.5L583.0,1256.1L585.4,1254.7L587.8,1253.4L590.2,1252.0L592.7,1250.7L595.1,1249.3L597.5,1248.0L599.9,1246.6L602.3,1245.3L604.8,1244.0L607.2,1242.6L609.6,1241.3L612.0,1240.0L614.4,1238.7L616.9,1237.4L619.3,1236.1L621.7,1234.8L624.1,1233.5L626.5,1232.2L628.9,1230.9L631.4,1229.6L633.8,1228.4L636.2,1227.1L638.6,1225.8L641.0,1224.6L643.5,1223.3L645.9,1222.1L648.3,1220.9L650.7,1219.7L653.1,1218.5L655.6,1217.3L658.0,1216.1L660.4,1214.9L662.8,1213.7L665.2,1212.6L667.7,1211.4L670.1,1210.3L672.5,1209.2L674.9,1208.0L677.3,1206.9L679.7,1205.8L682.2,1204.7L684.6,1203.7L687.0,1202.6L689.4,1201.5L691.8,1200.5L694.3,1199.5L696.7,1198.5L699.1,1197.4L701.5,1196.5L703.9,1195.5L706.4,1194.5L708.8,1193.6L711.2,1192.6L713.6,1191.7L716.0,1190.8L718.5,1189.9L720.9,1189.0L723.3,1188.1L725.7,1187.3L728.1,1186.4L730.5,1185.6L733.0,1184.8L735.4,1184.0L737.8,1183.2L740.2,1182.5L742.6,1181.7L745.1,1181.0L747.5,1180.3L749.9,1179.6L752.3,1178.9L754.7,1178.2L757.2,1177.6L759.6,1177.0L762.0,1176.3L764.4,1175.8L766.8,1175.2L769.3,1174.6L771.7,1174.1L774.1,1173.6L776.5,1173.1L778.9,1172.7L781.3,1172.4L783.8,1172.1L786.2,1171.9L788.6,1171.7L791.0,1171.8L793.4,1172.0L795.9,1172.4L798.3,1173.2L800.7,1174.2L803.1,1175.7L805.5,1177.6L808.0,1180.2L810.4,1183.4L812.8,1187.3L815.2,1192.0L817.6,1197.7L820.1,1204.2L822.5,1211.8L824.9,1220.3L827.3,1229.7L829.7,1240.1L832.1,1251.2L834.6,1263.0L837.0,1275.4L839.4,1288.1L841.8,1301.1L844.2,1314.0L846.7,1326.7L849.1,1339.0L851.5,1350.8L853.9,1361.9L856.3,1372.2L858.8,1381.6L861.2,1390.1L863.6,1397.7L866.0,1404.3L868.4,1409.9L870.9,1414.8L873.3,1418.8L875.7,1422.1L878.1,1424.8L880.5,1427.0L882.9,1428.7L885.4,1430.0L887.8,1431.1L890.2,1431.8L892.6,1432.4L895.0,1432.8L897.5,1433.1L899.9,1433.3L902.3,1433.5L904.7,1433.6L907.1,1433.7L909.6,1433.7L912.0,1433.7L914.4,1433.8L916.8,1433.8L919.2,1433.8L921.7,1433.8L924.1,1433.8L926.5,1433.8L928.9,1433.8L931.3,1433.8L933.7,1433.8L936.2,1433.8L938.6,1433.8L941.0,1433.8L943.4,1433.8L945.8,1433.8L948.3,1433.8L950.7,1433.8L953.1,1433.8L955.5,1433.8L957.9,1433.8L960.4,1433.8L962.8,1433.8L965.2,1433.8" stroke="#ff0000" stroke-width="10.0" fill="none" stroke-linejoin="round" clip-path="url(#cdb)"/>
<path d="M-469.7,964.6L-469.7,963.8L-469.7,963.0L-469.7,962.2L-469.7,961.4L-469.7,960.6L-469.7,959.8L-469.7,959.0L-469.7,958.2L-469.7,957.4L-469.7,956.6L-469.7,955.8L-469.7,955.0L-469.7,954.2L-469.7,953.4L-469.7,952.6L-469.7,951.7L-469.7,950.9L-469.7,950.1L-469.7,949.3L-469.7,948.5L-469.7,947.7L-469.7,946.9L-469.7,946.1L-469.7,945.3L-469.7,944.5L-469.7,943.7L-469.7,942.9L-469.7,942.1L-469.7,941.3L-469.7,940.5L-469.7,939.7L-469.7,938.9L-469.7,938.1L-469.7,937.3L-469.7,936.5L-469.7,935.7L-469.7,934.9L-469.7,934.0L-469.7,933.2L-469.7,932.4L-469.7,931.6L-469.7,930.8L-469.7,930.0L-469.7,929.2L-469.7,928.4L-469.7,927.6L-469.7,926.8L-469.7,926.0L-469.7,925.2L-469.7,924.4L-469.7,923.6L-469.7,922.8L-469.7,922.0L-469.7,921.2L-469.7,920.4L-469.7,919.6L-469.7,918.8L-469.7,918.0L-469.7,917.2L-469.7,916.3L-469.7,915.5L-469.7,914.7L-469.7,913.9L-469.7,913.1L-469.7,912.3L-469.7,911.5L-469.7,910.7L-469.7,909.9L-469.7,909.1L-469.7,908.3L-469.7,907.5L-469.7,906.7L-469.7,905.9L-469.7,905.1L-469.7,904.3L-469.7,903.5L-469.7,902.7L-469.7,901.9L-469.7,901.1L-469.7,900.3L-469.7,899.5L-469.7,898.6L-469.7,897.8L-469.7,897.0L-469.7,896.2L-469.7,895.4L-469.7,894.6L-469.7,893.8L-469.7,893.0L-469.7,892.2L-469.7,891.4L-469.7,890.6L-469.7,889.8L-469.7,889.0L-469.7,888.2L-469.7,887.4L-469.7,886.6L-469.7,885.8L-469.7,885.0L-469.7,884.2L-469.7,883.4L-469.7,882.6L-469.7,881.8L-469.7,880.9L-469.7,880.1L-469.7,879.3L-469.7,878.5L-469.7,877.7L-469.7,876.9L-469.7,876.1L-469.7,875.3L-469.7,874.5L-469.7,873.7L-469.7,872.9L-469.7,872.1L-469.7,871.3L-469.7,870.5L-469.7,869.7L-469.7,868.9L-469.7,868.1L-469.7,867.3L-469.7,866.5L-469.7,865.7L-469.7,864.9L-469.7,864.1L-469.7,863.3L-469.7,862.4L-469.7,861.6L-469.7,860.8L-469.7,860.0L-469.7,859.2L-469.7,858.4L-469.7,857.6L-469.7,856.8L-469.7,856.0L-469.7,855.2L-469.7,854.4L-469.7,853.6L-469.7,852.8L-469.7,852.0L-469.7,851.2L-469.7,850.4L-469.7,849.6L-469.7,848.8L-469.7,848.0L-469.7,847.2L-469.7,846.4L-469.7,845.6L-469.7,844.7L-469.7,843.9L-469.7,843.1L-469.7,842.3L-469.7,841.5L-469.7,840.7L-465.5,839.9L-456.5,839.1L-446.1,838.3L-433.8,837.5L-420.5,836.7L-406.9,835.9L-393.9,835.1L-381.0,834.3L-368.2,833.5L-355.9,832.7L-344.6,831.9L-333.8,831.1L-323.4,830.3L-313.7,829.5L-304.9,828.7L-297.5,827.9L-290.6,827.0L-284.1,826.2L-278.0,825.4L-272.3,824.6L-266.9,823.8L-262.0,823.0L-257.6,822.2L-253.8,821.4L-250.4,820.6L-247.3,819.8L-244.5,819.0L-241.8,818.2L-239.3,817.4L-237.0,816.6L-234.8,815.8L-232.8,815.0L-231.0,814.2L-229.3,813.4L-227.6,812.6L-226.1,811.8L-224.6,811.0L-223.1,810.2L-221.7,809.3L-220.3,808.5L-219.0,807.7L-217.7,806.9L-216.5,806.1L-215.4,805.3L-214.3,804.5L-213.4,803.7L-212.5,802.9L-211.8,802.1L-211.2,801.3L-210.7,800.5L-210.2,799.7L-209.8,798.9L-209.4,798.1L-209.0,797.3L-208.6,796.5L-208.2,795.7L-207.9,794.9L-207.6,794.1L-207.3,793.3L-207.0,792.5L-206.7,791.6L-206.5,790.8L-206.3,790.0L-206.2,789.2L-206.0,788.4L-206.0,787.6L-205.9,786.8L-205.9,786.0L-205.9,785.2L-206.0,784.4L-206.1,783.6L-206.3,782.8L-206.4,782.0L-206.7,781.2L-206.9,780.4L-207.2,779.6L-207.4,778.8L-207.8,778.0L-208.1,777.2L-208.4,776.4L-208.8,775.6L-209.2,774.8L-209.6,773.9L-210.0,773.1L-210.4,772.3L-210.8,771.5L-211.2,770.7L-211.7,769.9L-212.1,769.1L-212.5,768.3L-212.9,767.5L-213.3,766.7L-213.8,765.9L-214.2,765.1L-214.7,764.3L-215.2,763.5L-215.8,762.7L-216.3,761.9L-216.9,761.1L-217.5,760.3L-218.1,759.5L-218.7,758.7L-219.3,757.9L-220.0,757.1L-220.6,756.2L-221.3,755.4L-222.0,754.6L-222.6,753.8L-223.3,753.0L-224.0,752.2L-224.6,751.4L-225.3,750.6L-226.0,749.8L-226.6,749.0L-227.3,748.2L-227.9,747.4L-228.6,746.6L-229.2,745.8L-229.9,745.0L-230.5,744.2L-231.2,743.4L-231.8,742.6L-232.5,741.8L-233.2,741.0L-233.9,740.2L-234.5,739.4L-235.1,738.5L-235.7,737.7L-236.3,736.9L-236.9,736.1L-237.6,735.3L-238.2,734.5L-238.9,733.7L-239.5,732.9L-240.2,732.1L-240.8,731.3L-241.5,730.5L-242.2,729.7L-242.9,728.9L-243.6,728.1L-244.3,727.3L-245.0,726.5L-245.7,725.7L-246.4,724.9L-247.1,724.1L-247.8,723.3L-248.5,722.5L-249.3,721.7L-250.0,720.9L-250.7,720.0L-251.5,719.2L-252.2,718.4L-252.9,717.6L-253.7,716.8L-254.4,716.0L-255.2,715.2L-255.9,714.4L-256.7,713.6L-257.4,712.8L-258.2,712.0L-259.0,711.2L-259.7,710.4L-260.5,709.6L-261.3,708.8L-262.0,708.0L-262.8,707.2L-263.6,706.4L-264.4,705.6L-265.1,704.8L-265.9,704.0L-266.7,703.2L-267.5,702.3L-268.3,701.5L-269.1,700.7L-269.9,699.9L-270.7,699.1L-271.4,698.3L-272.2,697.5L-273.0,696.7L-273.8,695.9L-274.6,695.1L-275.4,694.3L-276.2,693.5L-277.0,692.7L-277.8,691.9L-278.6,691.1L-279.4,690.3L-280.1,689.5L-280.9,688.7L-281.7,687.9L-282.5,687.1L-283.3,686.3L-284.1,685.5L-284.9,684.6L-285.6,683.8L-286.4,683.0L-287.2,682.2L-288.0,681.4L-288.8,680.6L-289.6,679.8L-290.3,679.0L-291.1,678.2L-291.9,677.4L-292.7,676.6L-293.4,675.8L-294.2,675.0L-294.9,674.2L-295.6,673.4L-296.3,672.6L-297.0,671.8L-297.8,671.0L-298.5,670.2L-299.2,669.4L-299.9,668.6L-300.6,667.8L-301.3,666.9L-302.0,666.1L-302.6,665.3L-303.3,664.5L-304.0,663.7L-304.7,662.9L-305.4,662.1L-306.1,661.3L-306.7,660.5L-307.4,659.7L-308.1,658.9L-308.8,658.1L-309.4,657.3L-310.1,656.5L-310.7,655.7L-311.4,654.9L-312.1,654.1L-312.7,653.3L-313.4,652.5L-314.0,651.7L-314.7,650.9L-315.3,650.1L-315.9,649.2L-316.6,648.4L-317.2,647.6L-317.8,646.8L-318.5,646.0L-319.1,645.2L-319.7,644.4L-320.4,643.6L-321.0,642.8L-321.6,642.0L-322.2,641.2L-322.8,640.4L-323.4,639.6L-324.1,638.8L-324.7,638.0L-325.3,637.2L-325.9,636.4L-326.5,635.6L-327.1,634.8L-327.7,634.0L-328.3,633.2L-328.9,632.4L-329.4,631.5L-330.0,630.7L-330.6,629.9L-331.2,629.1L-331.8,628.3L-332.4,627.5L-332.9,626.7L-333.5,625.9L-334.1,625.1L-334.7,624.3L-335.2,623.5L-335.8,622.7L-336.4,621.9L-336.9,621.1L-337.5,620.3L-338.0,619.5L-338.6,618.7L-339.1,617.9L-339.7,617.1L-340.2,616.3L-340.8,615.5L-341.3,614.7L-341.9,613.8L-342.4,613.0L-342.9,612.2L-343.5,611.4L-344.0,610.6L-344.6,609.8L-345.1,609.0L-345.6,608.2L-346.1,607.4L-346.7,606.6L-347.2,605.8L-347.7,605.0L-348.2,604.2L-348.7,603.4L-349.2,602.6L-349.8,601.8L-350.3,601.0L-350.8,600.2L-351.3,599.4L-351.8,598.6L-352.3,597.8L-352.8,597.0L-353.3,596.1L-353.8,595.3L-354.3,594.5L-354.8,593.7L-355.3,592.9L-355.7,592.1L-356.2,591.3L-356.7,590.5L-357.2,589.7L-357.7,588.9L-358.2,588.1L-358.6,587.3L-359.1,586.5L-359.6,585.7L-360.1,584.9L-360.5,584.1L-361.0,583.3L-361.5,582.5L-361.9,581.7L-362.4,580.9L-362.8,580.1L-363.3,579.3L-363.8,578.5L-364.2,577.6L-364.7,576.8L-365.1,576.0L-365.6,575.2L-366.0,574.4L-366.5,573.6L-366.9,572.8L-367.3,572.0L-367.8,571.2L-368.2,570.4L-368.7,569.6L-369.1,568.8L-369.5,568.0L-370.0,567.2L-370.4,566.4L-370.8,565.6L-371.2,564.8L-371.7,564.0L-372.1,563.2L-372.5,562.4L-372.9,561.6L-373.4,560.8L-373.8,559.9L-374.2,559.1L-374.6,558.3L-375.0,557.5L-375.4,556.7L-375.8,555.9L-376.2,555.1L-376.6,554.3L-377.0,553.5L-377.4,552.7L-377.8,551.9L-378.2,551.1L-378.6,550.3L-379.0,549.5L-379.4,548.7L-379.8,547.9L-380.2,547.1L-380.6,546.3L-381.0,545.5L-381.4,544.7L-381.8,543.9L-382.1,543.1L-382.5,542.2L-382.9,541.4L-383.3,540.6L-383.7,539.8L-384.0,539.0L-384.4,538.2L-384.8,537.4L-385.2,536.6L-385.5,535.8L-385.9,535.0L-386.3,534.2L-386.6,533.4L-387.0,532.6L-387.4,531.8L-387.7,531.0L-388.1,530.2L-388.4,529.4L-388.8,528.6L-389.1,527.8L-389.5,527.0L-389.8,526.2L-390.2,525.4L-390.5,524.5L-390.9,523.7L-391.2,522.9L-391.6,522.1L-391.9,521.3L-392.3,520.5L-392.6,519.7L-392.9,518.9L-393.3,518.1L-393.6,517.3L-394.0,516.5L-394.3,515.7L-394.6,514.9L-395.0,514.1L-395.3,513.3L-395.6,512.5L-395.9,511.7L-396.3,510.9L-396.6,510.1L-396.9,509.3L-397.2,508.5L-397.6,507.7L-397.9,506.8L-398.2,506.0L-398.5,505.2L-398.8,504.4L-399.1,503.6L-399.4,502.8L-399.8,502.0L-400.1,501.2L-400.4,500.4L-400.7,499.6L-401.0,498.8L-401.3,498.0L-401.6,497.2L-401.9,496.4L-402.2,495.6L-402.5,494.8L-402.8,494.0L-403.1,493.2L-403.4,492.4L-403.7,491.6L-404.0,490.8L-404.3,490.0L-404.6,489.1L-404.9,488.3L-405.1,487.5L-405.4,486.7L-405.7,485.9L-406.0,485.1L-406.3,484.3L-406.6,483.5L-406.8,482.7L-407.1,481.9L-407.4,481.1L-407.7,480.3L-408.0,479.5L-408.2,478.7L-408.5,477.9L-408.8,477.1L-409.1,476.3L-409.3,475.5L-409.6,474.7L-409.9,473.9L-410.1,473.1L-410.4,472.3L-410.7,471.4L-410.9,470.6L-411.2,469.8L-411.5,469.0L-411.7,468.2L-412.0,467.4L-412.2,466.6L-412.5,465.8L-412.8,465.0L-413.0,464.2L-413.3,463.4L-413.5,462.6L-413.8,461.8L-414.0,461.0L-414.3,460.2L-414.5,459.4L-414.8,458.6L-415.0,457.8L-415.3,457.0L-415.5,456.2L-415.8,455.4L-416.0,454.6L-416.2,453.7L-416.5,452.9L-416.7,452.1L-417.0,451.3L-417.2,450.5L-417.4,449.7L-417.7,448.9L-417.9,448.1L-418.1,447.3L-418.4,446.5L-418.6,445.7L-418.8,444.9L-419.1,444.1L-419.3,443.3L-419.5,442.5L-419.7,441.7L-420.0,440.9L-420.2,440.1L-420.4,439.3L-420.6,438.5L-420.9,437.7L-421.1,436.9L-421.3,436.1L-421.5,435.2L-421.7,434.4L-422.0,433.6L-422.2,432.8L-422.4,432.0L-422.6,431.2L-422.8,430.4L-423.0,429.6L-423.3,428.8L-423.5,428.0L-423.7,427.2L-423.9,426.4L-424.1,425.6L-424.3,424.8L-424.5,424.0L-424.7,423.2L-424.9,422.4L-425.1,421.6L-425.3,420.8L-425.5,420.0L-425.7,419.2L-425.9,418.4L-426.1,417.5L-426.3,416.7L-426.5,415.9L-426.7,415.1L-426.9,414.3L-427.1,413.5L-427.3,412.7L-427.5,411.9L-427.7,411.1L-427.9,410.3L-428.1,409.5L-428.3,408.7L-428.5,407.9L-428.6,407.1L-428.8,406.3L-429.0,405.5L-429.2,404.7L-429.4,403.9L-429.6,403.1L-429.8,402.3L-429.9,401.5L-430.1,400.7L-430.3,399.8L-430.5,399.0L-430.7,398.2L-430.9,397.4L-431.0,396.6L-431.2,395.8L-431.4,395.0L-431.6,394.2L-431.7,393.4L-431.9,392.6L-432.1,391.8L-432.3,391.0L-432.4,390.2L-432.6,389.4L-432.8,388.6L-432.9,387.8L-433.1,387.0L-433.3,386.2L-433.4,385.4L-433.6,384.6L-433.8,383.8L-433.9,383.0L-434.1,382.1L-434.3,381.3L-434.4,380.5L-434.6,379.7L-434.8,378.9L-434.9,378.1L-435.1,377.3L-435.2,376.5L-435.4,375.7L-435.6,374.9L-435.7,374.1L-435.9,373.3L-436.0,372.5L-436.2,371.7L-436.3,370.9L-436.5,370.1L-436.7,369.3L-436.8,368.5L-437.0,367.7L-437.1,366.9L-437.3,366.1L-437.4,365.3L-437.6,364.4L-437.7,363.6L-437.9,362.8L-438.0,362.0L-438.2,361.2L-438.3,360.4L-438.4,359.6L-438.6,358.8L-438.7,358.0L-438.9,357.2L-439.0,356.4L-439.2,355.6L-439.3,354.8L-439.5,354.0L-439.6,353.2L-439.7,352.4L-439.9,351.6L-440.0,350.8L-440.2,350.0L-440.3,349.2L-440.4,348.4L-440.6,347.6L-440.7,346.7L-440.8,345.9L-441.0,345.1L-441.1,344.3L-441.2,343.5L-441.4,342.7L-441.5,341.9L-441.6,341.1L-441.8,340.3L-441.9,339.5L-442.0,338.7L-442.2,337.9L-442.3,337.1L-442.4,336.3L-442.5,335.5L-442.7,334.7L-442.8,333.9L-442.9,333.1L-443.0,332.3L-443.2,331.5L-443.3,330.7L-443.4,329.9L-443.5,329.0L-443.7,328.2L-443.8,327.4L-443.9,326.6L-444.0,325.8L-444.1,325.0L-444.3,324.2L-444.4,323.4L-444.5,322.6L-444.6,321.8L-444.7,321.0L-444.9,320.2L-445.0,319.4L-445.1,318.6L-445.2,317.8L-445.3,317.0L-445.4,316.2L-445.6,315.4L-445.7,314.6L-445.8,313.8L-445.9,313.0L-446.0,312.2L-446.1,311.3L-446.2,310.5L-446.3,309.7L-446.4,308.9L-446.6,308.1L-446.7,307.3L-446.8,306.5L-446.9,305.7L-447.0,304.9L-447.1,304.1L-447.2,303.3L-447.3,302.5L-447.4,301.7L-447.5,300.9L-447.6,300.1L-447.7,299.3L-447.8,298.5L-447.9,297.7L-448.0,296.9L-448.1,296.1L-448.2,295.3L-448.3,294.5L-448.4,293.6L-448.5,292.8L-448.6,292.0L-448.7,291.2L-448.8,290.4L-448.9,289.6L-449.0,288.8L-449.1,288.0L-449.2,287.2L-449.3,286.4L-449.4,285.6L-449.5,284.8L-449.6,284.0L-449.7,283.2L-449.8,282.4L-449.9,281.6L-450.0,280.8L-450.1,280.0L-450.2,279.2L-450.3,278.4L-450.4,277.6L-450.5,276.8L-450.6,276.0L-450.6,275.1L-450.7,274.3L-450.8,273.5L-450.9,272.7L-451.0,271.9L-451.1,271.1L-451.2,270.3L-451.3,269.5L-451.4,268.7L-451.4,267.9L-451.5,267.1L-451.6,266.3L-451.7,265.5L-451.8,264.7L-451.9,263.9L-452.0,263.1L-452.0,262.3L-452.1,261.5L-452.2,260.7L-452.3,259.9L-452.4,259.1L-452.5,258.3L-452.5,257.4L-452.6,256.6L-452.7,255.8L-452.8,255.0L-452.9,254.2L-453.0,253.4L-453.0,252.6L-453.1,251.8L-453.2,251.0L-453.3,250.2L-453.3,249.4L-453.4,248.6L-453.5,247.8L-453.6,247.0L-453.7,246.2L-453.7,245.4L-453.8,244.6L-453.9,243.8L-454.0,243.0L-454.0,242.2L-454.1,241.4L-454.2,240.6L-454.3,239.7L-454.3,238.9L-454.4,238.1L-454.5,237.3L-454.6,236.5L-454.6,235.7L-454.7,234.9L-454.8,234.1L-454.8,233.3L-454.9,232.5L-455.0,231.7L-455.1,230.9L-455.1,230.1L-455.2,229.3L-455.3,228.5L-455.3,227.7L-455.4,226.9L-455.5,226.1L-455.5,225.3L-455.6,224.5L-455.7,223.7L-455.7,222.9L-455.8,222.0L-455.9,221.2L-455.9,220.4L-456.0,219.6L-456.1,218.8L-456.1,218.0L-456.2,217.2L-456.3,216.4L-456.3,215.6L-456.4,214.8L-456.5,214.0L-456.5,213.2L-456.6,212.4L-456.7,211.6L-456.7,210.8L-456.8,210.0L-456.8,209.2L-456.9,208.4L-457.0,207.6L-457.0,206.8L-457.1,206.0L-457.2,205.2L-457.2,204.3L-457.3,203.5L-457.3,202.7L-457.4,201.9L-457.5,201.1L-457.5,200.3L-457.6,199.5L-457.6,198.7L-457.7,197.9L-457.7,197.1L-457.8,196.3L-457.9,195.5L-457.9,194.7L-458.0,193.9L-458.0,193.1L-458.1,192.3L-458.1,191.5L-458.2,190.7L-458.3,189.9L-458.3,189.1L-458.4,188.3L-458.4,187.5L-458.5,186.6L-458.5,185.8L-458.6,185.0L-458.6,184.2L-458.7,183.4L-458.7,182.6L-458.8,181.8L-458.9,181.0L-458.9,180.2L-459.0,179.4L-459.0,178.6L-459.1,177.8L-459.1,177.0L-459.2,176.2L-459.2,175.4L-459.3,174.6L-459.3,173.8L-459.4,173.0L-459.4,172.2L-459.5,171.4L-459.5,170.6L-459.6,169.8L-459.6,168.9L-459.7,168.1L-459.7,167.3L-459.8,166.5L-459.8,165.7L-459.9,164.9L-459.9,164.1L-460.0,163.3L-460.0,162.5L-460.1,161.7L-460.1,160.9L-460.1,160.1L-460.2,159.3L-460.2,158.5L-460.3,157.7L-460.3,156.9L-460.4,156.1L-460.4,155.3L-460.5,154.5L-460.5,153.7L-460.6,152.9L-460.6,152.1L-460.6,151.2L-460.7,150.4L-460.7,149.6L-460.8,148.8L-460.8,148.0L-460.9,147.2L-460.9,146.4L-461.0,145.6L-461.0,144.8L-461.0,144.0L-461.1,143.2L-461.1,142.4L-461.2,141.6L-461.2,140.8L-461.2,140.0L-461.3,139.2L-461.3,138.4L-461.4,137.6L-461.4,136.8L-461.4,136.0L-461.5,135.2L-461.5,134.4L-461.6,133.6L-461.6,132.7L-461.6,131.9L-461.7,131.1L-461.7,130.3L-461.8,129.5L-461.8,128.7L-461.8,127.9L-461.9,127.1L-461.9,126.3L-462.0,125.5L-462.0,124.7L-462.0,123.9L-462.1,123.1L-462.1,122.3L-462.1,121.5L-462.2,120.7L-462.2,119.9L-462.3,119.1L-462.3,118.3L-462.3,117.5L-462.4,116.7L-462.4,115.9L-462.4,115.0L-462.5,114.2L-462.5,113.4L-462.5,112.6L-462.6,111.8L-462.6,111.0L-462.7,110.2L-462.7,109.4L-462.7,108.6L-462.8,107.8L-462.8,107.0L-462.8,106.2L-462.9,105.4L-462.9,104.6L-462.9,103.8L-463.0,103.0L-463.0,102.2L-463.0,101.4L-463.1,100.6L-463.1,99.8L-463.1,99.0L-463.2,98.2L-463.2,97.3L-463.2,96.5L-463.2,95.7L-463.3,94.9L-463.3,94.1L-463.3,93.3L-463.4,92.5L-463.4,91.7L-463.4,90.9L-463.5,90.1L-463.5,89.3L-463.5,88.5L-463.6,87.7L-463.6,86.9L-463.6,86.1L-463.7,85.3L-463.7,84.5L-463.7,83.7L-463.7,82.9L-463.8,82.1L-463.8,81.3L-463.8,80.5L-463.9,79.6L-463.9,78.8L-463.9,78.0L-463.9,77.2L-464.0,76.4L-464.0,75.6L-464.0,74.8L-464.1,74.0L-464.1,73.2L-464.1,72.4L-464.1,71.6L-464.2,70.8L-464.2,70.0L-464.2,69.2L-464.2,68.4L-464.3,67.6L-464.3,66.8L-464.3,66.0L-464.4,65.2L-464.4,64.4L-464.4,63.6L-464.4,62.8L-464.5,61.9L-464.5,61.1L-464.5,60.3L-464.5,59.5L-464.6,58.7L-464.6,57.9L-464.6,57.1L-464.6,56.3L-464.7,55.5L-464.7,54.7L-464.7,53.9L-464.7,53.1L-464.8,52.3L-464.8,51.5L-464.8,50.7L-464.8,49.9L-464.9,49.1L-464.9,48.3L-464.9,47.5L-464.9,46.7L-465.0,45.9L-465.0,45.1L-465.0,44.2L-465.0,43.4L-465.0,42.6L-465.1,41.8L-465.1,41.0L-465.1,40.2L-465.1,39.4L-465.2,38.6L-465.2,37.8L-465.2,37.0L-465.2,36.2L-465.3,35.4L-465.3,34.6L-465.3,33.8L-465.3,33.0L-465.3,32.2L-465.4,31.4L-465.4,30.6L-465.4,29.8L-465.4,29.0L-465.4,28.2L-465.5,27.4L-465.5,26.5L-465.5,25.7L-465.5,24.9L-465.6,24.1L-465.6,23.3L-465.6,22.5L-465.6,21.7L-465.6,20.9L-465.7,20.1L-465.7,19.3L-465.7,18.5L-465.7,17.7L-465.7,16.9L-465.8,16.1L-465.8,15.3L-465.8,14.5L-465.8,13.7L-465.8,12.9L-465.9,12.1L-465.9,11.3L-465.9,10.5L-465.9,9.7L-465.9,8.8L-465.9,8.0L-466.0,7.2L-466.0,6.4L-466.0,5.6L-466.0,4.8L-466.0,4.0L-466.1,3.2L-466.1,2.4L-466.1,1.6L-466.1,0.8L-466.1,0.0" stroke="#ff0000" stroke-width="10.0" fill="none" stroke-linejoin="round" clip-path="url(#cdl)"/>
<g fill="#1e90ff" clip-path="url(#cdm)"><circle cx="852.0" cy="81.9" r="11"/><circle cx="797.2" cy="125.6" r="11"/><circle cx="791.2" cy="154.7" r="11"/><circle cx="822.6" cy="298.0" r="11"/><circle cx="825.9" cy="390.4" r="11"/><circle cx="800.7" cy="404.0" r="11"/><circle cx="751.0" cy="413.5" r="11"/><circle cx="751.6" cy="421.6" r="11"/><circle cx="853.1" cy="434.3" r="11"/><circle cx="828.2" cy="461.4" r="11"/><circle cx="726.5" cy="515.9" r="11"/><circle cx="698.0" cy="528.2" r="11"/><circle cx="719.6" cy="542.0" r="11"/><circle cx="633.7" cy="576.1" r="11"/><circle cx="731.8" cy="572.2" r="11"/><circle cx="636.0" cy="597.9" r="11"/><circle cx="587.1" cy="598.0" r="11"/><circle cx="698.8" cy="597.9" r="11"/><circle cx="758.5" cy="604.9" r="11"/><circle cx="433.3" cy="613.1" r="11"/><circle cx="791.5" cy="628.7" r="11"/><circle cx="517.8" cy="636.7" r="11"/><circle cx="740.8" cy="648.3" r="11"/><circle cx="672.8" cy="654.4" r="11"/><circle cx="628.1" cy="672.8" r="11"/><circle cx="715.8" cy="674.8" r="11"/><circle cx="774.0" cy="679.5" r="11"/><circle cx="714.7" cy="692.5" r="11"/><circle cx="341.4" cy="694.3" r="11"/><circle cx="435.9" cy="696.7" r="11"/><circle cx="598.8" cy="703.1" r="11"/><circle cx="693.3" cy="706.1" r="11"/><circle cx="638.2" cy="713.7" r="11"/><circle cx="655.5" cy="713.7" r="11"/><circle cx="673.9" cy="714.3" r="11"/><circle cx="669.8" cy="722.5" r="11"/><circle cx="687.1" cy="725.5" r="11"/><circle cx="810.6" cy="727.1" r="11"/><circle cx="493.4" cy="730.8" r="11"/><circle cx="745.3" cy="740.2" r="11"/><circle cx="417.4" cy="746.7" r="11"/><circle cx="546.9" cy="748.0" r="11"/><circle cx="347.6" cy="760.6" r="11"/><circle cx="523.9" cy="761.2" r="11"/><circle cx="674.3" cy="765.3" r="11"/><circle cx="521.2" cy="774.1" r="11"/><circle cx="224.1" cy="776.5" r="11"/><circle cx="515.4" cy="779.6" r="11"/><circle cx="416.9" cy="781.0" r="11"/><circle cx="402.7" cy="787.1" r="11"/><circle cx="495.6" cy="787.3" r="11"/><circle cx="535.7" cy="790.8" r="11"/><circle cx="354.3" cy="793.7" r="11"/><circle cx="589.6" cy="793.9" r="11"/><circle cx="674.3" cy="796.9" r="11"/><circle cx="374.7" cy="804.5" r="11"/><circle cx="353.7" cy="810.6" r="11"/><circle cx="363.9" cy="815.7" r="11"/><circle cx="532.0" cy="824.9" r="11"/><circle cx="187.4" cy="826.3" r="11"/></g>
<g fill="#1e90ff" clip-path="url(#cdl)"><circle cx="-469.7" cy="81.9" r="11"/><circle cx="-469.7" cy="125.6" r="11"/><circle cx="-469.7" cy="154.7" r="11"/><circle cx="-469.7" cy="298.0" r="11"/><circle cx="-469.7" cy="390.4" r="11"/><circle cx="-469.7" cy="404.0" r="11"/><circle cx="-469.7" cy="413.5" r="11"/><circle cx="-469.7" cy="421.6" r="11"/><circle cx="-469.7" cy="434.3" r="11"/><circle cx="-469.7" cy="461.4" r="11"/><circle cx="-469.7" cy="515.9" r="11"/><circle cx="-469.7" cy="528.2" r="11"/><circle cx="-469.7" cy="542.0" r="11"/><circle cx="-469.7" cy="576.1" r="11"/><circle cx="-469.7" cy="572.2" r="11"/><circle cx="-469.7" cy="597.9" r="11"/><circle cx="-469.7" cy="598.0" r="11"/><circle cx="-469.7" cy="597.9" r="11"/><circle cx="-469.7" cy="604.9" r="11"/><circle cx="-469.7" cy="613.1" r="11"/><circle cx="-469.7" cy="628.7" r="11"/><circle cx="-469.7" cy="636.7" r="11"/><circle cx="-469.7" cy="648.3" r="11"/><circle cx="-469.7" cy="654.4" r="11"/><circle cx="-469.7" cy="672.8" r="11"/><circle cx="-469.7" cy="674.8" r="11"/><circle cx="-469.7" cy="679.5" r="11"/><circle cx="-469.7" cy="692.5" r="11"/><circle cx="-469.7" cy="694.3" r="11"/><circle cx="-469.7" cy="696.7" r="11"/><circle cx="-469.7" cy="703.1" r="11"/><circle cx="-469.7" cy="706.1" r="11"/><circle cx="-469.7" cy="713.7" r="11"/><circle cx="-469.7" cy="713.7" r="11"/><circle cx="-469.7" cy="714.3" r="11"/><circle cx="-469.7" cy="722.5" r="11"/><circle cx="-469.7" cy="725.5" r="11"/><circle cx="-469.7" cy="727.1" r="11"/><circle cx="-469.7" cy="730.8" r="11"/><circle cx="-469.7" cy="740.2" r="11"/><circle cx="-469.7" cy="746.7" r="11"/><circle cx="-469.7" cy="748.0" r="11"/><circle cx="-469.7" cy="760.6" r="11"/><circle cx="-469.7" cy="761.2" r="11"/><circle cx="-469.7" cy="765.3" r="11"/><circle cx="-469.7" cy="774.1" r="11"/><circle cx="-469.7" cy="776.5" r="11"/><circle cx="-469.7" cy="779.6" r="11"/><circle cx="-469.7" cy="781.0" r="11"/><circle cx="-469.7" cy="787.1" r="11"/><circle cx="-469.7" cy="787.3" r="11"/><circle cx="-469.7" cy="790.8" r="11"/><circle cx="-469.7" cy="793.7" r="11"/><circle cx="-469.7" cy="793.9" r="11"/><circle cx="-469.7" cy="796.9" r="11"/><circle cx="-469.7" cy="804.5" r="11"/><circle cx="-469.7" cy="810.6" r="11"/><circle cx="-469.7" cy="815.7" r="11"/><circle cx="-469.7" cy="824.9" r="11"/><circle cx="-469.7" cy="826.3" r="11"/></g>
<g fill="#1e90ff" clip-path="url(#cdb)"><circle cx="852.0" cy="1433.8" r="11"/><circle cx="797.2" cy="1433.8" r="11"/><circle cx="791.2" cy="1433.8" r="11"/><circle cx="822.6" cy="1433.8" r="11"/><circle cx="825.9" cy="1433.8" r="11"/><circle cx="800.7" cy="1433.8" r="11"/><circle cx="751.0" cy="1433.8" r="11"/><circle cx="751.6" cy="1433.8" r="11"/><circle cx="853.1" cy="1433.8" r="11"/><circle cx="828.2" cy="1433.8" r="11"/><circle cx="726.5" cy="1433.8" r="11"/><circle cx="698.0" cy="1433.8" r="11"/><circle cx="719.6" cy="1433.8" r="11"/><circle cx="633.7" cy="1433.8" r="11"/><circle cx="731.8" cy="1433.8" r="11"/><circle cx="636.0" cy="1433.8" r="11"/><circle cx="587.1" cy="1433.8" r="11"/><circle cx="698.8" cy="1433.8" r="11"/><circle cx="758.5" cy="1433.8" r="11"/><circle cx="433.3" cy="1433.8" r="11"/><circle cx="791.5" cy="1433.8" r="11"/><circle cx="517.8" cy="1433.8" r="11"/><circle cx="740.8" cy="1433.8" r="11"/><circle cx="672.8" cy="1433.8" r="11"/><circle cx="628.1" cy="1433.8" r="11"/><circle cx="715.8" cy="1433.8" r="11"/><circle cx="774.0" cy="1433.8" r="11"/><circle cx="714.7" cy="1433.8" r="11"/><circle cx="341.4" cy="1433.8" r="11"/><circle cx="435.9" cy="1433.8" r="11"/><circle cx="598.8" cy="1433.8" r="11"/><circle cx="693.3" cy="1433.8" r="11"/><circle cx="638.2" cy="1433.8" r="11"/><circle cx="655.5" cy="1433.8" r="11"/><circle cx="673.9" cy="1433.8" r="11"/><circle cx="669.8" cy="1433.8" r="11"/><circle cx="687.1" cy="1433.8" r="11"/><circle cx="810.6" cy="1433.8" r="11"/><circle cx="493.4" cy="1433.8" r="11"/><circle cx="745.3" cy="1433.8" r="11"/><circle cx="417.4" cy="1433.8" r="11"/><circle cx="546.9" cy="1433.8" r="11"/><circle cx="347.6" cy="1433.8" r="11"/><circle cx="523.9" cy="1433.8" r="11"/><circle cx="674.3" cy="1433.8" r="11"/><circle cx="521.2" cy="1433.8" r="11"/><circle cx="224.1" cy="1433.8" r="11"/><circle cx="515.4" cy="1433.8" r="11"/><circle cx="416.9" cy="1433.8" r="11"/><circle cx="402.7" cy="1433.8" r="11"/><circle cx="495.6" cy="1433.8" r="11"/><circle cx="535.7" cy="1433.8" r="11"/><circle cx="354.3" cy="1433.8" r="11"/><circle cx="589.6" cy="1433.8" r="11"/><circle cx="674.3" cy="1433.8" r="11"/><circle cx="374.7" cy="1433.8" r="11"/><circle cx="353.7" cy="1433.8" r="11"/><circle cx="363.9" cy="1433.8" r="11"/><circle cx="532.0" cy="1433.8" r="11"/><circle cx="187.4" cy="1433.8" r="11"/></g>
<rect x="0.0" y="0.0" width="965.2" height="964.6" fill="none" stroke="#000" stroke-width="5.3"/>
<rect x="-481.8" y="0.0" width="289.0" height="964.6" fill="none" stroke="#000" stroke-width="5.3"/>
<rect x="0.0" y="1157.6" width="965.2" height="289.3" fill="none" stroke="#000" stroke-width="5.3"/>
<line x1="0.0" y1="964.6" x2="0.0" y2="989.1" stroke="#000" stroke-width="5.3"/>
<line x1="275.8" y1="964.6" x2="275.8" y2="989.1" stroke="#000" stroke-width="5.3"/>
<line x1="551.5" y1="964.6" x2="551.5" y2="989.1" stroke="#000" stroke-width="5.3"/>
<line x1="827.3" y1="964.6" x2="827.3" y2="989.1" stroke="#000" stroke-width="5.3"/>
<line x1="0.0" y1="1446.9" x2="0.0" y2="1471.4" stroke="#000" stroke-width="5.3"/>
<line x1="275.8" y1="1446.9" x2="275.8" y2="1471.4" stroke="#000" stroke-width="5.3"/>
<line x1="551.5" y1="1446.9" x2="551.5" y2="1471.4" stroke="#000" stroke-width="5.3"/>
<line x1="827.3" y1="1446.9" x2="827.3" y2="1471.4" stroke="#000" stroke-width="5.3"/>
<line x1="-469.7" y1="964.6" x2="-469.7" y2="989.1" stroke="#000" stroke-width="5.3"/>
<line x1="-310.7" y1="964.6" x2="-310.7" y2="989.1" stroke="#000" stroke-width="5.3"/>
<line x1="-24.5" y1="857.4" x2="0.0" y2="857.4" stroke="#000" stroke-width="5.3"/>
<line x1="-24.5" y1="643.1" x2="0.0" y2="643.1" stroke="#000" stroke-width="5.3"/>
<line x1="-24.5" y1="428.7" x2="0.0" y2="428.7" stroke="#000" stroke-width="5.3"/>
<line x1="-24.5" y1="214.4" x2="0.0" y2="214.4" stroke="#000" stroke-width="5.3"/>
<line x1="-24.5" y1="0.0" x2="0.0" y2="0.0" stroke="#000" stroke-width="5.3"/>
<line x1="-506.3" y1="857.4" x2="-481.8" y2="857.4" stroke="#000" stroke-width="5.3"/>
<line x1="-506.3" y1="643.1" x2="-481.8" y2="643.1" stroke="#000" stroke-width="5.3"/>
<line x1="-506.3" y1="428.7" x2="-481.8" y2="428.7" stroke="#000" stroke-width="5.3"/>
<line x1="-506.3" y1="214.4" x2="-481.8" y2="214.4" stroke="#000" stroke-width="5.3"/>
<line x1="-506.3" y1="0.0" x2="-481.8" y2="0.0" stroke="#000" stroke-width="5.3"/>
<line x1="-24.5" y1="1433.8" x2="0.0" y2="1433.8" stroke="#000" stroke-width="5.3"/>
<line x1="-24.5" y1="1260.0" x2="0.0" y2="1260.0" stroke="#000" stroke-width="5.3"/>
<rect x="-41.5" y="1039.1" width="41.6" height="5.6" fill="#000"/>
<text x="6.7" y="1062.6" font-size="67.0" text-anchor="start" font-family="Liberation Sans, sans-serif" textLength="41.8" lengthAdjust="spacingAndGlyphs" >3</text>
<rect x="-41.5" y="1521.4" width="41.6" height="5.6" fill="#000"/>
<text x="6.7" y="1544.9" font-size="67.0" text-anchor="start" font-family="Liberation Sans, sans-serif" textLength="41.8" lengthAdjust="spacingAndGlyphs" >3</text>
<rect x="234.3" y="1039.1" width="41.6" height="5.6" fill="#000"/>
<text x="282.5" y="1062.6" font-size="67.0" text-anchor="start" font-family="Liberation Sans, sans-serif" textLength="41.8" lengthAdjust="spacingAndGlyphs" >2</text>
<rect x="234.3" y="1521.4" width="41.6" height="5.6" fill="#000"/>
<text x="282.5" y="1544.9" font-size="67.0" text-anchor="start" font-family="Liberation Sans, sans-serif" textLength="41.8" lengthAdjust="spacingAndGlyphs" >2</text>
<rect x="510.1" y="1039.1" width="41.6" height="5.6" fill="#000"/>
<text x="558.2" y="1062.6" font-size="67.0" text-anchor="start" font-family="Liberation Sans, sans-serif" textLength="41.8" lengthAdjust="spacingAndGlyphs" >1</text>
<rect x="510.1" y="1521.4" width="41.6" height="5.6" fill="#000"/>
<text x="558.2" y="1544.9" font-size="67.0" text-anchor="start" font-family="Liberation Sans, sans-serif" textLength="41.8" lengthAdjust="spacingAndGlyphs" >1</text>
<text x="806.4" y="1062.6" font-size="67.0" text-anchor="start" font-family="Liberation Sans, sans-serif" textLength="41.8" lengthAdjust="spacingAndGlyphs" >0</text>
<text x="806.4" y="1544.9" font-size="67.0" text-anchor="start" font-family="Liberation Sans, sans-serif" textLength="41.8" lengthAdjust="spacingAndGlyphs" >0</text>
<text x="-522.0" y="1062.6" font-size="67.0" text-anchor="start" font-family="Liberation Sans, sans-serif" textLength="104.5" lengthAdjust="spacingAndGlyphs" >0.0</text>
<text x="-362.9" y="1062.6" font-size="67.0" text-anchor="start" font-family="Liberation Sans, sans-serif" textLength="104.5" lengthAdjust="spacingAndGlyphs" >0.5</text>
<text x="-89.8" y="882.9" font-size="67.0" text-anchor="start" font-family="Liberation Sans, sans-serif" textLength="41.8" lengthAdjust="spacingAndGlyphs" >0</text>
<text x="-571.6" y="882.9" font-size="67.0" text-anchor="start" font-family="Liberation Sans, sans-serif" textLength="41.8" lengthAdjust="spacingAndGlyphs" >0</text>
<text x="-89.8" y="668.6" font-size="67.0" text-anchor="start" font-family="Liberation Sans, sans-serif" textLength="41.8" lengthAdjust="spacingAndGlyphs" >1</text>
<text x="-571.6" y="668.6" font-size="67.0" text-anchor="start" font-family="Liberation Sans, sans-serif" textLength="41.8" lengthAdjust="spacingAndGlyphs" >1</text>
<text x="-89.8" y="454.2" font-size="67.0" text-anchor="start" font-family="Liberation Sans, sans-serif" textLength="41.8" lengthAdjust="spacingAndGlyphs" >2</text>
<text x="-571.6" y="454.2" font-size="67.0" text-anchor="start" font-family="Liberation Sans, sans-serif" textLength="41.8" lengthAdjust="spacingAndGlyphs" >2</text>
<text x="-89.8" y="239.9" font-size="67.0" text-anchor="start" font-family="Liberation Sans, sans-serif" textLength="41.8" lengthAdjust="spacingAndGlyphs" >3</text>
<text x="-571.6" y="239.9" font-size="67.0" text-anchor="start" font-family="Liberation Sans, sans-serif" textLength="41.8" lengthAdjust="spacingAndGlyphs" >3</text>
<text x="-89.8" y="25.5" font-size="67.0" text-anchor="start" font-family="Liberation Sans, sans-serif" textLength="41.8" lengthAdjust="spacingAndGlyphs" >4</text>
<text x="-571.6" y="25.5" font-size="67.0" text-anchor="start" font-family="Liberation Sans, sans-serif" textLength="41.8" lengthAdjust="spacingAndGlyphs" >4</text>
<text x="-152.5" y="1459.3" font-size="67.0" text-anchor="start" font-family="Liberation Sans, sans-serif" textLength="104.5" lengthAdjust="spacingAndGlyphs" >0.0</text>
<text x="-152.5" y="1285.5" font-size="67.0" text-anchor="start" font-family="Liberation Sans, sans-serif" textLength="104.5" lengthAdjust="spacingAndGlyphs" >0.5</text>
<text x="482.6" y="-40.0" font-size="82.5" text-anchor="middle" font-family="Liberation Sans, sans-serif" textLength="650.0" lengthAdjust="spacingAndGlyphs" >2D Model Space</text>
<text x="482.6" y="1635.8" font-size="67.0" text-anchor="middle" font-family="Liberation Sans, sans-serif" textLength="557.0" lengthAdjust="spacingAndGlyphs" >Model variable 1</text>
<text x="-337.3" y="1154.1" font-size="67.0" text-anchor="middle" font-family="Liberation Sans, sans-serif" textLength="127.0" lengthAdjust="spacingAndGlyphs" >PDF</text>
<text x="-614.1" y="482.3" font-size="67.0" text-anchor="middle" font-family="Liberation Sans, sans-serif" textLength="554.0" lengthAdjust="spacingAndGlyphs" transform="rotate(-90 -614.1 482.3)" >Model variable 2</text>
<text x="-193.8" y="1302.2" font-size="67.0" text-anchor="middle" font-family="Liberation Sans, sans-serif" textLength="127.0" lengthAdjust="spacingAndGlyphs" transform="rotate(-90 -193.8 1302.2)" >PDF</text>
</g>
<path d="M135,4374L228,4467M135,4467L228,4374" stroke="#ff0000" stroke-width="13.2" fill="none"/>
<rect x="1415" y="4411" width="203" height="26.5" fill="#ff0000"/>
<circle cx="2663.4" cy="4422.8" r="46" fill="#1e90ff"/>
</svg></body></html>
